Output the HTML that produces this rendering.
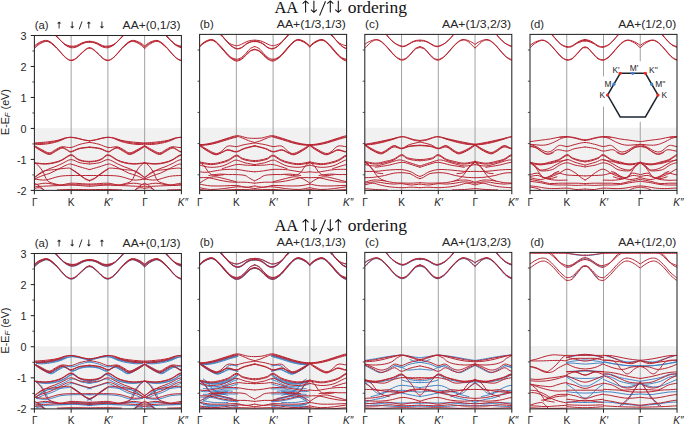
<!DOCTYPE html><html><head><meta charset="utf-8"><style>html,body{margin:0;padding:0;background:#fff;width:685px;height:425px;overflow:hidden}svg{display:block}text{font-family:"Liberation Sans",sans-serif;fill:#262626}.sr{font-family:"Liberation Serif",serif;fill:#111}</style></head><body>
<svg width="685" height="425" viewBox="0 0 685 425">
<rect width="685" height="425" fill="#fff"/>
<text class="sr" x="274.4" y="12.60" font-size="16.6" textLength="23.9" lengthAdjust="spacingAndGlyphs">AA</text>
<text class="sr" x="347.7" y="12.60" font-size="16.6" textLength="59.2" lengthAdjust="spacingAndGlyphs">ordering</text>
<path d="M305.60 12.60V1.10M302.60 3.70L305.60 0.90L308.60 3.70" stroke="#111" stroke-width="1.05" fill="none"/>
<path d="M313.90 0.70V12.20M310.90 9.60L313.90 12.40L316.90 9.60" stroke="#111" stroke-width="1.05" fill="none"/>
<path d="M330.30 12.60V1.10M327.30 3.70L330.30 0.90L333.30 3.70" stroke="#111" stroke-width="1.05" fill="none"/>
<path d="M338.30 0.70V12.20M335.30 9.60L338.30 12.40L341.30 9.60" stroke="#111" stroke-width="1.05" fill="none"/>
<line x1="319.6" y1="15.60" x2="325.5" y2="1.20" stroke="#111" stroke-width="1.05"/>
<rect x="34.40" y="128.14" width="147.00" height="62.26" fill="#f1f1f1"/>
<line x1="71.15" y1="35.50" x2="71.15" y2="190.40" stroke="#a2a2a2" stroke-width="1"/>
<line x1="107.90" y1="35.50" x2="107.90" y2="190.40" stroke="#a2a2a2" stroke-width="1"/>
<line x1="144.65" y1="35.50" x2="144.65" y2="190.40" stroke="#a2a2a2" stroke-width="1"/>
<clipPath id="c00"><rect x="34.40" y="35.50" width="147.00" height="154.90"/></clipPath>
<g clip-path="url(#c00)" fill="none" stroke-linejoin="round" stroke-linecap="round">
<path d="M34.5 45.9C35.3 45.3 37.4 43.4 39.2 42.5C41.1 41.6 43.8 40.5 45.6 40.4C47.4 40.3 48.4 40.8 50.1 41.8C51.8 42.8 53.6 44.4 55.5 46.4C57.5 48.4 60.1 51.7 61.9 53.6C63.7 55.6 64.9 57.0 66.4 58.1C67.9 59.2 69.4 60.1 70.9 60.2C72.4 60.2 73.8 59.7 75.4 58.6C77.1 57.5 79.1 55.3 80.9 53.6C82.7 52.0 84.9 49.8 86.3 48.8C87.7 47.8 88.9 47.9 89.5 47.7M144.5 45.9C143.7 45.3 141.6 43.4 139.8 42.5C138.0 41.6 135.3 40.5 133.5 40.4C131.7 40.3 130.6 40.8 128.9 41.8C127.3 42.8 125.5 44.4 123.5 46.4C121.6 48.4 119.0 51.7 117.2 53.6C115.4 55.6 114.2 57.0 112.7 58.1C111.1 59.2 109.6 60.1 108.1 60.2C106.6 60.2 105.3 59.7 103.6 58.6C101.9 57.5 100.0 55.3 98.2 53.6C96.4 52.0 94.2 49.8 92.7 48.8C91.3 47.8 90.1 47.9 89.6 47.7M144.8 45.9C145.6 45.3 147.7 43.4 149.5 42.5C151.3 41.6 154.0 40.5 155.8 40.4C157.6 40.3 158.7 40.8 160.4 41.8C162.0 42.8 163.8 44.4 165.8 46.4C167.7 48.4 170.3 51.7 172.1 53.6C173.9 55.6 175.1 57.0 176.6 58.1C178.2 59.2 179.7 60.1 181.2 60.2C182.7 60.2 184.0 59.7 185.7 58.6C187.4 57.5 190.2 54.5 191.1 53.6M34.5 47.0C35.3 46.4 37.4 44.4 39.2 43.4C41.1 42.4 43.8 41.1 45.6 41.0C47.4 40.8 48.4 41.3 50.1 42.3C51.8 43.3 53.6 44.9 55.5 46.8C57.5 48.8 60.1 52.1 61.9 54.0C63.7 55.9 64.9 57.3 66.4 58.4C67.9 59.5 69.4 60.5 70.9 60.6C72.4 60.7 73.8 60.2 75.4 59.1C77.1 58.0 79.1 55.6 80.9 54.0C82.7 52.4 84.9 50.3 86.3 49.3C87.7 48.3 88.9 48.4 89.5 48.2M144.5 47.0C143.7 46.4 141.6 44.4 139.8 43.4C138.0 42.4 135.3 41.1 133.5 41.0C131.7 40.8 130.6 41.3 128.9 42.3C127.3 43.3 125.5 44.9 123.5 46.8C121.6 48.8 119.0 52.1 117.2 54.0C115.4 55.9 114.2 57.3 112.7 58.4C111.1 59.5 109.6 60.5 108.1 60.6C106.6 60.7 105.3 60.2 103.6 59.1C101.9 58.0 100.0 55.6 98.2 54.0C96.4 52.4 94.2 50.3 92.7 49.3C91.3 48.3 90.1 48.4 89.6 48.2M144.8 47.0C145.6 46.4 147.7 44.4 149.5 43.4C151.3 42.4 154.0 41.1 155.8 41.0C157.6 40.8 158.7 41.3 160.4 42.3C162.0 43.3 163.8 44.9 165.8 46.8C167.7 48.8 170.3 52.1 172.1 54.0C173.9 55.9 175.1 57.3 176.6 58.4C178.2 59.5 179.7 60.5 181.2 60.6C182.7 60.7 184.0 60.2 185.7 59.1C187.4 58.0 190.2 54.8 191.1 54.0M34.5 48.4C35.3 47.7 37.4 45.5 39.2 44.3C41.1 43.2 43.8 41.7 45.6 41.4C47.4 41.1 48.4 41.6 50.1 42.6C51.8 43.5 54.6 46.4 55.5 47.1M144.5 48.4C143.7 47.7 141.6 45.5 139.8 44.3C138.0 43.2 135.3 41.7 133.5 41.4C131.7 41.1 130.6 41.6 128.9 42.6C127.3 43.5 124.4 46.4 123.5 47.1M144.8 48.4C145.6 47.7 147.7 45.5 149.5 44.3C151.3 43.2 154.0 41.7 155.8 41.4C157.6 41.1 158.7 41.6 160.4 42.6C162.0 43.5 164.9 46.4 165.8 47.1M54.6 34.8C55.4 35.5 57.5 37.6 59.2 39.2C60.8 40.7 62.6 42.9 64.6 44.0C66.5 45.2 69.0 45.9 70.9 46.1C72.9 46.4 74.5 46.2 76.4 45.7C78.2 45.1 80.1 43.6 81.8 43.0C83.4 42.3 85.0 41.9 86.3 41.6C87.6 41.3 88.9 41.4 89.5 41.3M124.4 34.8C123.7 35.5 121.6 37.6 119.9 39.2C118.2 40.7 116.4 42.9 114.5 44.0C112.5 45.2 110.1 45.9 108.1 46.1C106.2 46.4 104.5 46.2 102.7 45.7C100.9 45.1 98.9 43.6 97.3 43.0C95.6 42.3 94.0 41.9 92.7 41.6C91.5 41.3 90.1 41.4 89.6 41.3M164.9 34.8C165.6 35.5 167.7 37.6 169.4 39.2C171.1 40.7 172.9 42.9 174.8 44.0C176.8 45.2 179.2 45.9 181.2 46.1C183.1 46.4 184.8 46.2 186.6 45.7C188.4 45.1 191.1 43.4 192.0 43.0M55.1 34.8C55.8 35.6 57.9 37.9 59.6 39.5C61.3 41.1 63.2 43.4 65.0 44.6C66.9 45.8 69.0 46.5 70.9 46.8C72.8 47.1 74.5 46.9 76.4 46.4C78.2 45.9 80.1 44.3 81.8 43.6C83.4 42.9 85.0 42.3 86.3 42.1C87.6 41.8 88.9 41.9 89.5 41.9M124.0 34.8C123.2 35.6 121.1 37.9 119.4 39.5C117.8 41.1 115.9 43.4 114.0 44.6C112.1 45.8 110.0 46.5 108.1 46.8C106.2 47.1 104.5 46.9 102.7 46.4C100.9 45.9 98.9 44.3 97.3 43.6C95.6 42.9 94.0 42.3 92.7 42.1C91.5 41.8 90.1 41.9 89.6 41.9M165.3 34.8C166.1 35.6 168.2 37.9 169.9 39.5C171.5 41.1 173.4 43.4 175.3 44.6C177.2 45.8 179.3 46.5 181.2 46.8C183.1 47.1 184.8 46.9 186.6 46.4C188.4 45.9 191.1 44.1 192.0 43.6M55.5 34.8C56.3 35.7 58.4 38.2 60.1 39.9C61.7 41.6 63.7 43.8 65.5 45.1C67.3 46.4 69.1 47.3 70.9 47.7C72.7 48.0 74.5 47.6 76.4 47.0C78.2 46.4 80.1 44.8 81.8 44.0C83.4 43.3 85.0 42.7 86.3 42.4C87.6 42.1 88.9 42.3 89.5 42.3M123.5 34.8C122.8 35.7 120.7 38.2 119.0 39.9C117.3 41.6 115.4 43.8 113.6 45.1C111.8 46.4 109.9 47.3 108.1 47.7C106.3 48.0 104.5 47.6 102.7 47.0C100.9 46.4 98.9 44.8 97.3 44.0C95.6 43.3 94.0 42.7 92.7 42.4C91.5 42.1 90.1 42.3 89.6 42.3M165.8 34.8C166.5 35.7 168.6 38.2 170.3 39.9C172.0 41.6 173.9 43.8 175.7 45.1C177.5 46.4 179.4 47.3 181.2 47.7C183.0 48.0 184.8 47.6 186.6 47.0C188.4 46.4 191.1 44.5 192.0 44.0M34.5 142.9C35.6 142.9 38.5 142.7 41.1 142.5C43.6 142.3 47.2 142.0 50.1 141.6C53.0 141.2 55.8 140.8 58.2 140.2C60.7 139.6 62.5 138.6 64.6 138.1C66.7 137.6 68.8 137.2 70.9 137.2C73.0 137.2 75.1 137.7 77.3 138.1C79.4 138.6 81.6 139.3 83.6 139.8C85.6 140.2 88.5 140.5 89.5 140.7M144.5 142.9C143.4 142.9 140.6 142.7 138.0 142.5C135.4 142.3 131.8 142.0 128.9 141.6C126.1 141.2 123.2 140.8 120.8 140.2C118.4 139.6 116.6 138.6 114.5 138.1C112.4 137.6 110.2 137.2 108.1 137.2C106.0 137.2 103.9 137.7 101.8 138.1C99.7 138.6 97.5 139.3 95.5 139.8C93.4 140.2 90.6 140.5 89.6 140.7M144.8 142.9C145.9 142.9 148.7 142.7 151.3 142.5C153.9 142.3 157.5 142.0 160.4 141.6C163.2 141.2 166.1 140.8 168.5 140.2C170.9 139.6 172.7 138.6 174.8 138.1C176.9 137.6 179.1 137.2 181.2 137.2C183.3 137.2 186.4 138.0 187.5 138.1M34.5 143.6C35.6 143.6 38.5 143.7 41.1 143.6C43.6 143.4 47.2 143.0 50.1 142.5C53.0 142.0 55.8 141.4 58.2 140.7C60.7 140.0 62.5 139.0 64.6 138.4C66.7 137.9 68.8 137.4 70.9 137.4C73.0 137.4 75.1 138.0 77.3 138.4C79.4 138.8 81.6 139.5 83.6 139.9C85.6 140.4 88.5 140.7 89.5 140.9M144.5 143.6C143.4 143.6 140.6 143.7 138.0 143.6C135.4 143.4 131.8 143.0 128.9 142.5C126.1 142.0 123.2 141.4 120.8 140.7C118.4 140.0 116.6 139.0 114.5 138.4C112.4 137.9 110.2 137.4 108.1 137.4C106.0 137.4 103.9 138.0 101.8 138.4C99.7 138.8 97.5 139.5 95.5 139.9C93.4 140.4 90.6 140.7 89.6 140.9M144.8 143.6C145.9 143.6 148.7 143.7 151.3 143.6C153.9 143.4 157.5 143.0 160.4 142.5C163.2 142.0 166.1 141.4 168.5 140.7C170.9 140.0 172.7 139.0 174.8 138.4C176.9 137.9 179.1 137.4 181.2 137.4C183.3 137.4 186.4 138.2 187.5 138.4M34.5 144.1C35.6 144.2 38.5 144.6 41.1 144.5C43.6 144.4 47.2 143.9 50.1 143.4C53.0 142.9 55.8 142.2 58.2 141.4C60.7 140.6 63.5 139.1 64.6 138.7M144.5 144.1C143.4 144.2 140.6 144.6 138.0 144.5C135.4 144.4 131.8 143.9 128.9 143.4C126.1 142.9 123.2 142.2 120.8 141.4C118.4 140.6 115.5 139.1 114.5 138.7M144.8 144.1C145.9 144.2 148.7 144.6 151.3 144.5C153.9 144.4 157.5 143.9 160.4 143.4C163.2 142.9 166.1 142.2 168.5 141.4C170.9 140.6 173.8 139.1 174.8 138.7M34.5 145.6C35.6 146.3 38.6 148.1 41.1 149.3C43.5 150.5 46.8 152.8 49.2 152.9C51.6 153.0 53.4 150.7 55.5 149.7C57.6 148.7 59.3 147.2 61.9 146.8C64.4 146.4 67.9 147.9 70.9 147.5C73.9 147.0 76.9 145.2 80.0 144.3C83.1 143.4 87.9 142.6 89.5 142.3M144.5 145.6C143.4 146.3 140.4 148.1 138.0 149.3C135.6 150.5 132.3 152.8 129.9 152.9C127.4 153.0 125.6 150.7 123.5 149.7C121.4 148.7 119.7 147.2 117.2 146.8C114.6 146.4 111.1 147.9 108.1 147.5C105.1 147.0 102.2 145.2 99.1 144.3C96.0 143.4 91.2 142.6 89.6 142.3M144.8 145.6C145.9 146.3 148.9 148.1 151.3 149.3C153.7 150.5 157.0 152.8 159.4 152.9C161.9 153.0 163.7 150.7 165.8 149.7C167.9 148.7 169.6 147.2 172.1 146.8C174.7 146.4 178.2 147.9 181.2 147.5C184.2 147.0 188.7 144.8 190.2 144.3M34.5 146.1C35.6 146.8 38.6 148.9 41.1 150.2C43.5 151.5 46.8 153.7 49.2 153.8C51.6 153.9 53.4 151.7 55.5 150.6C57.6 149.6 60.1 147.7 61.9 147.5C63.7 147.2 64.9 148.6 66.4 149.3C67.9 149.9 68.8 151.7 70.9 151.5C73.0 151.4 76.0 149.1 79.1 148.4C82.2 147.6 87.7 147.2 89.5 147.0M144.5 146.1C143.4 146.8 140.4 148.9 138.0 150.2C135.6 151.5 132.3 153.7 129.9 153.8C127.4 153.9 125.6 151.7 123.5 150.6C121.4 149.6 119.0 147.7 117.2 147.5C115.4 147.2 114.2 148.6 112.7 149.3C111.1 149.9 110.2 151.7 108.1 151.5C106.0 151.4 103.1 149.1 100.0 148.4C96.9 147.6 91.3 147.2 89.6 147.0M144.8 146.1C145.9 146.8 148.9 148.9 151.3 150.2C153.7 151.5 157.0 153.7 159.4 153.8C161.9 153.9 163.7 151.7 165.8 150.6C167.9 149.6 170.3 147.7 172.1 147.5C173.9 147.2 175.1 148.6 176.6 149.3C178.2 149.9 179.1 151.7 181.2 151.5C183.3 151.4 188.0 148.9 189.3 148.4M34.5 146.6C35.6 147.3 38.6 149.5 41.1 150.8C43.5 152.1 46.8 154.4 49.2 154.5C51.6 154.6 53.4 152.4 55.5 151.4C57.6 150.3 60.1 148.4 61.9 148.1C63.7 147.8 64.9 149.1 66.4 149.7C67.9 150.4 68.8 152.1 70.9 152.0C73.0 151.8 76.0 149.6 79.1 148.8C82.2 148.0 87.7 147.6 89.5 147.4M144.5 146.6C143.4 147.3 140.4 149.5 138.0 150.8C135.6 152.1 132.3 154.4 129.9 154.5C127.4 154.6 125.6 152.4 123.5 151.4C121.4 150.3 119.0 148.4 117.2 148.1C115.4 147.8 114.2 149.1 112.7 149.7C111.1 150.4 110.2 152.1 108.1 152.0C106.0 151.8 103.1 149.6 100.0 148.8C96.9 148.0 91.3 147.6 89.6 147.4M144.8 146.6C145.9 147.3 148.9 149.5 151.3 150.8C153.7 152.1 157.0 154.4 159.4 154.5C161.9 154.6 163.7 152.4 165.8 151.4C167.9 150.3 170.3 148.4 172.1 148.1C173.9 147.8 175.1 149.1 176.6 149.7C178.2 150.4 179.1 152.1 181.2 152.0C183.3 151.8 188.0 149.3 189.3 148.8M34.5 162.8C36.4 162.9 42.2 163.8 45.6 163.7C48.9 163.6 51.9 163.0 54.6 162.3C57.3 161.7 59.2 161.1 61.9 159.8C64.6 158.5 68.4 154.9 70.9 154.7C73.5 154.6 75.3 157.7 77.3 158.7C79.2 159.7 80.6 160.3 82.7 160.7C84.7 161.2 88.3 161.3 89.5 161.4M144.5 162.8C142.7 162.9 136.8 163.8 133.5 163.7C130.1 163.6 127.1 163.0 124.4 162.3C121.7 161.7 119.9 161.1 117.2 159.8C114.5 158.5 110.7 154.9 108.1 154.7C105.6 154.6 103.8 157.7 101.8 158.7C99.8 159.7 98.4 160.3 96.4 160.7C94.3 161.2 90.7 161.3 89.6 161.4M144.8 162.8C146.6 162.9 152.5 163.8 155.8 163.7C159.2 163.6 162.2 163.0 164.9 162.3C167.6 161.7 169.4 161.1 172.1 159.8C174.8 158.5 178.6 154.9 181.2 154.7C183.7 154.6 186.4 158.1 187.5 158.7M34.5 163.2C36.4 163.4 42.2 164.2 45.6 164.1C48.9 164.1 51.9 163.5 54.6 162.9C57.3 162.2 59.2 161.6 61.9 160.3C64.6 159.1 68.4 155.5 70.9 155.3C73.5 155.1 75.3 158.3 77.3 159.3C79.2 160.3 80.6 160.8 82.7 161.2C84.7 161.7 88.3 161.9 89.5 162.0M144.5 163.2C142.7 163.4 136.8 164.2 133.5 164.1C130.1 164.1 127.1 163.5 124.4 162.9C121.7 162.2 119.9 161.6 117.2 160.3C114.5 159.1 110.7 155.5 108.1 155.3C105.6 155.1 103.8 158.3 101.8 159.3C99.8 160.3 98.4 160.8 96.4 161.2C94.3 161.7 90.7 161.9 89.6 162.0M144.8 163.2C146.6 163.4 152.5 164.2 155.8 164.1C159.2 164.1 162.2 163.5 164.9 162.9C167.6 162.2 169.4 161.6 172.1 160.3C174.8 159.1 178.6 155.5 181.2 155.3C183.7 155.1 186.4 158.6 187.5 159.3M34.5 162.8C34.8 162.9 35.3 162.9 36.2 163.6C37.0 164.3 38.5 165.7 39.4 166.8C40.4 167.8 41.1 169.1 41.8 170.0C42.4 171.0 42.9 171.3 43.4 172.4C43.9 173.4 44.5 175.2 45.0 176.4C45.6 177.6 45.9 178.7 46.6 179.6C47.2 180.6 47.8 181.3 49.0 182.0C50.2 182.6 52.2 183.1 53.8 183.6C55.4 184.1 57.1 184.5 58.6 184.8C60.1 185.1 60.9 185.2 63.0 185.2C65.0 185.2 68.1 184.9 70.9 184.8C73.8 184.7 76.9 184.8 80.0 184.8C83.1 184.8 87.9 184.9 89.5 185.0M144.5 162.8C144.2 162.9 143.7 162.9 142.9 163.6C142.1 164.3 140.6 165.7 139.6 166.8C138.7 167.8 137.9 169.1 137.3 170.0C136.6 171.0 136.2 171.3 135.6 172.4C135.1 173.4 134.5 175.2 134.0 176.4C133.5 177.6 133.1 178.7 132.5 179.6C131.8 180.6 131.2 181.3 130.0 182.0C128.8 182.6 126.8 183.1 125.2 183.6C123.6 184.1 122.0 184.5 120.4 184.8C118.9 185.1 118.1 185.2 116.1 185.2C114.0 185.2 111.0 184.9 108.1 184.8C105.3 184.7 102.2 184.8 99.1 184.8C96.0 184.8 91.2 184.9 89.6 185.0M144.8 162.8C145.1 162.9 145.6 162.9 146.4 163.6C147.2 164.3 148.7 165.7 149.7 166.8C150.6 167.8 151.4 169.1 152.0 170.0C152.7 171.0 153.1 171.3 153.7 172.4C154.2 173.4 154.8 175.2 155.3 176.4C155.8 177.6 156.2 178.7 156.8 179.6C157.5 180.6 158.1 181.3 159.3 182.0C160.5 182.6 162.5 183.1 164.1 183.6C165.7 184.1 167.3 184.5 168.9 184.8C170.4 185.1 171.2 185.2 173.2 185.2C175.3 185.2 178.3 184.9 181.2 184.8C184.0 184.7 188.7 184.8 190.2 184.8M34.5 177.3C35.6 176.6 38.9 174.5 41.1 173.2C43.2 171.9 45.1 170.6 47.4 169.6C49.6 168.5 52.2 167.8 54.6 166.9C57.0 165.9 59.2 164.9 61.9 163.7C64.6 162.5 67.9 159.8 70.9 159.6C73.9 159.5 76.9 162.1 80.0 162.8C83.1 163.5 87.9 163.8 89.5 164.0M144.5 177.3C143.4 176.6 140.1 174.5 138.0 173.2C135.9 171.9 133.9 170.6 131.7 169.6C129.4 168.5 126.8 167.8 124.4 166.9C122.0 165.9 119.9 164.9 117.2 163.7C114.5 162.5 111.1 159.8 108.1 159.6C105.1 159.5 102.2 162.1 99.1 162.8C96.0 163.5 91.2 163.8 89.6 164.0M144.8 177.3C145.9 176.6 149.2 174.5 151.3 173.2C153.4 171.9 155.4 170.6 157.6 169.6C159.9 168.5 162.5 167.8 164.9 166.9C167.3 165.9 169.4 164.9 172.1 163.7C174.8 162.5 178.2 159.8 181.2 159.6C184.2 159.5 188.7 162.3 190.2 162.8M34.5 179.1C35.9 178.5 40.3 176.4 42.9 175.5C45.5 174.5 47.4 174.3 50.1 173.2C52.8 172.1 56.4 170.0 59.2 168.7C61.9 167.3 64.4 165.8 66.4 165.1C68.4 164.3 68.7 163.8 70.9 164.1C73.2 164.4 76.9 166.0 80.0 166.9C83.1 167.8 87.9 169.1 89.5 169.6M144.5 179.1C143.1 178.5 138.8 176.4 136.2 175.5C133.6 174.5 131.7 174.3 128.9 173.2C126.2 172.1 122.6 170.0 119.9 168.7C117.2 167.3 114.6 165.8 112.7 165.1C110.7 164.3 110.4 163.8 108.1 164.1C105.9 164.4 102.2 166.0 99.1 166.9C96.0 167.8 91.2 169.1 89.6 169.6M144.8 179.1C146.2 178.5 150.5 176.4 153.1 175.5C155.7 174.5 157.6 174.3 160.4 173.2C163.1 172.1 166.7 170.0 169.4 168.7C172.1 167.3 174.7 165.8 176.6 165.1C178.6 164.3 178.9 163.8 181.2 164.1C183.4 164.4 188.7 166.4 190.2 166.9M34.5 177.7C35.9 176.7 39.5 172.7 42.9 171.4C46.2 170.0 50.7 170.1 54.6 169.6C58.5 169.0 63.7 168.4 66.4 168.2C69.1 168.1 68.8 167.7 70.9 168.7C73.0 169.7 76.8 172.5 79.1 174.1C81.3 175.7 82.8 177.1 84.5 178.2C86.2 179.2 88.6 180.1 89.5 180.4M144.5 177.7C143.1 176.7 139.5 172.7 136.2 171.4C132.8 170.0 128.3 170.1 124.4 169.6C120.5 169.0 115.4 168.4 112.7 168.2C109.9 168.1 110.2 167.7 108.1 168.7C106.0 169.7 102.2 172.5 100.0 174.1C97.7 175.7 96.3 177.1 94.6 178.2C92.8 179.2 90.4 180.1 89.6 180.4M144.8 177.7C146.2 176.7 149.8 172.7 153.1 171.4C156.5 170.0 161.0 170.1 164.9 169.6C168.8 169.0 173.9 168.4 176.6 168.2C179.4 168.1 179.1 167.7 181.2 168.7C183.3 169.7 188.0 173.2 189.3 174.1M70.9 169.1C72.3 170.0 76.8 173.0 79.1 174.6C81.3 176.1 82.8 177.6 84.5 178.6C86.2 179.7 88.6 180.5 89.5 180.9M108.1 169.1C106.8 170.0 102.2 173.0 100.0 174.6C97.7 176.1 96.3 177.6 94.6 178.6C92.8 179.7 90.4 180.5 89.6 180.9M181.2 169.1C182.5 170.0 188.0 173.6 189.3 174.6M34.5 179.1C36.4 179.2 41.5 180.4 45.6 180.0C49.7 179.5 54.9 177.1 59.2 176.4C63.4 175.6 67.5 175.6 70.9 175.5C74.4 175.3 76.9 175.5 80.0 175.5C83.1 175.5 87.9 175.5 89.5 175.5M144.5 179.1C142.7 179.2 137.6 180.4 133.5 180.0C129.4 179.5 124.1 177.1 119.9 176.4C115.7 175.6 111.6 175.6 108.1 175.5C104.7 175.3 102.2 175.5 99.1 175.5C96.0 175.5 91.2 175.5 89.6 175.5M144.8 179.1C146.6 179.2 151.7 180.4 155.8 180.0C159.9 179.5 165.2 177.1 169.4 176.4C173.6 175.6 177.7 175.6 181.2 175.5C184.6 175.3 188.7 175.5 190.2 175.5M34.5 185.0C36.4 184.7 41.5 183.2 45.6 183.2C49.7 183.2 54.9 185.0 59.2 185.0C63.4 185.0 67.5 183.4 70.9 183.2C74.4 182.9 76.9 183.5 80.0 183.6C83.1 183.8 87.9 184.0 89.5 184.1M144.5 185.0C142.7 184.7 137.6 183.2 133.5 183.2C129.4 183.2 124.1 185.0 119.9 185.0C115.7 185.0 111.6 183.4 108.1 183.2C104.7 182.9 102.2 183.5 99.1 183.6C96.0 183.8 91.2 184.0 89.6 184.1M144.8 185.0C146.6 184.7 151.7 183.2 155.8 183.2C159.9 183.2 165.2 185.0 169.4 185.0C173.6 185.0 177.7 183.4 181.2 183.2C184.6 182.9 188.7 183.5 190.2 183.6M34.5 186.8C37.1 186.6 45.2 186.1 50.1 185.9C55.0 185.6 60.2 185.6 63.7 185.4C67.1 185.3 66.6 184.8 70.9 185.0C75.2 185.1 86.4 186.1 89.5 186.3M144.5 186.8C141.9 186.6 133.8 186.1 128.9 185.9C124.1 185.6 118.8 185.6 115.4 185.4C111.9 185.3 112.4 184.8 108.1 185.0C103.8 185.1 92.7 186.1 89.6 186.3M144.8 186.8C147.4 186.6 155.5 186.1 160.4 185.9C165.2 185.6 170.5 185.6 173.9 185.4C177.4 185.3 180.0 185.0 181.2 185.0M34.5 183.2C35.3 183.6 37.7 184.7 39.2 185.9C40.8 187.0 43.0 189.3 43.8 189.9M144.5 183.2C143.7 183.6 141.3 184.7 139.8 185.9C138.3 187.0 136.0 189.3 135.3 189.9M144.8 183.2C145.6 183.6 148.0 184.7 149.5 185.9C151.0 187.0 153.3 189.3 154.0 189.9M57.3 189.9C59.6 189.9 65.6 189.5 70.9 189.5C76.3 189.4 86.4 189.6 89.5 189.7M121.7 189.9C119.4 189.9 113.5 189.5 108.1 189.5C102.8 189.4 92.7 189.6 89.6 189.7M167.6 189.9C169.9 189.9 178.9 189.6 181.2 189.5M34.5 188.6C35.3 188.4 37.7 187.5 39.2 187.7C40.8 187.9 43.0 189.3 43.8 189.7M144.5 188.6C143.7 188.4 141.3 187.5 139.8 187.7C138.3 187.9 136.0 189.3 135.3 189.7M144.8 188.6C145.6 188.4 148.0 187.5 149.5 187.7C151.0 187.9 153.3 189.3 154.0 189.7" stroke="#b82431" stroke-width="1.0"/>
</g>
<rect x="34.40" y="35.50" width="147.00" height="154.90" fill="none" stroke="#262626" stroke-width="1.05"/>
<line x1="32.30" x2="34.40" y1="50.99" y2="50.99" stroke="#262626" stroke-width="0.8"/>
<line x1="32.30" x2="34.40" y1="81.97" y2="81.97" stroke="#262626" stroke-width="0.8"/>
<line x1="32.30" x2="34.40" y1="112.95" y2="112.95" stroke="#262626" stroke-width="0.8"/>
<line x1="32.30" x2="34.40" y1="143.93" y2="143.93" stroke="#262626" stroke-width="0.8"/>
<line x1="32.30" x2="34.40" y1="174.91" y2="174.91" stroke="#262626" stroke-width="0.8"/>
<line x1="30.70" x2="34.40" y1="35.50" y2="35.50" stroke="#262626" stroke-width="1.05"/>
<text x="26.5" y="40.00" font-size="10.8" text-anchor="end">3</text>
<line x1="30.70" x2="34.40" y1="66.48" y2="66.48" stroke="#262626" stroke-width="1.05"/>
<text x="26.5" y="70.98" font-size="10.8" text-anchor="end">2</text>
<line x1="30.70" x2="34.40" y1="97.46" y2="97.46" stroke="#262626" stroke-width="1.05"/>
<text x="26.5" y="101.96" font-size="10.8" text-anchor="end">1</text>
<line x1="30.70" x2="34.40" y1="128.44" y2="128.44" stroke="#262626" stroke-width="1.05"/>
<text x="26.5" y="132.94" font-size="10.8" text-anchor="end">0</text>
<line x1="30.70" x2="34.40" y1="159.42" y2="159.42" stroke="#262626" stroke-width="1.05"/>
<text x="26.5" y="163.92" font-size="10.8" text-anchor="end">-1</text>
<line x1="30.70" x2="34.40" y1="190.40" y2="190.40" stroke="#262626" stroke-width="1.05"/>
<text x="26.5" y="194.90" font-size="10.8" text-anchor="end">-2</text>
<line x1="34.40" x2="34.40" y1="190.40" y2="194.30" stroke="#262626" stroke-width="1.05"/>
<line x1="71.15" x2="71.15" y1="190.40" y2="194.30" stroke="#262626" stroke-width="1.05"/>
<line x1="107.90" x2="107.90" y1="190.40" y2="194.30" stroke="#262626" stroke-width="1.05"/>
<line x1="144.65" x2="144.65" y1="190.40" y2="194.30" stroke="#262626" stroke-width="1.05"/>
<line x1="181.40" x2="181.40" y1="190.40" y2="194.30" stroke="#262626" stroke-width="1.05"/>
<text x="34.70" y="205.80" font-size="10.1" text-anchor="middle">Γ</text>
<text x="71.15" y="205.80" font-size="10.1" text-anchor="middle">K</text>
<text x="108.20" y="205.80" font-size="10.1" text-anchor="middle" font-style="italic">K′</text>
<text x="144.95" y="205.80" font-size="10.1" text-anchor="middle">Γ</text>
<text x="182.90" y="205.80" font-size="10.1" text-anchor="middle" font-style="italic">K″</text>
<text x="180.60" y="28.70" font-size="10.4" text-anchor="end" textLength="58" lengthAdjust="spacingAndGlyphs">AA+(0,1/3)</text>
<text x="34.65" y="28.70" font-size="10.4" textLength="13.8" lengthAdjust="spacingAndGlyphs">(a)</text>
<path d="M59.10 28.50V22.70" stroke="#333" stroke-width="1"/><path d="M57.00 23.40L59.10 21.50L61.20 23.40Z" fill="#222"/>
<path d="M72.20 21.50V27.30" stroke="#333" stroke-width="1"/><path d="M70.10 26.60L72.20 28.50L74.30 26.60Z" fill="#222"/>
<line x1="79.20" y1="29.40" x2="82.00" y2="21.40" stroke="#262626" stroke-width="0.95"/>
<path d="M88.80 28.50V22.70" stroke="#333" stroke-width="1"/><path d="M86.70 23.40L88.80 21.50L90.90 23.40Z" fill="#222"/>
<path d="M101.90 21.50V27.30" stroke="#333" stroke-width="1"/><path d="M99.80 26.60L101.90 28.50L104.00 26.60Z" fill="#222"/>
<rect x="199.60" y="127.70" width="147.00" height="62.70" fill="#f1f1f1"/>
<line x1="236.35" y1="34.40" x2="236.35" y2="190.40" stroke="#a2a2a2" stroke-width="1"/>
<line x1="273.10" y1="34.40" x2="273.10" y2="190.40" stroke="#a2a2a2" stroke-width="1"/>
<line x1="309.85" y1="34.40" x2="309.85" y2="190.40" stroke="#a2a2a2" stroke-width="1"/>
<clipPath id="c01"><rect x="199.60" y="34.40" width="147.00" height="156.00"/></clipPath>
<g clip-path="url(#c01)" fill="none" stroke-linejoin="round" stroke-linecap="round">
<path d="M199.6 46.1C200.4 45.4 202.4 43.2 204.2 42.1C206.1 40.9 208.8 39.7 210.6 39.5C212.4 39.3 213.4 39.9 215.1 41.0C216.8 42.1 218.6 44.1 220.5 46.1C222.5 48.2 225.1 51.5 226.9 53.4C228.7 55.3 229.8 56.5 231.4 57.4C233.0 58.4 234.7 59.2 236.4 59.2C238.0 59.3 239.8 58.6 241.4 57.6C242.9 56.6 244.4 54.9 245.9 53.4C247.4 51.8 248.9 49.5 250.4 48.4C251.9 47.3 253.9 46.9 254.7 46.6M309.8 46.1C309.1 45.4 307.0 43.2 305.2 42.1C303.4 40.9 300.7 39.7 298.9 39.5C297.1 39.3 296.0 39.9 294.3 41.0C292.7 42.1 290.9 44.1 288.9 46.1C287.0 48.2 284.4 51.5 282.6 53.4C280.8 55.3 279.6 56.5 278.1 57.4C276.5 58.4 274.7 59.2 273.1 59.2C271.4 59.3 269.7 58.6 268.1 57.6C266.5 56.6 265.1 54.9 263.6 53.4C262.1 51.8 260.5 49.5 259.0 48.4C257.6 47.3 255.5 46.9 254.8 46.6M309.9 46.1C310.6 45.4 312.7 43.2 314.5 42.1C316.3 40.9 319.0 39.7 320.8 39.5C322.6 39.3 323.7 39.9 325.4 41.0C327.0 42.1 328.8 44.1 330.8 46.1C332.7 48.2 335.3 51.5 337.1 53.4C338.9 55.3 340.1 56.5 341.6 57.4C343.2 58.4 345.0 59.2 346.6 59.2C348.3 59.3 350.0 58.6 351.6 57.6C353.2 56.6 355.4 54.1 356.1 53.4M199.6 46.6C200.4 45.9 202.4 43.7 204.2 42.6C206.1 41.5 208.8 40.2 210.6 40.0C212.4 39.8 213.4 40.3 215.1 41.4C216.8 42.5 218.6 44.7 220.5 46.8C222.5 48.9 225.1 52.1 226.9 54.0C228.7 55.9 229.8 57.1 231.4 58.2C233.0 59.2 234.7 60.0 236.4 60.2C238.0 60.3 239.8 59.7 241.4 58.8C242.9 57.9 244.4 56.1 245.9 54.7C247.4 53.4 248.9 51.6 250.4 50.6C251.9 49.7 253.9 49.5 254.7 49.3M309.8 46.6C309.1 45.9 307.0 43.7 305.2 42.6C303.4 41.5 300.7 40.2 298.9 40.0C297.1 39.8 296.0 40.3 294.3 41.4C292.7 42.5 290.9 44.7 288.9 46.8C287.0 48.9 284.4 52.1 282.6 54.0C280.8 55.9 279.6 57.1 278.1 58.2C276.5 59.2 274.7 60.0 273.1 60.2C271.4 60.3 269.7 59.7 268.1 58.8C266.5 57.9 265.1 56.1 263.6 54.7C262.1 53.4 260.5 51.6 259.0 50.6C257.6 49.7 255.5 49.5 254.8 49.3M309.9 46.6C310.6 45.9 312.7 43.7 314.5 42.6C316.3 41.5 319.0 40.2 320.8 40.0C322.6 39.8 323.7 40.3 325.4 41.4C327.0 42.5 328.8 44.7 330.8 46.8C332.7 48.9 335.3 52.1 337.1 54.0C338.9 55.9 340.1 57.1 341.6 58.2C343.2 59.2 345.0 60.0 346.6 60.2C348.3 60.3 350.0 59.7 351.6 58.8C353.2 57.9 355.4 55.4 356.1 54.7M199.6 47.0C200.4 46.4 202.4 44.1 204.2 43.0C206.1 41.8 208.8 40.5 210.6 40.2C212.4 40.0 213.4 40.5 215.1 41.7C216.8 42.8 218.6 45.0 220.5 47.1C222.5 49.2 225.1 52.5 226.9 54.5C228.7 56.4 229.8 57.5 231.4 58.6C233.0 59.7 234.7 60.9 236.4 61.1C238.0 61.2 239.8 60.4 241.4 59.4C242.9 58.5 244.4 56.8 245.9 55.4C247.4 54.1 248.9 52.1 250.4 51.1C251.9 50.2 253.9 50.0 254.7 49.7M309.8 47.0C309.1 46.4 307.0 44.1 305.2 43.0C303.4 41.8 300.7 40.5 298.9 40.2C297.1 40.0 296.0 40.5 294.3 41.7C292.7 42.8 290.9 45.0 288.9 47.1C287.0 49.2 284.4 52.5 282.6 54.5C280.8 56.4 279.6 57.5 278.1 58.6C276.5 59.7 274.7 60.9 273.1 61.1C271.4 61.2 269.7 60.4 268.1 59.4C266.5 58.5 265.1 56.8 263.6 55.4C262.1 54.1 260.5 52.1 259.0 51.1C257.6 50.2 255.5 50.0 254.8 49.7M309.9 47.0C310.6 46.4 312.7 44.1 314.5 43.0C316.3 41.8 319.0 40.5 320.8 40.2C322.6 40.0 323.7 40.5 325.4 41.7C327.0 42.8 328.8 45.0 330.8 47.1C332.7 49.2 335.3 52.5 337.1 54.5C338.9 56.4 340.1 57.5 341.6 58.6C343.2 59.7 345.0 60.9 346.6 61.1C348.3 61.2 350.0 60.4 351.6 59.4C353.2 58.5 355.4 56.1 356.1 55.4M220.1 34.4C220.8 35.0 222.6 36.9 224.2 38.4C225.7 39.9 227.5 42.2 229.6 43.4C231.6 44.6 234.4 45.5 236.4 45.7C238.3 45.8 239.6 45.0 241.4 44.3C243.1 43.6 245.1 42.2 246.8 41.6C248.4 40.9 250.0 40.6 251.3 40.4C252.6 40.2 254.1 40.3 254.7 40.2M289.4 34.4C288.7 35.0 286.9 36.9 285.3 38.4C283.7 39.9 281.9 42.2 279.9 43.4C277.8 44.6 275.0 45.5 273.1 45.7C271.1 45.8 269.8 45.0 268.1 44.3C266.4 43.6 264.3 42.2 262.7 41.6C261.0 40.9 259.5 40.6 258.1 40.4C256.8 40.2 255.4 40.3 254.8 40.2M330.3 34.4C331.0 35.0 332.8 36.9 334.4 38.4C336.0 39.9 337.8 42.2 339.8 43.4C341.9 44.6 344.7 45.5 346.6 45.7C348.6 45.8 349.9 45.0 351.6 44.3C353.3 43.6 356.1 42.1 357.0 41.6M220.7 34.4C221.4 35.2 223.4 37.5 225.1 39.3C226.7 41.1 228.6 43.7 230.5 45.2C232.4 46.7 234.6 48.0 236.4 48.4C238.2 48.8 239.6 48.3 241.4 47.5C243.1 46.7 245.1 44.4 246.8 43.4C248.4 42.4 250.0 42.0 251.3 41.6C252.6 41.2 254.1 41.2 254.7 41.1M288.7 34.4C288.0 35.2 286.0 37.5 284.4 39.3C282.8 41.1 280.8 43.7 279.0 45.2C277.1 46.7 274.9 48.0 273.1 48.4C271.3 48.8 269.8 48.3 268.1 47.5C266.4 46.7 264.3 44.4 262.7 43.4C261.0 42.4 259.5 42.0 258.1 41.6C256.8 41.2 255.4 41.2 254.8 41.1M331.0 34.4C331.7 35.2 333.7 37.5 335.3 39.3C336.9 41.1 338.9 43.7 340.7 45.2C342.6 46.7 344.8 48.0 346.6 48.4C348.4 48.8 349.9 48.3 351.6 47.5C353.3 46.7 356.1 44.1 357.0 43.4M221.3 34.4C222.0 35.3 223.9 37.9 225.5 39.8C227.1 41.7 229.1 44.2 230.9 45.7C232.8 47.2 234.6 48.5 236.4 48.8C238.1 49.2 239.6 48.8 241.4 47.9C243.1 47.1 245.1 44.9 246.8 43.9C248.4 42.9 250.0 42.2 251.3 41.9C252.6 41.5 254.1 41.6 254.7 41.6M288.2 34.4C287.5 35.3 285.6 37.9 283.9 39.8C282.3 41.7 280.3 44.2 278.5 45.7C276.7 47.2 274.8 48.5 273.1 48.8C271.3 49.2 269.8 48.8 268.1 47.9C266.4 47.1 264.3 44.9 262.7 43.9C261.0 42.9 259.5 42.2 258.1 41.9C256.8 41.5 255.4 41.6 254.8 41.6M331.5 34.4C332.2 35.3 334.1 37.9 335.8 39.8C337.4 41.7 339.4 44.2 341.2 45.7C343.0 47.2 344.9 48.5 346.6 48.8C348.4 49.2 349.9 48.8 351.6 47.9C353.3 47.1 356.1 44.5 357.0 43.9M199.6 144.7C201.0 144.6 205.0 144.4 207.9 143.8C210.7 143.3 213.7 142.5 216.9 141.6C220.1 140.7 223.6 139.4 226.9 138.4C230.1 137.4 233.8 136.0 236.4 135.7C238.9 135.4 240.4 136.2 242.3 136.6C244.1 137.0 245.6 137.7 247.7 138.0C249.8 138.3 253.5 138.3 254.7 138.4M309.8 144.7C308.5 144.6 304.5 144.4 301.6 143.8C298.7 143.3 295.7 142.5 292.5 141.6C289.4 140.7 285.8 139.4 282.6 138.4C279.3 137.4 275.6 136.0 273.1 135.7C270.5 135.4 269.1 136.2 267.2 136.6C265.3 137.0 263.8 137.7 261.8 138.0C259.7 138.3 256.0 138.3 254.8 138.4M309.9 144.7C311.2 144.6 315.2 144.4 318.1 143.8C321.0 143.3 324.0 142.5 327.2 141.6C330.3 140.7 333.9 139.4 337.1 138.4C340.4 137.4 344.1 136.0 346.6 135.7C349.2 135.4 351.5 136.4 352.5 136.6M199.6 145.0C201.0 144.9 205.0 144.8 207.9 144.3C210.7 143.8 213.7 143.1 216.9 142.2C220.1 141.3 223.6 140.0 226.9 139.0C230.1 138.1 233.8 136.8 236.4 136.6C238.9 136.4 240.2 137.3 242.3 138.0C244.3 138.6 246.5 139.9 248.6 140.7C250.7 141.4 253.6 142.2 254.7 142.5M309.8 145.0C308.5 144.9 304.5 144.8 301.6 144.3C298.7 143.8 295.7 143.1 292.5 142.2C289.4 141.3 285.8 140.0 282.6 139.0C279.3 138.1 275.6 136.8 273.1 136.6C270.5 136.4 269.2 137.3 267.2 138.0C265.2 138.6 262.9 139.9 260.9 140.7C258.8 141.4 255.8 142.2 254.8 142.5M309.9 145.0C311.2 144.9 315.2 144.8 318.1 144.3C321.0 143.8 324.0 143.1 327.2 142.2C330.3 141.3 333.9 140.0 337.1 139.0C340.4 138.1 344.1 136.8 346.6 136.6C349.2 136.4 351.5 137.7 352.5 138.0M199.6 145.4C201.0 145.3 205.0 145.2 207.9 144.8C210.7 144.4 213.7 143.8 216.9 142.9C220.1 142.1 223.6 140.7 226.9 139.8C230.1 138.8 234.8 137.5 236.4 137.1M309.8 145.4C308.5 145.3 304.5 145.2 301.6 144.8C298.7 144.4 295.7 143.8 292.5 142.9C289.4 142.1 285.8 140.7 282.6 139.8C279.3 138.8 274.7 137.5 273.1 137.1M309.9 145.4C311.2 145.3 315.2 145.2 318.1 144.8C321.0 144.4 324.0 143.8 327.2 142.9C330.3 142.1 333.9 140.7 337.1 139.8C340.4 138.8 345.0 137.5 346.6 137.1M199.6 144.7C200.7 145.4 203.5 147.4 206.1 148.8C208.6 150.3 212.7 152.8 215.1 153.3C217.5 153.9 218.4 153.2 220.5 152.0C222.6 150.8 225.1 147.0 227.8 146.1C230.4 145.2 233.7 146.8 236.4 146.6C239.1 146.3 241.0 145.3 244.1 144.7C247.1 144.1 252.9 143.2 254.7 142.9M309.8 144.7C308.8 145.4 306.0 147.4 303.4 148.8C300.8 150.3 296.8 152.8 294.3 153.3C291.9 153.9 291.0 153.2 288.9 152.0C286.8 150.8 284.3 147.0 281.7 146.1C279.0 145.2 275.8 146.8 273.1 146.6C270.4 146.3 268.4 145.3 265.4 144.7C262.3 144.1 256.6 143.2 254.8 142.9M309.9 144.7C310.9 145.4 313.7 147.4 316.3 148.8C318.9 150.3 322.9 152.8 325.4 153.3C327.8 153.9 328.7 153.2 330.8 152.0C332.9 150.8 335.4 147.0 338.0 146.1C340.7 145.2 343.9 146.8 346.6 146.6C349.3 146.3 353.0 145.0 354.3 144.7M199.6 145.2C200.7 146.0 203.5 148.2 206.1 149.7C208.6 151.2 212.5 153.8 215.1 154.2C217.7 154.7 219.3 153.2 221.4 152.4C223.5 151.7 225.3 149.9 227.8 149.7C230.3 149.6 233.7 151.8 236.4 151.5C239.1 151.3 241.0 149.3 244.1 148.4C247.1 147.4 252.9 146.1 254.7 145.6M309.8 145.2C308.8 146.0 306.0 148.2 303.4 149.7C300.8 151.2 296.9 153.8 294.3 154.2C291.8 154.7 290.1 153.2 288.0 152.4C285.9 151.7 284.2 149.9 281.7 149.7C279.2 149.6 275.8 151.8 273.1 151.5C270.4 151.3 268.4 149.3 265.4 148.4C262.3 147.4 256.6 146.1 254.8 145.6M309.9 145.2C310.9 146.0 313.7 148.2 316.3 149.7C318.9 151.2 322.8 153.8 325.4 154.2C327.9 154.7 329.6 153.2 331.7 152.4C333.8 151.7 335.5 149.9 338.0 149.7C340.5 149.6 343.9 151.8 346.6 151.5C349.3 151.3 353.0 148.9 354.3 148.4M199.6 145.6C200.7 146.3 203.5 148.7 206.1 150.2C208.6 151.7 212.5 154.2 215.1 154.7C217.7 155.2 219.3 153.6 221.4 152.9C223.5 152.1 225.3 150.3 227.8 150.2C230.3 150.0 233.7 152.2 236.4 152.0C239.1 151.8 241.0 149.8 244.1 148.8C247.1 147.8 252.9 146.6 254.7 146.1M309.8 145.6C308.8 146.3 306.0 148.7 303.4 150.2C300.8 151.7 296.9 154.2 294.3 154.7C291.8 155.2 290.1 153.6 288.0 152.9C285.9 152.1 284.2 150.3 281.7 150.2C279.2 150.0 275.8 152.2 273.1 152.0C270.4 151.8 268.4 149.8 265.4 148.8C262.3 147.8 256.6 146.6 254.8 146.1M309.9 145.6C310.9 146.3 313.7 148.7 316.3 150.2C318.9 151.7 322.8 154.2 325.4 154.7C327.9 155.2 329.6 153.6 331.7 152.9C333.8 152.1 335.5 150.3 338.0 150.2C340.5 150.0 343.9 152.2 346.6 152.0C349.3 151.8 353.0 149.3 354.3 148.8M199.6 161.9C201.5 162.2 207.1 163.6 210.6 163.7C214.1 163.8 217.5 163.0 220.5 162.3C223.5 161.7 226.0 160.8 228.7 159.6C231.3 158.4 234.1 155.3 236.4 155.1C238.6 154.9 240.1 157.4 242.3 158.3C244.4 159.1 247.4 159.7 249.5 160.1C251.6 160.5 253.8 160.5 254.7 160.5M309.8 161.9C308.0 162.2 302.4 163.6 298.9 163.7C295.4 163.8 291.9 163.0 288.9 162.3C285.9 161.7 283.4 160.8 280.8 159.6C278.1 158.4 275.3 155.3 273.1 155.1C270.8 154.9 269.4 157.4 267.2 158.3C265.0 159.1 262.0 159.7 260.0 160.1C257.9 160.5 255.7 160.5 254.8 160.5M309.9 161.9C311.7 162.2 317.3 163.6 320.8 163.7C324.3 163.8 327.8 163.0 330.8 162.3C333.8 161.7 336.3 160.8 338.9 159.6C341.6 158.4 344.4 155.3 346.6 155.1C348.9 154.9 351.5 157.7 352.5 158.3M199.6 162.8C201.5 163.1 207.1 164.5 210.6 164.6C214.1 164.7 217.5 163.9 220.5 163.2C223.5 162.6 226.0 161.7 228.7 160.5C231.3 159.3 234.1 156.2 236.4 156.0C238.6 155.8 240.1 158.3 242.3 159.2C244.4 160.0 247.4 160.6 249.5 161.0C251.6 161.4 253.8 161.5 254.7 161.6M309.8 162.8C308.0 163.1 302.4 164.5 298.9 164.6C295.4 164.7 291.9 163.9 288.9 163.2C285.9 162.6 283.4 161.7 280.8 160.5C278.1 159.3 275.3 156.2 273.1 156.0C270.8 155.8 269.4 158.3 267.2 159.2C265.0 160.0 262.0 160.6 260.0 161.0C257.9 161.4 255.7 161.5 254.8 161.6M309.9 162.8C311.7 163.1 317.3 164.5 320.8 164.6C324.3 164.7 327.8 163.9 330.8 163.2C333.8 162.6 336.3 161.7 338.9 160.5C341.6 159.3 344.4 156.2 346.6 156.0C348.9 155.8 351.5 158.6 352.5 159.2M199.6 162.3C200.4 162.9 202.9 164.4 204.2 166.0C205.6 167.5 206.7 170.0 207.9 171.4C209.1 172.8 210.0 173.9 211.5 174.6C213.0 175.2 214.8 175.5 216.9 175.5C219.0 175.5 222.9 174.7 224.2 174.6M309.8 162.3C309.1 162.9 306.6 164.4 305.2 166.0C303.8 167.5 302.8 170.0 301.6 171.4C300.4 172.8 299.5 173.9 298.0 174.6C296.5 175.2 294.6 175.5 292.5 175.5C290.4 175.5 286.5 174.7 285.3 174.6M309.9 162.3C310.6 162.9 313.1 164.4 314.5 166.0C315.9 167.5 316.9 170.0 318.1 171.4C319.3 172.8 320.2 173.9 321.7 174.6C323.2 175.2 325.1 175.5 327.2 175.5C329.3 175.5 333.2 174.7 334.4 174.6M199.6 165.1C201.5 165.4 206.8 167.2 210.6 167.3C214.4 167.5 218.9 166.9 222.3 166.0C225.8 165.1 229.1 162.9 231.4 161.9C233.7 160.9 234.1 159.9 236.4 160.1C238.6 160.2 241.9 162.0 245.0 162.8C248.0 163.5 253.0 164.3 254.7 164.6M309.8 165.1C308.0 165.4 302.7 167.2 298.9 167.3C295.1 167.5 290.6 166.9 287.1 166.0C283.6 165.1 280.4 162.9 278.1 161.9C275.7 160.9 275.3 159.9 273.1 160.1C270.8 160.2 267.5 162.0 264.5 162.8C261.4 163.5 256.4 164.3 254.8 164.6M309.9 165.1C311.7 165.4 317.0 167.2 320.8 167.3C324.6 167.5 329.1 166.9 332.6 166.0C336.1 165.1 339.3 162.9 341.6 161.9C344.0 160.9 344.4 159.9 346.6 160.1C348.9 160.2 353.8 162.3 355.2 162.8M222.3 168.7C224.7 168.0 232.6 165.2 236.4 164.6C240.1 164.0 241.9 164.9 245.0 165.1C248.0 165.2 253.0 165.4 254.7 165.5M287.1 168.7C284.8 168.0 276.8 165.2 273.1 164.6C269.3 164.0 267.5 164.9 264.5 165.1C261.4 165.2 256.4 165.4 254.8 165.5M332.6 168.7C334.9 168.0 342.9 165.2 346.6 164.6C350.4 164.0 353.8 165.0 355.2 165.1M199.6 171.8C200.7 171.9 203.5 172.4 206.1 172.3C208.6 172.1 212.1 171.4 215.1 170.9C218.1 170.5 220.6 169.8 224.2 169.6C227.7 169.3 232.8 169.2 236.4 169.4C240.0 169.6 242.8 170.5 245.9 170.9C248.9 171.3 253.2 171.7 254.7 171.8M309.8 171.8C308.8 171.9 306.0 172.4 303.4 172.3C300.8 172.1 297.4 171.4 294.3 170.9C291.3 170.5 288.8 169.8 285.3 169.6C281.8 169.3 276.7 169.2 273.1 169.4C269.5 169.6 266.6 170.5 263.6 170.9C260.5 171.3 256.3 171.7 254.8 171.8M309.9 171.8C310.9 171.9 313.7 172.4 316.3 172.3C318.9 172.1 322.3 171.4 325.4 170.9C328.4 170.5 330.9 169.8 334.4 169.6C337.9 169.3 343.0 169.2 346.6 169.4C350.2 169.6 354.5 170.7 356.1 170.9M208.8 175.5C210.6 175.2 216.3 174.3 219.6 174.1C222.9 174.0 225.9 174.5 228.7 174.6C231.5 174.6 233.7 174.4 236.4 174.6C239.1 174.7 242.8 174.9 245.0 175.5C247.2 176.1 247.9 177.3 249.5 178.2C251.1 179.1 253.8 180.4 254.7 180.9M300.7 175.5C298.9 175.2 293.1 174.3 289.8 174.1C286.5 174.0 283.6 174.5 280.8 174.6C278.0 174.6 275.8 174.4 273.1 174.6C270.4 174.7 266.7 174.9 264.5 175.5C262.3 176.1 261.6 177.3 260.0 178.2C258.3 179.1 255.7 180.4 254.8 180.9M319.0 175.5C320.8 175.2 326.6 174.3 329.9 174.1C333.2 174.0 336.1 174.5 338.9 174.6C341.7 174.6 343.9 174.4 346.6 174.6C349.3 174.7 353.8 175.3 355.2 175.5M199.6 177.7C201.1 177.7 205.6 177.3 208.8 177.7C211.9 178.1 215.4 179.3 218.7 180.0C222.0 180.7 225.7 181.4 228.7 181.8C231.6 182.2 233.7 182.2 236.4 182.2C239.1 182.3 241.9 182.1 245.0 182.2C248.0 182.4 253.0 183.0 254.7 183.2M309.8 177.7C308.3 177.7 303.9 177.3 300.7 177.7C297.5 178.1 294.0 179.3 290.7 180.0C287.4 180.7 283.7 181.4 280.8 181.8C277.8 182.2 275.8 182.2 273.1 182.2C270.4 182.3 267.5 182.1 264.5 182.2C261.4 182.4 256.4 183.0 254.8 183.2M309.9 177.7C311.4 177.7 315.8 177.3 319.0 177.7C322.2 178.1 325.7 179.3 329.0 180.0C332.3 180.7 336.0 181.4 338.9 181.8C341.9 182.2 343.9 182.2 346.6 182.2C349.3 182.3 353.8 182.2 355.2 182.2M199.6 183.2C201.0 182.3 205.3 179.2 207.9 178.2C210.4 177.1 212.4 176.7 215.1 176.8C217.8 176.9 220.6 177.8 224.2 178.6C227.7 179.5 234.3 181.3 236.4 181.8M309.8 183.2C308.5 182.3 304.2 179.2 301.6 178.2C299.0 177.1 297.1 176.7 294.3 176.8C291.6 176.9 288.8 177.8 285.3 178.6C281.8 179.5 275.1 181.3 273.1 181.8M309.9 183.2C311.2 182.3 315.5 179.2 318.1 178.2C320.7 177.1 322.6 176.7 325.4 176.8C328.1 176.9 330.9 177.8 334.4 178.6C337.9 179.5 344.6 181.3 346.6 181.8M199.6 184.1C201.5 184.4 206.5 185.6 210.6 185.9C214.7 186.2 219.9 185.9 224.2 185.9C228.5 185.8 232.8 185.2 236.4 185.4C240.0 185.6 242.8 187.2 245.9 187.2C248.9 187.3 253.2 186.1 254.7 185.9M309.8 184.1C308.0 184.4 303.0 185.6 298.9 185.9C294.8 186.2 289.6 185.9 285.3 185.9C281.0 185.8 276.7 185.2 273.1 185.4C269.5 185.6 266.6 187.2 263.6 187.2C260.5 187.3 256.3 186.1 254.8 185.9M309.9 184.1C311.7 184.4 316.7 185.6 320.8 185.9C324.9 186.2 330.1 185.9 334.4 185.9C338.7 185.8 343.0 185.2 346.6 185.4C350.2 185.6 354.5 186.9 356.1 187.2M199.6 187.7C201.5 188.0 206.5 189.3 210.6 189.5C214.7 189.6 219.9 189.0 224.2 188.6C228.5 188.1 232.8 187.0 236.4 186.8C240.0 186.5 242.8 186.9 245.9 187.2C248.9 187.5 253.2 188.4 254.7 188.6M309.8 187.7C308.0 188.0 303.0 189.3 298.9 189.5C294.8 189.6 289.6 189.0 285.3 188.6C281.0 188.1 276.7 187.0 273.1 186.8C269.5 186.5 266.6 186.9 263.6 187.2C260.5 187.5 256.3 188.4 254.8 188.6M309.9 187.7C311.7 188.0 316.7 189.3 320.8 189.5C324.9 189.6 330.1 189.0 334.4 188.6C338.7 188.1 343.0 187.0 346.6 186.8C350.2 186.5 354.5 187.2 356.1 187.2M199.6 189.5C202.2 189.7 209.0 190.8 215.1 190.8C221.2 190.8 229.8 189.6 236.4 189.5C243.0 189.3 251.6 189.9 254.7 189.9M309.8 189.5C307.2 189.7 300.5 190.8 294.3 190.8C288.2 190.8 279.7 189.6 273.1 189.5C266.5 189.3 257.8 189.9 254.8 189.9M309.9 189.5C312.5 189.7 319.2 190.8 325.4 190.8C331.5 190.8 343.1 189.7 346.6 189.5" stroke="#b82431" stroke-width="1.0"/>
</g>
<rect x="199.60" y="34.40" width="147.00" height="156.00" fill="none" stroke="#262626" stroke-width="1.05"/>
<line x1="197.50" x2="199.60" y1="50.00" y2="50.00" stroke="#262626" stroke-width="0.8"/>
<line x1="197.50" x2="199.60" y1="81.20" y2="81.20" stroke="#262626" stroke-width="0.8"/>
<line x1="197.50" x2="199.60" y1="112.40" y2="112.40" stroke="#262626" stroke-width="0.8"/>
<line x1="197.50" x2="199.60" y1="143.60" y2="143.60" stroke="#262626" stroke-width="0.8"/>
<line x1="197.50" x2="199.60" y1="174.80" y2="174.80" stroke="#262626" stroke-width="0.8"/>
<line x1="199.60" x2="199.60" y1="190.40" y2="194.30" stroke="#262626" stroke-width="1.05"/>
<line x1="236.35" x2="236.35" y1="190.40" y2="194.30" stroke="#262626" stroke-width="1.05"/>
<line x1="273.10" x2="273.10" y1="190.40" y2="194.30" stroke="#262626" stroke-width="1.05"/>
<line x1="309.85" x2="309.85" y1="190.40" y2="194.30" stroke="#262626" stroke-width="1.05"/>
<line x1="346.60" x2="346.60" y1="190.40" y2="194.30" stroke="#262626" stroke-width="1.05"/>
<text x="199.90" y="205.80" font-size="10.1" text-anchor="middle">Γ</text>
<text x="236.35" y="205.80" font-size="10.1" text-anchor="middle">K</text>
<text x="273.40" y="205.80" font-size="10.1" text-anchor="middle" font-style="italic">K′</text>
<text x="310.15" y="205.80" font-size="10.1" text-anchor="middle">Γ</text>
<text x="348.10" y="205.80" font-size="10.1" text-anchor="middle" font-style="italic">K″</text>
<text x="345.80" y="27.60" font-size="10.4" text-anchor="end" textLength="69" lengthAdjust="spacingAndGlyphs">AA+(1/3,1/3)</text>
<text x="199.85" y="27.60" font-size="10.4" textLength="13.8" lengthAdjust="spacingAndGlyphs">(b)</text>
<rect x="364.80" y="127.70" width="147.00" height="62.70" fill="#f1f1f1"/>
<line x1="401.55" y1="34.40" x2="401.55" y2="190.40" stroke="#a2a2a2" stroke-width="1"/>
<line x1="438.30" y1="34.40" x2="438.30" y2="190.40" stroke="#a2a2a2" stroke-width="1"/>
<line x1="475.05" y1="34.40" x2="475.05" y2="190.40" stroke="#a2a2a2" stroke-width="1"/>
<clipPath id="c02"><rect x="364.80" y="34.40" width="147.00" height="156.00"/></clipPath>
<g clip-path="url(#c02)" fill="none" stroke-linejoin="round" stroke-linecap="round">
<path d="M364.8 44.3C365.5 43.9 367.4 42.4 369.2 41.6C371.0 40.8 373.8 39.7 375.6 39.5C377.4 39.4 378.4 39.7 380.1 40.7C381.8 41.6 383.6 43.3 385.5 45.2C387.5 47.2 390.1 50.5 391.9 52.5C393.7 54.4 394.8 55.8 396.4 57.0C398.0 58.1 399.9 59.3 401.6 59.4C403.2 59.6 404.8 58.9 406.4 57.9C407.9 56.9 409.4 54.9 410.9 53.4C412.4 51.8 413.9 49.5 415.4 48.4C416.9 47.3 419.2 46.9 419.9 46.6M475.0 44.3C474.3 43.9 472.4 42.4 470.6 41.6C468.8 40.8 466.1 39.7 464.3 39.5C462.5 39.4 461.4 39.7 459.7 40.7C458.1 41.6 456.3 43.3 454.3 45.2C452.4 47.2 449.8 50.5 448.0 52.5C446.2 54.4 445.1 55.8 443.5 57.0C441.8 58.1 440.0 59.3 438.3 59.4C436.6 59.6 435.1 58.9 433.5 57.9C431.9 56.9 430.5 54.9 429.0 53.4C427.5 51.8 426.0 49.5 424.4 48.4C422.9 47.3 420.7 46.9 419.9 46.6M475.1 44.3C475.8 43.9 477.7 42.4 479.5 41.6C481.3 40.8 484.0 39.7 485.8 39.5C487.6 39.4 488.7 39.7 490.4 40.7C492.0 41.6 493.8 43.3 495.8 45.2C497.7 47.2 500.3 50.5 502.1 52.5C503.9 54.4 505.0 55.8 506.6 57.0C508.3 58.1 510.1 59.3 511.8 59.4C513.5 59.6 515.0 58.9 516.6 57.9C518.2 56.9 520.4 54.1 521.1 53.4M364.8 47.9C365.4 47.4 367.3 45.7 368.3 44.8C369.4 43.8 369.8 42.8 371.1 42.1C372.3 41.3 374.1 40.2 375.6 40.1C377.1 39.9 378.4 40.2 380.1 41.1C381.8 42.1 383.6 43.7 385.5 45.7C387.5 47.6 390.1 51.0 391.9 52.9C393.7 54.9 394.8 56.2 396.4 57.4C398.0 58.6 399.9 60.0 401.6 60.2C403.2 60.3 404.8 59.6 406.4 58.6C407.9 57.6 409.4 55.6 410.9 54.0C412.4 52.4 413.9 50.2 415.4 49.1C416.9 48.0 419.2 47.8 419.9 47.5M475.0 47.9C474.5 47.4 472.6 45.7 471.5 44.8C470.5 43.8 470.0 42.8 468.8 42.1C467.6 41.3 465.8 40.2 464.3 40.1C462.8 39.9 461.4 40.2 459.7 41.1C458.1 42.1 456.3 43.7 454.3 45.7C452.4 47.6 449.8 51.0 448.0 52.9C446.2 54.9 445.1 56.2 443.5 57.4C441.8 58.6 440.0 60.0 438.3 60.2C436.6 60.3 435.1 59.6 433.5 58.6C431.9 57.6 430.5 55.6 429.0 54.0C427.5 52.4 426.0 50.2 424.4 49.1C422.9 48.0 420.7 47.8 419.9 47.5M475.1 47.9C475.6 47.4 477.5 45.7 478.6 44.8C479.6 43.8 480.1 42.8 481.3 42.1C482.5 41.3 484.3 40.2 485.8 40.1C487.3 39.9 488.7 40.2 490.4 41.1C492.0 42.1 493.8 43.7 495.8 45.7C497.7 47.6 500.3 51.0 502.1 52.9C503.9 54.9 505.0 56.2 506.6 57.4C508.3 58.6 510.1 60.0 511.8 60.2C513.5 60.3 515.0 59.6 516.6 58.6C518.2 57.6 520.4 54.8 521.1 54.0M386.0 34.4C386.5 35.0 387.7 36.5 389.2 38.0C390.6 39.4 392.5 41.6 394.6 43.0C396.7 44.3 399.6 45.7 401.6 46.1C403.5 46.5 404.6 45.9 406.4 45.2C408.1 44.5 410.1 42.9 411.8 42.1C413.4 41.3 414.9 40.7 416.3 40.4C417.7 40.1 419.3 40.3 419.9 40.2M453.9 34.4C453.3 35.0 452.1 36.5 450.7 38.0C449.3 39.4 447.3 41.6 445.3 43.0C443.2 44.3 440.3 45.7 438.3 46.1C436.3 46.5 435.2 45.9 433.5 45.2C431.8 44.5 429.7 42.9 428.1 42.1C426.4 41.3 424.9 40.7 423.5 40.4C422.2 40.1 420.5 40.3 419.9 40.2M496.2 34.4C496.8 35.0 498.0 36.5 499.4 38.0C500.8 39.4 502.8 41.6 504.8 43.0C506.9 44.3 509.8 45.7 511.8 46.1C513.8 46.5 514.9 45.9 516.6 45.2C518.3 44.5 521.1 42.6 522.0 42.1M386.4 34.4C387.0 35.0 388.2 36.9 389.6 38.4C391.0 39.9 393.0 42.1 395.0 43.4C397.0 44.8 399.7 46.2 401.6 46.6C403.4 47.0 404.6 46.4 406.4 45.7C408.1 45.0 410.1 43.3 411.8 42.5C413.4 41.7 414.9 41.2 416.3 41.0C417.7 40.7 419.3 41.1 419.9 41.1M453.4 34.4C452.9 35.0 451.7 36.9 450.2 38.4C448.8 39.9 446.8 42.1 444.8 43.4C442.8 44.8 440.2 46.2 438.3 46.6C436.4 47.0 435.2 46.4 433.5 45.7C431.8 45.0 429.7 43.3 428.1 42.5C426.4 41.7 424.9 41.2 423.5 41.0C422.2 40.7 420.5 41.1 419.9 41.1M496.7 34.4C497.2 35.0 498.4 36.9 499.9 38.4C501.3 39.9 503.3 42.1 505.3 43.4C507.3 44.8 509.9 46.2 511.8 46.6C513.7 47.0 514.9 46.4 516.6 45.7C518.3 45.0 521.1 43.0 522.0 42.5M364.8 144.3C366.1 144.1 370.0 143.5 372.9 142.9C375.7 142.4 378.7 141.8 381.9 141.1C385.1 140.4 388.6 139.6 391.9 138.9C395.1 138.1 399.0 136.8 401.6 136.6C404.1 136.4 405.4 137.1 407.3 137.5C409.1 138.0 410.6 138.8 412.7 139.3C414.8 139.8 418.7 140.3 419.9 140.5M475.0 144.3C473.7 144.1 469.8 143.5 467.0 142.9C464.1 142.4 461.1 141.8 457.9 141.1C454.8 140.4 451.3 139.6 448.0 138.9C444.7 138.1 440.9 136.8 438.3 136.6C435.7 136.4 434.5 137.1 432.6 137.5C430.7 138.0 429.3 138.8 427.2 139.3C425.1 139.8 421.1 140.3 419.9 140.5M475.1 144.3C476.4 144.1 480.3 143.5 483.1 142.9C486.0 142.4 489.0 141.8 492.2 141.1C495.3 140.4 498.8 139.6 502.1 138.9C505.4 138.1 509.2 136.8 511.8 136.6C514.4 136.4 516.6 137.4 517.5 137.5M364.8 144.6C366.1 144.4 370.0 144.0 372.9 143.6C375.7 143.1 378.7 142.4 381.9 141.8C385.1 141.1 388.6 140.3 391.9 139.5C395.1 138.7 399.0 137.1 401.6 136.9C404.1 136.6 405.2 137.4 407.3 138.0C409.3 138.5 411.5 139.7 413.6 140.2C415.7 140.7 418.9 141.0 419.9 141.1M475.0 144.6C473.7 144.4 469.8 144.0 467.0 143.6C464.1 143.1 461.1 142.4 457.9 141.8C454.8 141.1 451.3 140.3 448.0 139.5C444.7 138.7 440.9 137.1 438.3 136.9C435.7 136.6 434.6 137.4 432.6 138.0C430.6 138.5 428.4 139.7 426.3 140.2C424.1 140.7 421.0 141.0 419.9 141.1M475.1 144.6C476.4 144.4 480.3 144.0 483.1 143.6C486.0 143.1 489.0 142.4 492.2 141.8C495.3 141.1 498.8 140.3 502.1 139.5C505.4 138.7 509.2 137.1 511.8 136.9C514.4 136.6 516.6 137.8 517.5 138.0M364.8 144.8C366.1 144.7 370.0 144.7 372.9 144.3C375.7 143.9 378.9 143.2 381.9 142.5C384.9 141.8 388.5 140.7 391.0 139.9C393.4 139.2 395.5 138.3 396.4 138.0M475.0 144.8C473.7 144.7 469.8 144.7 467.0 144.3C464.1 143.9 461.0 143.2 457.9 142.5C454.9 141.8 451.3 140.7 448.9 139.9C446.5 139.2 444.4 138.3 443.5 138.0M475.1 144.8C476.4 144.7 480.3 144.7 483.1 144.3C486.0 143.9 489.1 143.2 492.2 142.5C495.2 141.8 498.8 140.7 501.2 139.9C503.6 139.2 505.7 138.3 506.6 138.0M364.8 144.3C365.8 145.0 368.5 147.0 371.1 148.4C373.6 149.7 377.7 152.1 380.1 152.4C382.5 152.8 383.3 151.8 385.5 150.6C387.8 149.5 391.0 146.0 393.7 145.6C396.3 145.3 399.0 148.5 401.6 148.4C404.1 148.2 406.0 145.8 409.1 144.7C412.1 143.7 418.1 142.5 419.9 142.0M475.0 144.3C474.0 145.0 471.3 147.0 468.8 148.4C466.2 149.7 462.2 152.1 459.7 152.4C457.3 152.8 456.6 151.8 454.3 150.6C452.1 149.5 448.8 146.0 446.2 145.6C443.5 145.3 440.9 148.5 438.3 148.4C435.7 148.2 433.8 145.8 430.8 144.7C427.7 143.7 421.7 142.5 419.9 142.0M475.1 144.3C476.1 145.0 478.8 147.0 481.3 148.4C483.9 149.7 487.9 152.1 490.4 152.4C492.8 152.8 493.5 151.8 495.8 150.6C498.0 149.5 501.3 146.0 503.9 145.6C506.6 145.3 509.2 148.5 511.8 148.4C514.4 148.2 518.1 145.3 519.3 144.7M364.8 144.7C365.8 145.5 368.5 147.6 371.1 149.0C373.6 150.4 377.7 152.8 380.1 153.2C382.5 153.6 383.3 152.5 385.5 151.4C387.8 150.2 391.6 146.8 393.7 146.1C395.8 145.4 396.9 146.8 398.2 147.2C399.5 147.6 399.7 148.5 401.6 148.4C403.4 148.2 406.0 146.6 409.1 146.1C412.1 145.6 418.1 145.3 419.9 145.2M475.0 144.7C474.0 145.5 471.3 147.6 468.8 149.0C466.2 150.4 462.2 152.8 459.7 153.2C457.3 153.6 456.6 152.5 454.3 151.4C452.1 150.2 448.3 146.8 446.2 146.1C444.1 145.4 443.0 146.8 441.6 147.2C440.3 147.6 440.1 148.5 438.3 148.4C436.5 148.2 433.8 146.6 430.8 146.1C427.7 145.6 421.7 145.3 419.9 145.2M475.1 144.7C476.1 145.5 478.8 147.6 481.3 149.0C483.9 150.4 487.9 152.8 490.4 153.2C492.8 153.6 493.5 152.5 495.8 151.4C498.0 150.2 501.8 146.8 503.9 146.1C506.0 145.4 507.1 146.8 508.5 147.2C509.8 147.6 510.0 148.5 511.8 148.4C513.6 148.2 518.1 146.5 519.3 146.1M364.8 145.2C365.8 146.0 368.5 148.3 371.1 149.7C373.6 151.2 377.7 153.4 380.1 153.8C382.5 154.2 383.3 153.1 385.5 152.0C387.8 150.9 391.0 147.5 393.7 147.0C396.3 146.5 399.0 148.9 401.6 148.8C404.1 148.7 406.0 147.1 409.1 146.6C412.1 146.0 418.1 145.8 419.9 145.6M475.0 145.2C474.0 146.0 471.3 148.3 468.8 149.7C466.2 151.2 462.2 153.4 459.7 153.8C457.3 154.2 456.6 153.1 454.3 152.0C452.1 150.9 448.8 147.5 446.2 147.0C443.5 146.5 440.9 148.9 438.3 148.8C435.7 148.7 433.8 147.1 430.8 146.6C427.7 146.0 421.7 145.8 419.9 145.6M475.1 145.2C476.1 146.0 478.8 148.3 481.3 149.7C483.9 151.2 487.9 153.4 490.4 153.8C492.8 154.2 493.5 153.1 495.8 152.0C498.0 150.9 501.3 147.5 503.9 147.0C506.6 146.5 509.2 148.9 511.8 148.8C514.4 148.7 518.1 146.9 519.3 146.6M364.8 161.4C366.6 161.7 372.1 163.2 375.6 163.2C379.0 163.2 382.5 162.1 385.5 161.4C388.5 160.8 391.0 160.3 393.7 159.2C396.3 158.0 399.3 154.9 401.6 154.6C403.8 154.4 405.1 157.1 407.3 157.8C409.4 158.6 412.4 158.9 414.5 159.2C416.6 159.5 419.0 159.5 419.9 159.6M475.0 161.4C473.2 161.7 467.7 163.2 464.3 163.2C460.8 163.2 457.3 162.1 454.3 161.4C451.3 160.8 448.8 160.3 446.2 159.2C443.5 158.0 440.6 154.9 438.3 154.6C436.0 154.4 434.8 157.1 432.6 157.8C430.4 158.6 427.5 158.9 425.4 159.2C423.2 159.5 420.8 159.5 419.9 159.6M475.1 161.4C476.9 161.7 482.4 163.2 485.8 163.2C489.3 163.2 492.8 162.1 495.8 161.4C498.8 160.8 501.3 160.3 503.9 159.2C506.6 158.0 509.5 154.9 511.8 154.6C514.1 154.4 516.6 157.3 517.5 157.8M364.8 162.3C366.6 162.6 372.1 164.1 375.6 164.1C379.0 164.2 382.5 163.2 385.5 162.5C388.5 161.8 391.0 161.2 393.7 160.1C396.3 158.9 399.3 155.8 401.6 155.5C403.8 155.3 405.1 157.9 407.3 158.7C409.4 159.5 412.4 160.0 414.5 160.3C416.6 160.7 419.0 160.6 419.9 160.7M475.0 162.3C473.2 162.6 467.7 164.1 464.3 164.1C460.8 164.2 457.3 163.2 454.3 162.5C451.3 161.8 448.8 161.2 446.2 160.1C443.5 158.9 440.6 155.8 438.3 155.5C436.0 155.3 434.8 157.9 432.6 158.7C430.4 159.5 427.5 160.0 425.4 160.3C423.2 160.7 420.8 160.6 419.9 160.7M475.1 162.3C476.9 162.6 482.4 164.1 485.8 164.1C489.3 164.2 492.8 163.2 495.8 162.5C498.8 161.8 501.3 161.2 503.9 160.1C506.6 158.9 509.5 155.8 511.8 155.5C514.1 155.3 516.6 158.2 517.5 158.7M364.8 164.6C366.6 164.8 371.8 166.2 375.6 166.0C379.3 165.7 383.9 164.1 387.3 163.2C390.8 162.3 394.0 161.1 396.4 160.5C398.8 160.0 399.3 159.7 401.6 160.1C403.8 160.5 406.9 161.8 410.0 162.8C413.0 163.8 418.3 165.4 419.9 166.0M475.0 164.6C473.2 164.8 468.0 166.2 464.3 166.0C460.5 165.7 456.0 164.1 452.5 163.2C449.0 162.3 445.8 161.1 443.5 160.5C441.1 160.0 440.6 159.7 438.3 160.1C436.0 160.5 432.9 161.8 429.9 162.8C426.8 163.8 421.6 165.4 419.9 166.0M475.1 164.6C476.9 164.8 482.1 166.2 485.8 166.0C489.6 165.7 494.1 164.1 497.6 163.2C501.1 162.3 504.3 161.1 506.6 160.5C509.0 160.0 509.5 159.7 511.8 160.1C514.1 160.5 518.8 162.3 520.2 162.8M375.6 167.3C377.8 166.9 384.8 165.9 389.2 165.1C393.5 164.2 398.1 162.5 401.6 162.3C405.0 162.2 406.9 163.3 410.0 164.1C413.0 165.0 418.3 166.8 419.9 167.3M464.3 167.3C462.0 166.9 455.0 165.9 450.7 165.1C446.4 164.2 441.8 162.5 438.3 162.3C434.8 162.2 432.9 163.3 429.9 164.1C426.8 165.0 421.6 166.8 419.9 167.3M485.8 167.3C488.1 166.9 495.1 165.9 499.4 165.1C503.7 164.2 508.3 162.5 511.8 162.3C515.3 162.2 518.8 163.8 520.2 164.1M364.8 171.4C366.6 171.4 371.5 171.6 375.6 171.4C379.6 171.2 384.8 170.3 389.2 170.0C393.5 169.7 397.9 169.3 401.6 169.6C405.2 169.9 408.4 170.9 410.9 171.8C413.3 172.7 414.8 174.3 416.3 175.0C417.8 175.8 419.3 176.1 419.9 176.4M475.0 171.4C473.2 171.4 468.3 171.6 464.3 171.4C460.2 171.2 455.0 170.3 450.7 170.0C446.4 169.7 441.9 169.3 438.3 169.6C434.7 169.9 431.4 170.9 429.0 171.8C426.5 172.7 425.1 174.3 423.5 175.0C422.0 175.8 420.5 176.1 419.9 176.4M475.1 171.4C476.9 171.4 481.8 171.6 485.8 171.4C489.9 171.2 495.1 170.3 499.4 170.0C503.7 169.7 508.2 169.3 511.8 169.6C515.4 169.9 519.6 171.5 521.1 171.8M364.8 177.7C366.3 177.6 370.5 177.6 373.8 177.3C377.1 176.9 381.3 176.1 384.6 175.5C387.9 174.8 390.9 173.6 393.7 173.2C396.5 172.7 398.8 172.7 401.6 172.7C404.3 172.8 407.5 172.9 410.0 173.6C412.4 174.4 414.6 176.4 416.3 177.3C418.0 178.1 419.3 178.4 419.9 178.6M475.0 177.7C473.6 177.6 469.4 177.6 466.1 177.3C462.8 176.9 458.5 176.1 455.2 175.5C451.9 174.8 449.0 173.6 446.2 173.2C443.4 172.7 441.0 172.7 438.3 172.7C435.6 172.8 432.3 172.9 429.9 173.6C427.4 174.4 425.2 176.4 423.5 177.3C421.9 178.1 420.5 178.4 419.9 178.6M475.1 177.7C476.5 177.6 480.7 177.6 484.0 177.3C487.3 176.9 491.6 176.1 494.9 175.5C498.2 174.8 501.1 173.6 503.9 173.2C506.7 172.7 509.1 172.7 511.8 172.7C514.5 172.8 518.8 173.5 520.2 173.6M364.8 182.2C366.3 181.9 370.5 180.2 373.8 180.0C377.1 179.8 381.3 180.4 384.6 180.9C387.9 181.3 390.9 182.4 393.7 182.7C396.5 183.0 398.7 182.9 401.6 183.0C404.4 183.0 407.8 183.2 410.9 183.2C413.9 183.1 418.4 182.8 419.9 182.7M475.0 182.2C473.6 181.9 469.4 180.2 466.1 180.0C462.8 179.8 458.5 180.4 455.2 180.9C451.9 181.3 449.0 182.4 446.2 182.7C443.4 183.0 441.2 182.9 438.3 183.0C435.4 183.0 432.0 183.2 429.0 183.2C425.9 183.1 421.4 182.8 419.9 182.7M475.1 182.2C476.5 181.9 480.7 180.2 484.0 180.0C487.3 179.8 491.6 180.4 494.9 180.9C498.2 181.3 501.1 182.4 503.9 182.7C506.7 183.0 508.9 182.9 511.8 183.0C514.7 183.0 519.6 183.1 521.1 183.2M364.8 183.2C366.6 182.9 372.3 181.8 375.6 181.8C378.9 181.8 381.6 182.8 384.6 183.2C387.6 183.5 390.9 184.0 393.7 184.1C396.5 184.1 398.7 183.5 401.6 183.6C404.4 183.8 407.8 184.9 410.9 185.0C413.9 185.0 418.4 184.2 419.9 184.1M475.0 183.2C473.2 182.9 467.6 181.8 464.3 181.8C461.0 181.8 458.2 182.8 455.2 183.2C452.2 183.5 449.0 184.0 446.2 184.1C443.4 184.1 441.2 183.5 438.3 183.6C435.4 183.8 432.0 184.9 429.0 185.0C425.9 185.0 421.4 184.2 419.9 184.1M475.1 183.2C476.9 182.9 482.5 181.8 485.8 181.8C489.1 181.8 491.9 182.8 494.9 183.2C497.9 183.5 501.1 184.0 503.9 184.1C506.7 184.1 508.9 183.5 511.8 183.6C514.7 183.8 519.6 184.7 521.1 185.0M364.8 185.0C366.1 184.7 370.3 183.2 372.9 183.2C375.4 183.2 377.4 184.4 380.1 185.0C382.8 185.6 385.6 186.3 389.2 186.8C392.7 187.2 397.9 187.6 401.6 187.7C405.2 187.8 407.8 187.2 410.9 187.2C413.9 187.2 418.4 187.6 419.9 187.7M475.0 185.0C473.7 184.7 469.5 183.2 467.0 183.2C464.4 183.2 462.5 184.4 459.7 185.0C457.0 185.6 454.3 186.3 450.7 186.8C447.1 187.2 441.9 187.6 438.3 187.7C434.7 187.8 432.0 187.2 429.0 187.2C425.9 187.2 421.4 187.6 419.9 187.7M475.1 185.0C476.4 184.7 480.6 183.2 483.1 183.2C485.7 183.2 487.6 184.4 490.4 185.0C493.1 185.6 495.8 186.3 499.4 186.8C503.0 187.2 508.2 187.6 511.8 187.7C515.4 187.8 519.6 187.3 521.1 187.2M364.8 188.6C366.6 188.7 371.8 189.3 375.6 189.5C379.3 189.7 385.4 189.9 387.3 189.9M475.0 188.6C473.2 188.7 468.0 189.3 464.3 189.5C460.5 189.7 454.5 189.9 452.5 189.9M475.1 188.6C476.9 188.7 482.1 189.3 485.8 189.5C489.6 189.7 495.6 189.9 497.6 189.9M364.8 161.4C365.5 162.0 367.9 163.7 369.2 165.1C370.6 166.4 371.7 168.3 372.9 169.6C374.1 170.9 374.8 172.1 376.5 172.7C378.1 173.4 381.8 173.5 382.8 173.6M475.0 161.4C474.3 162.0 472.0 163.7 470.6 165.1C469.3 166.4 468.2 168.3 467.0 169.6C465.8 170.9 465.0 172.1 463.4 172.7C461.7 173.4 458.1 173.5 457.0 173.6M475.1 161.4C475.8 162.0 478.1 163.7 479.5 165.1C480.8 166.4 481.9 168.3 483.1 169.6C484.3 170.9 485.1 172.1 486.7 172.7C488.4 173.4 492.0 173.5 493.1 173.6M364.8 162.2C365.8 163.1 369.3 165.8 371.1 167.8C372.8 169.8 374.1 172.3 375.6 174.1C377.1 175.9 378.4 177.5 380.1 178.6C381.8 179.8 384.6 180.5 385.5 180.9M475.0 162.2C474.0 163.1 470.6 165.8 468.8 167.8C467.0 169.8 465.8 172.3 464.3 174.1C462.8 175.9 461.4 177.5 459.7 178.6C458.1 179.8 455.2 180.5 454.3 180.9M475.1 162.2C476.1 163.1 479.5 165.8 481.3 167.8C483.1 169.8 484.3 172.3 485.8 174.1C487.3 175.9 488.7 177.5 490.4 178.6C492.0 179.8 494.9 180.5 495.8 180.9" stroke="#b82431" stroke-width="1.0"/>
</g>
<rect x="364.80" y="34.40" width="147.00" height="156.00" fill="none" stroke="#262626" stroke-width="1.05"/>
<line x1="362.70" x2="364.80" y1="50.00" y2="50.00" stroke="#262626" stroke-width="0.8"/>
<line x1="362.70" x2="364.80" y1="81.20" y2="81.20" stroke="#262626" stroke-width="0.8"/>
<line x1="362.70" x2="364.80" y1="112.40" y2="112.40" stroke="#262626" stroke-width="0.8"/>
<line x1="362.70" x2="364.80" y1="143.60" y2="143.60" stroke="#262626" stroke-width="0.8"/>
<line x1="362.70" x2="364.80" y1="174.80" y2="174.80" stroke="#262626" stroke-width="0.8"/>
<line x1="364.80" x2="364.80" y1="190.40" y2="194.30" stroke="#262626" stroke-width="1.05"/>
<line x1="401.55" x2="401.55" y1="190.40" y2="194.30" stroke="#262626" stroke-width="1.05"/>
<line x1="438.30" x2="438.30" y1="190.40" y2="194.30" stroke="#262626" stroke-width="1.05"/>
<line x1="475.05" x2="475.05" y1="190.40" y2="194.30" stroke="#262626" stroke-width="1.05"/>
<line x1="511.80" x2="511.80" y1="190.40" y2="194.30" stroke="#262626" stroke-width="1.05"/>
<text x="365.10" y="205.80" font-size="10.1" text-anchor="middle">Γ</text>
<text x="401.55" y="205.80" font-size="10.1" text-anchor="middle">K</text>
<text x="438.60" y="205.80" font-size="10.1" text-anchor="middle" font-style="italic">K′</text>
<text x="475.35" y="205.80" font-size="10.1" text-anchor="middle">Γ</text>
<text x="513.30" y="205.80" font-size="10.1" text-anchor="middle" font-style="italic">K″</text>
<text x="511.00" y="27.60" font-size="10.4" text-anchor="end" textLength="69" lengthAdjust="spacingAndGlyphs">AA+(1/3,2/3)</text>
<text x="365.05" y="27.60" font-size="10.4" textLength="13.8" lengthAdjust="spacingAndGlyphs">(c)</text>
<rect x="530.00" y="127.70" width="147.00" height="62.70" fill="#f1f1f1"/>
<line x1="566.75" y1="34.40" x2="566.75" y2="190.40" stroke="#a2a2a2" stroke-width="1"/>
<line x1="603.50" y1="34.40" x2="603.50" y2="190.40" stroke="#a2a2a2" stroke-width="1"/>
<line x1="640.25" y1="34.40" x2="640.25" y2="190.40" stroke="#a2a2a2" stroke-width="1"/>
<clipPath id="c03"><rect x="530.00" y="34.40" width="147.00" height="156.00"/></clipPath>
<g clip-path="url(#c03)" fill="none" stroke-linejoin="round" stroke-linecap="round">
<path d="M530.4 45.2C531.1 44.8 532.4 43.4 534.2 42.5C536.1 41.6 539.4 40.2 541.5 40.1C543.6 39.9 545.1 40.5 546.9 41.6C548.7 42.7 550.5 44.7 552.3 46.6C554.2 48.5 556.1 51.1 557.8 52.9C559.4 54.7 560.8 56.3 562.3 57.4C563.8 58.6 565.3 59.5 567.0 59.7C568.7 59.9 570.5 59.5 572.3 58.3C574.0 57.2 576.0 54.6 577.7 52.9C579.3 51.2 581.0 48.9 582.2 47.9C583.4 47.0 584.6 47.2 585.1 47.0M639.8 45.2C639.2 44.8 637.8 43.4 636.0 42.5C634.2 41.6 630.9 40.2 628.8 40.1C626.7 39.9 625.1 40.5 623.3 41.6C621.5 42.7 619.7 44.7 617.9 46.6C616.1 48.5 614.1 51.1 612.5 52.9C610.8 54.7 609.5 56.3 608.0 57.4C606.4 58.6 604.9 59.5 603.2 59.7C601.6 59.9 599.8 59.5 598.0 58.3C596.2 57.2 594.2 54.6 592.6 52.9C590.9 51.2 589.3 48.9 588.0 47.9C586.8 47.0 585.6 47.2 585.1 47.0M640.7 45.2C641.3 44.8 642.7 43.4 644.5 42.5C646.3 41.6 649.6 40.2 651.7 40.1C653.8 39.9 655.4 40.5 657.2 41.6C659.0 42.7 660.8 44.7 662.6 46.6C664.4 48.5 666.4 51.1 668.0 52.9C669.7 54.7 671.0 56.3 672.5 57.4C674.1 58.6 675.6 59.5 677.3 59.7C678.9 59.9 680.7 59.5 682.5 58.3C684.3 57.2 687.0 53.8 687.9 52.9M530.4 47.5C531.1 46.9 532.4 45.0 534.2 43.9C536.1 42.7 539.4 40.7 541.5 40.4C543.6 40.1 545.1 40.9 546.9 42.1C548.7 43.2 550.5 45.1 552.3 47.0C554.2 48.9 556.1 51.6 557.8 53.4C559.4 55.2 560.8 56.8 562.3 57.9C563.8 59.0 565.3 60.0 567.0 60.2C568.7 60.3 570.5 59.9 572.3 58.8C574.0 57.7 576.0 55.1 577.7 53.4C579.3 51.6 581.0 49.3 582.2 48.4C583.4 47.4 584.6 47.8 585.1 47.7M639.8 47.5C639.2 46.9 637.8 45.0 636.0 43.9C634.2 42.7 630.9 40.7 628.8 40.4C626.7 40.1 625.1 40.9 623.3 42.1C621.5 43.2 619.7 45.1 617.9 47.0C616.1 48.9 614.1 51.6 612.5 53.4C610.8 55.2 609.5 56.8 608.0 57.9C606.4 59.0 604.9 60.0 603.2 60.2C601.6 60.3 599.8 59.9 598.0 58.8C596.2 57.7 594.2 55.1 592.6 53.4C590.9 51.6 589.3 49.3 588.0 48.4C586.8 47.4 585.6 47.8 585.1 47.7M640.7 47.5C641.3 46.9 642.7 45.0 644.5 43.9C646.3 42.7 649.6 40.7 651.7 40.4C653.8 40.1 655.4 40.9 657.2 42.1C659.0 43.2 660.8 45.1 662.6 47.0C664.4 48.9 666.4 51.6 668.0 53.4C669.7 55.2 671.0 56.8 672.5 57.9C674.1 59.0 675.6 60.0 677.3 60.2C678.9 60.3 680.7 59.9 682.5 58.8C684.3 57.7 687.0 54.3 687.9 53.4M551.4 34.4C552.0 35.0 553.5 36.8 555.1 38.4C556.6 40.0 558.5 42.5 560.5 43.9C562.5 45.2 565.0 46.3 567.0 46.6C569.0 46.9 570.5 46.4 572.3 45.7C574.0 44.9 576.0 43.0 577.7 42.1C579.3 41.1 581.0 40.5 582.2 40.1C583.4 39.6 584.6 39.6 585.1 39.5M618.8 34.4C618.2 35.0 616.7 36.8 615.2 38.4C613.7 40.0 611.8 42.5 609.8 43.9C607.8 45.2 605.2 46.3 603.2 46.6C601.3 46.9 599.8 46.4 598.0 45.7C596.2 44.9 594.2 43.0 592.6 42.1C590.9 41.1 589.3 40.5 588.0 40.1C586.8 39.6 585.6 39.6 585.1 39.5M661.7 34.4C662.3 35.0 663.8 36.8 665.3 38.4C666.8 40.0 668.7 42.5 670.7 43.9C672.7 45.2 675.3 46.3 677.3 46.6C679.2 46.9 680.7 46.4 682.5 45.7C684.3 44.9 687.0 42.7 687.9 42.1M552.2 34.4C552.8 35.1 554.3 37.3 555.8 39.0C557.3 40.7 559.3 43.2 561.2 44.6C563.1 46.0 565.2 47.0 567.0 47.3C568.8 47.6 570.5 47.1 572.3 46.4C574.0 45.6 576.0 43.7 577.7 42.8C579.3 41.8 581.0 41.1 582.2 40.7C583.4 40.3 584.6 40.5 585.1 40.4M618.1 34.4C617.5 35.1 616.0 37.3 614.5 39.0C613.0 40.7 610.9 43.2 609.0 44.6C607.2 46.0 605.1 47.0 603.2 47.3C601.4 47.6 599.8 47.1 598.0 46.4C596.2 45.6 594.2 43.7 592.6 42.8C590.9 41.8 589.3 41.1 588.0 40.7C586.8 40.3 585.6 40.5 585.1 40.4M662.4 34.4C663.0 35.1 664.5 37.3 666.0 39.0C667.5 40.7 669.6 43.2 671.5 44.6C673.3 46.0 675.4 47.0 677.3 47.3C679.1 47.6 680.7 47.1 682.5 46.4C684.3 45.6 687.0 43.4 687.9 42.8M577.7 43.1C578.4 42.8 581.0 41.7 582.2 41.3C583.4 41.0 584.6 41.2 585.1 41.1M592.6 43.1C591.8 42.8 589.3 41.7 588.0 41.3C586.8 41.0 585.6 41.2 585.1 41.1M530.4 141.6C532.1 141.4 537.2 140.7 540.6 140.2C543.9 139.8 547.4 139.4 550.5 138.9C553.7 138.3 556.8 137.4 559.6 137.1C562.3 136.7 564.6 136.5 567.0 136.6C569.4 136.7 571.7 137.1 574.1 137.5C576.4 138.0 579.5 138.9 581.3 139.3C583.1 139.7 584.5 139.7 585.1 139.8M639.8 141.6C638.1 141.4 633.0 140.7 629.7 140.2C626.3 139.8 622.9 139.4 619.7 138.9C616.5 138.3 613.4 137.4 610.7 137.1C607.9 136.7 605.7 136.5 603.2 136.6C600.8 136.7 598.6 137.1 596.2 137.5C593.8 138.0 590.8 138.9 588.9 139.3C587.1 139.7 585.8 139.7 585.1 139.8M640.7 141.6C642.4 141.4 647.5 140.7 650.8 140.2C654.2 139.8 657.6 139.4 660.8 138.9C664.0 138.3 667.1 137.4 669.8 137.1C672.6 136.7 674.8 136.5 677.3 136.6C679.7 136.7 683.1 137.4 684.3 137.5M559.6 137.3C560.8 137.2 564.6 136.8 567.0 136.9C569.4 137.0 571.7 137.4 574.1 138.0C576.4 138.5 579.5 139.5 581.3 139.9C583.1 140.4 584.5 140.4 585.1 140.5M610.7 137.3C609.4 137.2 605.7 136.8 603.2 136.9C600.8 137.0 598.6 137.4 596.2 138.0C593.8 138.5 590.8 139.5 588.9 139.9C587.1 140.4 585.8 140.4 585.1 140.5M669.8 137.3C671.1 137.2 674.8 136.8 677.3 136.9C679.7 137.0 683.1 137.8 684.3 138.0M530.4 144.3C532.6 144.4 539.6 145.4 543.3 145.2C546.9 145.0 549.3 144.1 552.3 142.9C555.4 141.8 559.0 139.4 561.4 138.4C563.8 137.4 566.1 137.3 567.0 137.1M639.8 144.3C637.7 144.4 630.6 145.4 627.0 145.2C623.3 145.0 620.9 144.1 617.9 142.9C614.9 141.8 611.3 139.4 608.9 138.4C606.4 137.4 604.2 137.3 603.2 137.1M640.7 144.3C642.8 144.4 649.9 145.4 653.5 145.2C657.2 145.0 659.6 144.1 662.6 142.9C665.6 141.8 669.2 139.4 671.6 138.4C674.1 137.4 676.3 137.3 677.3 137.1M530.4 144.7C531.4 145.0 533.8 145.5 536.1 146.6C538.3 147.6 541.8 150.3 544.2 151.1C546.6 151.9 548.3 152.4 550.5 151.5C552.8 150.7 556.0 147.1 557.8 146.1C559.6 145.1 559.9 145.3 561.4 145.4C562.9 145.5 564.9 146.7 567.0 146.6C569.1 146.4 571.7 145.3 574.1 144.7C576.4 144.1 579.5 143.3 581.3 142.9C583.1 142.6 584.5 142.6 585.1 142.5M639.8 144.7C638.9 145.0 636.5 145.5 634.2 146.6C631.9 147.6 628.5 150.3 626.1 151.1C623.6 151.9 622.0 152.4 619.7 151.5C617.5 150.7 614.3 147.1 612.5 146.1C610.7 145.1 610.4 145.3 608.9 145.4C607.3 145.5 605.4 146.7 603.2 146.6C601.1 146.4 598.6 145.3 596.2 144.7C593.8 144.1 590.8 143.3 588.9 142.9C587.1 142.6 585.8 142.6 585.1 142.5M640.7 144.7C641.6 145.0 644.0 145.5 646.3 146.6C648.6 147.6 652.0 150.3 654.4 151.1C656.9 151.9 658.5 152.4 660.8 151.5C663.0 150.7 666.2 147.1 668.0 146.1C669.8 145.1 670.1 145.3 671.6 145.4C673.2 145.5 675.1 146.7 677.3 146.6C679.4 146.4 683.1 145.0 684.3 144.7M530.4 146.1C531.4 146.3 534.2 146.6 536.1 147.5C537.9 148.4 539.7 150.4 541.5 151.5C543.3 152.7 545.1 154.1 546.9 154.2C548.7 154.4 550.5 153.2 552.3 152.4C554.2 151.7 555.3 149.9 557.8 149.7C560.2 149.5 564.3 151.2 567.0 151.1C569.7 150.9 571.7 149.4 574.1 148.8C576.4 148.2 579.5 147.8 581.3 147.5C583.1 147.2 584.5 147.1 585.1 147.0M639.8 146.1C638.9 146.3 636.0 146.6 634.2 147.5C632.4 148.4 630.6 150.4 628.8 151.5C627.0 152.7 625.1 154.1 623.3 154.2C621.5 154.4 619.7 153.2 617.9 152.4C616.1 151.7 614.9 149.9 612.5 149.7C610.0 149.5 606.0 151.2 603.2 151.1C600.5 150.9 598.6 149.4 596.2 148.8C593.8 148.2 590.8 147.8 588.9 147.5C587.1 147.2 585.8 147.1 585.1 147.0M640.7 146.1C641.6 146.3 644.5 146.6 646.3 147.5C648.1 148.4 649.9 150.4 651.7 151.5C653.5 152.7 655.4 154.1 657.2 154.2C659.0 154.4 660.8 153.2 662.6 152.4C664.4 151.7 665.6 149.9 668.0 149.7C670.5 149.5 674.5 151.2 677.3 151.1C680.0 150.9 683.1 149.2 684.3 148.8M530.4 146.6C531.4 146.8 533.9 146.9 536.1 147.9C538.2 148.9 541.2 151.4 543.3 152.4C545.4 153.5 547.1 154.2 548.7 154.2C550.4 154.3 552.5 152.9 553.2 152.6M639.8 146.6C638.9 146.8 636.3 146.9 634.2 147.9C632.1 148.9 629.1 151.4 627.0 152.4C624.8 153.5 623.2 154.2 621.5 154.2C619.9 154.3 617.8 152.9 617.0 152.6M640.7 146.6C641.6 146.8 644.2 146.9 646.3 147.9C648.4 148.9 651.4 151.4 653.5 152.4C655.7 153.5 657.3 154.2 659.0 154.2C660.6 154.3 662.7 152.9 663.5 152.6M530.4 162.3C532.1 162.6 537.2 164.2 540.6 164.1C543.9 164.1 547.5 162.6 550.5 161.9C553.5 161.1 555.9 160.8 558.7 159.6C561.4 158.4 564.7 154.9 567.0 154.6C569.3 154.3 570.2 156.9 572.3 157.8C574.3 158.7 577.4 159.5 579.5 160.1C581.6 160.6 584.2 160.8 585.1 161.0M639.8 162.3C638.1 162.6 633.0 164.2 629.7 164.1C626.3 164.1 622.7 162.6 619.7 161.9C616.7 161.1 614.3 160.8 611.6 159.6C608.8 158.4 605.5 154.9 603.2 154.6C601.0 154.3 600.1 156.9 598.0 157.8C595.9 158.7 592.9 159.5 590.8 160.1C588.6 160.6 586.1 160.8 585.1 161.0M640.7 162.3C642.4 162.6 647.5 164.2 650.8 164.1C654.2 164.1 657.8 162.6 660.8 161.9C663.8 161.1 666.2 160.8 668.9 159.6C671.7 158.4 675.0 154.9 677.3 154.6C679.5 154.3 681.6 157.3 682.5 157.8M530.4 163.1C532.1 163.4 537.2 164.9 540.6 164.9C543.9 164.8 547.5 163.5 550.5 162.8C553.5 162.0 555.9 161.6 558.7 160.3C561.4 159.1 564.7 155.8 567.0 155.5C569.3 155.2 570.2 157.6 572.3 158.5C574.3 159.4 577.4 160.4 579.5 161.0C581.6 161.5 584.2 161.7 585.1 161.9M639.8 163.1C638.1 163.4 633.0 164.9 629.7 164.9C626.3 164.8 622.7 163.5 619.7 162.8C616.7 162.0 614.3 161.6 611.6 160.3C608.8 159.1 605.5 155.8 603.2 155.5C601.0 155.2 600.1 157.6 598.0 158.5C595.9 159.4 592.9 160.4 590.8 161.0C588.6 161.5 586.1 161.7 585.1 161.9M640.7 163.1C642.4 163.4 647.5 164.9 650.8 164.9C654.2 164.8 657.8 163.5 660.8 162.8C663.8 162.0 666.2 161.6 668.9 160.3C671.7 159.1 675.0 155.8 677.3 155.5C679.5 155.2 681.6 158.0 682.5 158.5M530.4 162.3C531.4 163.0 534.4 165.1 536.1 166.4C537.7 167.7 538.3 169.7 540.6 170.0C542.8 170.3 546.8 169.3 549.6 168.2C552.5 167.2 554.9 165.1 557.8 163.7C560.7 162.3 564.1 159.8 567.0 159.6C569.9 159.4 572.0 161.4 575.0 162.3C578.0 163.2 583.4 164.6 585.1 165.1M639.8 162.3C638.9 163.0 635.9 165.1 634.2 166.4C632.5 167.7 631.9 169.7 629.7 170.0C627.4 170.3 623.5 169.3 620.6 168.2C617.8 167.2 615.4 165.1 612.5 163.7C609.6 162.3 606.1 159.8 603.2 159.6C600.4 159.4 598.3 161.4 595.3 162.3C592.3 163.2 586.8 164.6 585.1 165.1M640.7 162.3C641.6 163.0 644.6 165.1 646.3 166.4C648.0 167.7 648.6 169.7 650.8 170.0C653.1 170.3 657.0 169.3 659.9 168.2C662.7 167.2 665.1 165.1 668.0 163.7C670.9 162.3 674.4 159.8 677.3 159.6C680.1 159.4 683.9 161.9 685.2 162.3M530.4 162.5C530.8 162.7 531.6 162.9 532.4 163.7C533.3 164.5 534.6 166.0 535.6 167.3C536.6 168.6 537.5 170.2 538.3 171.4C539.1 172.6 539.8 173.6 540.6 174.6C541.3 175.5 541.9 176.3 542.8 177.0C543.7 177.7 544.6 178.2 546.0 178.6C547.4 179.1 549.3 179.4 551.4 179.7C553.5 180.0 556.1 180.2 558.7 180.3C561.3 180.3 565.6 180.1 567.0 180.1M639.8 162.5C639.5 162.7 638.7 162.9 637.8 163.7C637.0 164.5 635.6 166.0 634.7 167.3C633.7 168.6 632.8 170.2 631.9 171.4C631.1 172.6 630.4 173.6 629.7 174.6C628.9 175.5 628.3 176.3 627.4 177.0C626.5 177.7 625.7 178.2 624.2 178.6C622.8 179.1 620.9 179.4 618.8 179.7C616.7 180.0 614.2 180.2 611.6 180.3C609.0 180.3 604.6 180.1 603.2 180.1M640.7 162.5C641.0 162.7 641.8 162.9 642.7 163.7C643.5 164.5 644.9 166.0 645.8 167.3C646.8 168.6 647.7 170.2 648.6 171.4C649.4 172.6 650.1 173.6 650.8 174.6C651.6 175.5 652.2 176.3 653.1 177.0C654.0 177.7 654.8 178.2 656.3 178.6C657.7 179.1 659.6 179.4 661.7 179.7C663.8 180.0 666.3 180.2 668.9 180.3C671.5 180.3 675.9 180.1 677.3 180.1M530.4 163.1C531.5 163.9 535.1 166.9 537.0 168.2C538.8 169.5 538.9 170.7 541.5 170.9C544.0 171.2 549.3 170.6 552.3 169.6C555.4 168.6 557.1 166.2 559.6 165.1C562.0 163.9 564.4 162.8 567.0 162.8C569.6 162.8 572.0 164.4 575.0 165.1C578.0 165.7 583.4 166.6 585.1 166.9M639.8 163.1C638.7 163.9 635.1 166.9 633.3 168.2C631.5 169.5 631.3 170.7 628.8 170.9C626.2 171.2 620.9 170.6 617.9 169.6C614.9 168.6 613.1 166.2 610.7 165.1C608.2 163.9 605.8 162.8 603.2 162.8C600.7 162.8 598.3 164.4 595.3 165.1C592.3 165.7 586.8 166.6 585.1 166.9M640.7 163.1C641.8 163.9 645.4 166.9 647.2 168.2C649.0 169.5 649.2 170.7 651.7 170.9C654.3 171.2 659.6 170.6 662.6 169.6C665.6 168.6 667.4 166.2 669.8 165.1C672.3 163.9 674.7 162.8 677.3 162.8C679.8 162.8 683.9 164.7 685.2 165.1M536.1 164.1C538.3 164.1 545.9 164.1 549.6 163.7C553.4 163.2 555.8 162.0 558.7 161.4C561.6 160.8 565.6 160.3 567.0 160.1M634.2 164.1C631.9 164.1 624.4 164.1 620.6 163.7C616.9 163.2 614.5 162.0 611.6 161.4C608.7 160.8 604.6 160.3 603.2 160.1M646.3 164.1C648.6 164.1 656.1 164.1 659.9 163.7C663.6 163.2 666.0 162.0 668.9 161.4C671.8 160.8 675.9 160.3 677.3 160.1M549.6 177.3C551.1 176.7 555.8 175.0 558.7 173.6C561.6 172.3 564.3 169.3 567.0 169.1C569.7 169.0 572.6 171.3 575.0 172.7C577.4 174.2 579.6 176.5 581.3 177.7C583.0 178.9 584.5 179.6 585.1 180.0M620.6 177.3C619.1 176.7 614.5 175.0 611.6 173.6C608.7 172.3 606.0 169.3 603.2 169.1C600.5 169.0 597.7 171.3 595.3 172.7C592.9 174.2 590.6 176.5 588.9 177.7C587.3 178.9 585.8 179.6 585.1 180.0M659.9 177.3C661.4 176.7 666.0 175.0 668.9 173.6C671.8 172.3 674.5 169.3 677.3 169.1C680.0 169.0 683.9 172.1 685.2 172.7M530.4 174.6C531.7 174.3 535.9 172.8 537.9 173.2C539.9 173.6 540.4 175.9 542.4 176.8C544.3 177.7 547.2 178.6 549.6 178.6C552.0 178.6 555.7 177.1 556.9 176.8M639.8 174.6C638.6 174.3 634.4 172.8 632.4 173.2C630.4 173.6 629.8 175.9 627.9 176.8C625.9 177.7 623.0 178.6 620.6 178.6C618.2 178.6 614.6 177.1 613.4 176.8M640.7 174.6C641.9 174.3 646.1 172.8 648.1 173.2C650.1 173.6 650.7 175.9 652.6 176.8C654.6 177.7 657.5 178.6 659.9 178.6C662.3 178.6 665.9 177.1 667.1 176.8M530.4 176.4C531.7 176.2 535.4 175.2 537.9 175.5C540.3 175.7 542.4 177.9 545.1 177.7C547.8 177.5 551.9 174.9 554.2 174.1C556.4 173.3 556.5 173.0 558.7 173.2C560.8 173.3 564.1 174.6 567.0 175.0C569.9 175.4 572.9 175.3 575.9 175.5C578.9 175.6 583.6 175.8 585.1 175.9M639.8 176.4C638.6 176.2 634.8 175.2 632.4 175.5C629.9 175.7 627.9 177.9 625.1 177.7C622.4 177.5 618.4 174.9 616.1 174.1C613.8 173.3 613.7 173.0 611.6 173.2C609.4 173.3 606.1 174.6 603.2 175.0C600.4 175.4 597.4 175.3 594.4 175.5C591.4 175.6 586.7 175.8 585.1 175.9M640.7 176.4C641.9 176.2 645.7 175.2 648.1 175.5C650.6 175.7 652.6 177.9 655.4 177.7C658.1 177.5 662.1 174.9 664.4 174.1C666.7 173.3 666.8 173.0 668.9 173.2C671.1 173.3 674.4 174.6 677.3 175.0C680.1 175.4 684.6 175.4 686.1 175.5M530.4 177.7C532.1 178.0 537.4 179.7 540.6 179.5C543.8 179.4 547.4 177.9 549.6 176.8C551.9 175.8 552.6 174.1 554.2 173.2C555.7 172.3 557.9 171.7 558.7 171.4M639.8 177.7C638.1 178.0 632.9 179.7 629.7 179.5C626.5 179.4 622.9 177.9 620.6 176.8C618.4 175.8 617.6 174.1 616.1 173.2C614.6 172.3 612.3 171.7 611.6 171.4M640.7 177.7C642.4 178.0 647.6 179.7 650.8 179.5C654.0 179.4 657.6 177.9 659.9 176.8C662.1 175.8 662.9 174.1 664.4 173.2C665.9 172.3 668.2 171.7 668.9 171.4M530.4 179.5C532.1 179.8 537.4 180.7 540.6 181.3C543.8 182.0 546.6 183.3 549.6 183.6C552.6 183.9 555.8 183.2 558.7 183.2C561.6 183.1 564.1 183.2 567.0 183.2C569.9 183.2 572.9 183.1 575.9 183.2C578.9 183.2 583.6 183.5 585.1 183.6M639.8 179.5C638.1 179.8 632.9 180.7 629.7 181.3C626.5 182.0 623.6 183.3 620.6 183.6C617.6 183.9 614.5 183.2 611.6 183.2C608.7 183.1 606.1 183.2 603.2 183.2C600.4 183.2 597.4 183.1 594.4 183.2C591.4 183.2 586.7 183.5 585.1 183.6M640.7 179.5C642.4 179.8 647.6 180.7 650.8 181.3C654.0 182.0 656.9 183.3 659.9 183.6C662.9 183.9 666.0 183.2 668.9 183.2C671.8 183.1 674.4 183.2 677.3 183.2C680.1 183.2 684.6 183.2 686.1 183.2M530.4 181.3C532.1 181.6 537.4 182.2 540.6 182.7C543.8 183.2 546.6 184.1 549.6 184.5C552.6 184.9 555.8 184.9 558.7 185.0C561.6 185.0 564.1 184.9 567.0 185.0C569.9 185.0 572.9 185.4 575.9 185.4C578.9 185.4 583.6 185.0 585.1 185.0M639.8 181.3C638.1 181.6 632.9 182.2 629.7 182.7C626.5 183.2 623.6 184.1 620.6 184.5C617.6 184.9 614.5 184.9 611.6 185.0C608.7 185.0 606.1 184.9 603.2 185.0C600.4 185.0 597.4 185.4 594.4 185.4C591.4 185.4 586.7 185.0 585.1 185.0M640.7 181.3C642.4 181.6 647.6 182.2 650.8 182.7C654.0 183.2 656.9 184.1 659.9 184.5C662.9 184.9 666.0 184.9 668.9 185.0C671.8 185.0 674.4 184.9 677.3 185.0C680.1 185.0 684.6 185.3 686.1 185.4M530.4 185.9C531.7 186.0 535.4 186.4 537.9 186.8C540.3 187.2 542.4 187.8 545.1 188.1C547.8 188.4 550.5 188.6 554.2 188.6C557.8 188.6 563.4 188.0 567.0 188.1C570.6 188.3 572.9 189.3 575.9 189.5C578.9 189.6 583.6 189.1 585.1 189.0M639.8 185.9C638.6 186.0 634.8 186.4 632.4 186.8C629.9 187.2 627.9 187.8 625.1 188.1C622.4 188.4 619.7 188.6 616.1 188.6C612.4 188.6 606.9 188.0 603.2 188.1C599.6 188.3 597.4 189.3 594.4 189.5C591.4 189.6 586.7 189.1 585.1 189.0M640.7 185.9C641.9 186.0 645.7 186.4 648.1 186.8C650.6 187.2 652.6 187.8 655.4 188.1C658.1 188.4 660.8 188.6 664.4 188.6C668.1 188.6 673.6 188.0 677.3 188.1C680.9 188.3 684.6 189.3 686.1 189.5M530.4 187.2C531.4 187.4 534.4 187.7 536.1 188.1C537.7 188.6 539.8 189.6 540.6 189.9M639.8 187.2C638.9 187.4 635.9 187.7 634.2 188.1C632.5 188.6 630.4 189.6 629.7 189.9M640.7 187.2C641.6 187.4 644.6 187.7 646.3 188.1C648.0 188.6 650.1 189.6 650.8 189.9" stroke="#b82431" stroke-width="1.0"/>
</g>
<rect x="530.00" y="34.40" width="147.00" height="156.00" fill="none" stroke="#262626" stroke-width="1.05"/>
<line x1="527.90" x2="530.00" y1="50.00" y2="50.00" stroke="#262626" stroke-width="0.8"/>
<line x1="527.90" x2="530.00" y1="81.20" y2="81.20" stroke="#262626" stroke-width="0.8"/>
<line x1="527.90" x2="530.00" y1="112.40" y2="112.40" stroke="#262626" stroke-width="0.8"/>
<line x1="527.90" x2="530.00" y1="143.60" y2="143.60" stroke="#262626" stroke-width="0.8"/>
<line x1="527.90" x2="530.00" y1="174.80" y2="174.80" stroke="#262626" stroke-width="0.8"/>
<line x1="530.00" x2="530.00" y1="190.40" y2="194.30" stroke="#262626" stroke-width="1.05"/>
<line x1="566.75" x2="566.75" y1="190.40" y2="194.30" stroke="#262626" stroke-width="1.05"/>
<line x1="603.50" x2="603.50" y1="190.40" y2="194.30" stroke="#262626" stroke-width="1.05"/>
<line x1="640.25" x2="640.25" y1="190.40" y2="194.30" stroke="#262626" stroke-width="1.05"/>
<line x1="677.00" x2="677.00" y1="190.40" y2="194.30" stroke="#262626" stroke-width="1.05"/>
<text x="530.30" y="205.80" font-size="10.1" text-anchor="middle">Γ</text>
<text x="566.75" y="205.80" font-size="10.1" text-anchor="middle">K</text>
<text x="603.80" y="205.80" font-size="10.1" text-anchor="middle" font-style="italic">K′</text>
<text x="640.55" y="205.80" font-size="10.1" text-anchor="middle">Γ</text>
<text x="678.50" y="205.80" font-size="10.1" text-anchor="middle" font-style="italic">K″</text>
<text x="676.20" y="27.60" font-size="10.4" text-anchor="end" textLength="58" lengthAdjust="spacingAndGlyphs">AA+(1/2,0)</text>
<text x="530.25" y="27.60" font-size="10.4" textLength="13.8" lengthAdjust="spacingAndGlyphs">(d)</text>
<text transform="translate(8.8 112.10) rotate(-90)" font-size="10.2" text-anchor="middle" textLength="45.8" lengthAdjust="spacingAndGlyphs">E-E<tspan font-size="7.4" dy="1.3" font-style="italic">F</tspan><tspan dy="-1.3"> (eV)</tspan></text>
<text class="sr" x="274.4" y="231.20" font-size="16.6" textLength="23.9" lengthAdjust="spacingAndGlyphs">AA</text>
<text class="sr" x="347.7" y="231.20" font-size="16.6" textLength="59.2" lengthAdjust="spacingAndGlyphs">ordering</text>
<path d="M305.60 231.20V219.70M302.60 222.30L305.60 219.50L308.60 222.30" stroke="#111" stroke-width="1.05" fill="none"/>
<path d="M313.90 219.30V230.80M310.90 228.20L313.90 231.00L316.90 228.20" stroke="#111" stroke-width="1.05" fill="none"/>
<path d="M330.30 219.30V230.80M327.30 228.20L330.30 231.00L333.30 228.20" stroke="#111" stroke-width="1.05" fill="none"/>
<path d="M338.30 231.20V219.70M335.30 222.30L338.30 219.50L341.30 222.30" stroke="#111" stroke-width="1.05" fill="none"/>
<line x1="319.6" y1="234.20" x2="325.5" y2="219.80" stroke="#111" stroke-width="1.05"/>
<rect x="34.40" y="346.44" width="147.00" height="62.46" fill="#f1f1f1"/>
<line x1="71.15" y1="253.50" x2="71.15" y2="408.90" stroke="#a2a2a2" stroke-width="1"/>
<line x1="107.90" y1="253.50" x2="107.90" y2="408.90" stroke="#a2a2a2" stroke-width="1"/>
<line x1="144.65" y1="253.50" x2="144.65" y2="408.90" stroke="#a2a2a2" stroke-width="1"/>
<clipPath id="c10"><rect x="34.40" y="253.50" width="147.00" height="155.40"/></clipPath>
<g clip-path="url(#c10)" fill="none" stroke-linejoin="round" stroke-linecap="round">
<path d="M34.5 264.4C35.3 263.8 37.4 261.9 39.2 261.0C41.1 260.1 43.8 259.1 45.6 258.9C47.4 258.8 48.4 259.3 50.1 260.3C51.8 261.3 53.6 262.9 55.5 264.9C57.5 266.9 60.1 270.2 61.9 272.1C63.7 274.1 64.9 275.5 66.4 276.6C67.9 277.7 69.4 278.6 70.9 278.7C72.4 278.8 73.8 278.2 75.4 277.1C77.1 276.0 79.1 273.8 80.9 272.1C82.7 270.5 84.9 268.3 86.3 267.3C87.7 266.4 88.9 266.4 89.5 266.2M144.5 264.4C143.7 263.8 141.6 261.9 139.8 261.0C138.0 260.1 135.3 259.1 133.5 258.9C131.7 258.8 130.6 259.3 128.9 260.3C127.3 261.3 125.5 262.9 123.5 264.9C121.6 266.9 119.0 270.2 117.2 272.1C115.4 274.1 114.2 275.5 112.7 276.6C111.1 277.7 109.6 278.6 108.1 278.7C106.6 278.8 105.3 278.2 103.6 277.1C101.9 276.0 100.0 273.8 98.2 272.1C96.4 270.5 94.2 268.3 92.7 267.3C91.3 266.4 90.1 266.4 89.6 266.2M144.8 264.4C145.6 263.8 147.7 261.9 149.5 261.0C151.3 260.1 154.0 259.1 155.8 258.9C157.6 258.8 158.7 259.3 160.4 260.3C162.0 261.3 163.8 262.9 165.8 264.9C167.7 266.9 170.3 270.2 172.1 272.1C173.9 274.1 175.1 275.5 176.6 276.6C178.2 277.7 179.7 278.6 181.2 278.7C182.7 278.8 184.0 278.2 185.7 277.1C187.4 276.0 190.2 273.0 191.1 272.1M34.5 265.5C35.3 264.9 37.4 262.9 39.2 261.9C41.1 260.9 43.8 259.7 45.6 259.5C47.4 259.3 48.4 259.9 50.1 260.8C51.8 261.8 53.6 263.4 55.5 265.4C57.5 267.3 60.1 270.6 61.9 272.5C63.7 274.4 64.9 275.8 66.4 276.9C67.9 278.0 69.4 279.0 70.9 279.1C72.4 279.2 73.8 278.7 75.4 277.6C77.1 276.5 79.1 274.1 80.9 272.5C82.7 270.9 84.9 268.8 86.3 267.8C87.7 266.8 88.9 266.9 89.5 266.7M144.5 265.5C143.7 264.9 141.6 262.9 139.8 261.9C138.0 260.9 135.3 259.7 133.5 259.5C131.7 259.3 130.6 259.9 128.9 260.8C127.3 261.8 125.5 263.4 123.5 265.4C121.6 267.3 119.0 270.6 117.2 272.5C115.4 274.4 114.2 275.8 112.7 276.9C111.1 278.0 109.6 279.0 108.1 279.1C106.6 279.2 105.3 278.7 103.6 277.6C101.9 276.5 100.0 274.1 98.2 272.5C96.4 270.9 94.2 268.8 92.7 267.8C91.3 266.8 90.1 266.9 89.6 266.7M144.8 265.5C145.6 264.9 147.7 262.9 149.5 261.9C151.3 260.9 154.0 259.7 155.8 259.5C157.6 259.3 158.7 259.9 160.4 260.8C162.0 261.8 163.8 263.4 165.8 265.4C167.7 267.3 170.3 270.6 172.1 272.5C173.9 274.4 175.1 275.8 176.6 276.9C178.2 278.0 179.7 279.0 181.2 279.1C182.7 279.2 184.0 278.7 185.7 277.6C187.4 276.5 190.2 273.4 191.1 272.5M34.5 266.9C35.3 266.2 37.4 264.0 39.2 262.8C41.1 261.7 43.8 260.2 45.6 259.9C47.4 259.6 48.4 260.2 50.1 261.1C51.8 262.1 54.6 264.9 55.5 265.6M144.5 266.9C143.7 266.2 141.6 264.0 139.8 262.8C138.0 261.7 135.3 260.2 133.5 259.9C131.7 259.6 130.6 260.2 128.9 261.1C127.3 262.1 124.4 264.9 123.5 265.6M144.8 266.9C145.6 266.2 147.7 264.0 149.5 262.8C151.3 261.7 154.0 260.2 155.8 259.9C157.6 259.6 158.7 260.2 160.4 261.1C162.0 262.1 164.9 264.9 165.8 265.6M54.6 253.3C55.4 254.0 57.5 256.1 59.2 257.7C60.8 259.2 62.6 261.4 64.6 262.6C66.5 263.7 69.0 264.4 70.9 264.6C72.9 264.9 74.5 264.7 76.4 264.2C78.2 263.7 80.1 262.1 81.8 261.5C83.4 260.8 85.0 260.4 86.3 260.1C87.6 259.8 88.9 259.9 89.5 259.8M124.4 253.3C123.7 254.0 121.6 256.1 119.9 257.7C118.2 259.2 116.4 261.4 114.5 262.6C112.5 263.7 110.1 264.4 108.1 264.6C106.2 264.9 104.5 264.7 102.7 264.2C100.9 263.7 98.9 262.1 97.3 261.5C95.6 260.8 94.0 260.4 92.7 260.1C91.5 259.8 90.1 259.9 89.6 259.8M164.9 253.3C165.6 254.0 167.7 256.1 169.4 257.7C171.1 259.2 172.9 261.4 174.8 262.6C176.8 263.7 179.2 264.4 181.2 264.6C183.1 264.9 184.8 264.7 186.6 264.2C188.4 263.7 191.1 261.9 192.0 261.5M55.1 253.3C55.8 254.1 57.9 256.4 59.6 258.0C61.3 259.7 63.2 261.9 65.0 263.1C66.9 264.3 69.0 265.1 70.9 265.4C72.8 265.7 74.5 265.4 76.4 264.9C78.2 264.4 80.1 262.8 81.8 262.1C83.4 261.4 85.0 260.8 86.3 260.6C87.6 260.3 88.9 260.4 89.5 260.4M124.0 253.3C123.2 254.1 121.1 256.4 119.4 258.0C117.8 259.7 115.9 261.9 114.0 263.1C112.1 264.3 110.0 265.1 108.1 265.4C106.2 265.7 104.5 265.4 102.7 264.9C100.9 264.4 98.9 262.8 97.3 262.1C95.6 261.4 94.0 260.8 92.7 260.6C91.5 260.3 90.1 260.4 89.6 260.4M165.3 253.3C166.1 254.1 168.2 256.4 169.9 258.0C171.5 259.7 173.4 261.9 175.3 263.1C177.2 264.3 179.3 265.1 181.2 265.4C183.1 265.7 184.8 265.4 186.6 264.9C188.4 264.4 191.1 262.6 192.0 262.1M55.5 253.3C56.3 254.2 58.4 256.7 60.1 258.4C61.7 260.1 63.7 262.3 65.5 263.6C67.3 264.9 69.1 265.9 70.9 266.2C72.7 266.5 74.5 266.1 76.4 265.5C78.2 264.9 80.1 263.3 81.8 262.6C83.4 261.8 85.0 261.2 86.3 260.9C87.6 260.6 88.9 260.8 89.5 260.8M123.5 253.3C122.8 254.2 120.7 256.7 119.0 258.4C117.3 260.1 115.4 262.3 113.6 263.6C111.8 264.9 109.9 265.9 108.1 266.2C106.3 266.5 104.5 266.1 102.7 265.5C100.9 264.9 98.9 263.3 97.3 262.6C95.6 261.8 94.0 261.2 92.7 260.9C91.5 260.6 90.1 260.8 89.6 260.8M165.8 253.3C166.5 254.2 168.6 256.7 170.3 258.4C172.0 260.1 173.9 262.3 175.7 263.6C177.5 264.9 179.4 265.9 181.2 266.2C183.0 266.5 184.8 266.1 186.6 265.5C188.4 264.9 191.1 263.1 192.0 262.6M36.4 362.2C37.5 362.1 40.3 362.0 42.9 361.8C45.5 361.5 49.1 361.2 51.9 360.9C54.8 360.5 57.7 360.1 60.1 359.5C62.5 358.9 64.3 357.9 66.4 357.4C68.5 356.9 70.6 356.5 72.8 356.5C74.9 356.5 77.0 357.0 79.1 357.4C81.2 357.8 83.4 358.6 85.4 359.1C87.5 359.5 90.3 359.8 91.3 360.0M142.7 362.2C141.6 362.1 138.8 362.0 136.2 361.8C133.6 361.5 130.0 361.2 127.1 360.9C124.2 360.5 121.4 360.1 119.0 359.5C116.6 358.9 114.7 357.9 112.6 357.4C110.5 356.9 108.4 356.5 106.3 356.5C104.2 356.5 102.1 357.0 100.0 357.4C97.8 357.8 95.7 358.6 93.6 359.1C91.6 359.5 88.7 359.8 87.7 360.0M146.6 362.2C147.7 362.1 150.5 362.0 153.1 361.8C155.7 361.5 159.3 361.2 162.2 360.9C165.1 360.5 167.9 360.1 170.3 359.5C172.7 358.9 174.6 357.9 176.7 357.4C178.8 356.9 180.9 356.5 183.0 356.5C185.1 356.5 188.3 357.3 189.3 357.4M36.4 362.9C37.5 362.9 40.3 363.0 42.9 362.9C45.5 362.7 49.1 362.2 51.9 361.8C54.8 361.3 57.7 360.6 60.1 360.0C62.5 359.3 64.3 358.2 66.4 357.7C68.5 357.2 70.6 356.7 72.8 356.7C74.9 356.7 77.0 357.3 79.1 357.7C81.2 358.1 83.4 358.8 85.4 359.2C87.5 359.6 90.3 360.0 91.3 360.1M142.7 362.9C141.6 362.9 138.8 363.0 136.2 362.9C133.6 362.7 130.0 362.2 127.1 361.8C124.2 361.3 121.4 360.6 119.0 360.0C116.6 359.3 114.7 358.2 112.6 357.7C110.5 357.2 108.4 356.7 106.3 356.7C104.2 356.7 102.1 357.3 100.0 357.7C97.8 358.1 95.7 358.8 93.6 359.2C91.6 359.6 88.7 360.0 87.7 360.1M146.6 362.9C147.7 362.9 150.5 363.0 153.1 362.9C155.7 362.7 159.3 362.2 162.2 361.8C165.1 361.3 167.9 360.6 170.3 360.0C172.7 359.3 174.6 358.2 176.7 357.7C178.8 357.2 180.9 356.7 183.0 356.7C185.1 356.7 188.3 357.5 189.3 357.7M36.4 363.4C37.5 363.5 40.3 363.9 42.9 363.8C45.5 363.6 49.1 363.2 51.9 362.7C54.8 362.2 57.7 361.5 60.1 360.7C62.5 359.9 65.4 358.4 66.4 358.0M142.7 363.4C141.6 363.5 138.8 363.9 136.2 363.8C133.6 363.6 130.0 363.2 127.1 362.7C124.2 362.2 121.4 361.5 119.0 360.7C116.6 359.9 113.7 358.4 112.6 358.0M146.6 363.4C147.7 363.5 150.5 363.9 153.1 363.8C155.7 363.6 159.3 363.2 162.2 362.7C165.1 362.2 167.9 361.5 170.3 360.7C172.7 359.9 175.6 358.4 176.7 358.0M36.4 364.9C37.5 365.5 40.4 367.3 42.9 368.6C45.3 369.8 48.6 372.1 51.0 372.2C53.4 372.3 55.3 370.0 57.4 369.0C59.5 368.0 61.1 366.5 63.7 366.1C66.3 365.7 69.7 367.2 72.8 366.7C75.8 366.3 78.7 364.4 81.8 363.6C84.9 362.7 89.7 361.9 91.3 361.6M142.7 364.9C141.6 365.5 138.6 367.3 136.2 368.6C133.7 369.8 130.4 372.1 128.0 372.2C125.6 372.3 123.8 370.0 121.7 369.0C119.6 368.0 117.9 366.5 115.3 366.1C112.8 365.7 109.3 367.2 106.3 366.7C103.3 366.3 100.3 364.4 97.2 363.6C94.1 362.7 89.3 361.9 87.7 361.6M146.6 364.9C147.7 365.5 150.7 367.3 153.1 368.6C155.6 369.8 158.9 372.1 161.3 372.2C163.7 372.3 165.5 370.0 167.6 369.0C169.7 368.0 171.4 366.5 174.0 366.1C176.5 365.7 180.0 367.2 183.0 366.7C186.0 366.3 190.5 364.1 192.1 363.6M36.4 365.4C37.5 366.1 40.4 368.2 42.9 369.5C45.3 370.7 48.6 373.0 51.0 373.1C53.4 373.2 55.3 371.0 57.4 369.9C59.5 368.9 61.9 367.0 63.7 366.7C65.5 366.5 66.7 367.9 68.2 368.6C69.7 369.2 70.6 371.0 72.8 370.8C74.9 370.7 77.8 368.4 80.9 367.6C84.0 366.9 89.6 366.5 91.3 366.3M142.7 365.4C141.6 366.1 138.6 368.2 136.2 369.5C133.7 370.7 130.4 373.0 128.0 373.1C125.6 373.2 123.8 371.0 121.7 369.9C119.6 368.9 117.2 367.0 115.3 366.7C113.5 366.5 112.3 367.9 110.8 368.6C109.3 369.2 108.4 371.0 106.3 370.8C104.2 370.7 101.2 368.4 98.1 367.6C95.1 366.9 89.5 366.5 87.7 366.3M146.6 365.4C147.7 366.1 150.7 368.2 153.1 369.5C155.6 370.7 158.9 373.0 161.3 373.1C163.7 373.2 165.5 371.0 167.6 369.9C169.7 368.9 172.1 367.0 174.0 366.7C175.8 366.5 177.0 367.9 178.5 368.6C180.0 369.2 180.9 371.0 183.0 370.8C185.1 370.7 189.8 368.2 191.2 367.6M36.4 365.8C37.5 366.5 40.4 368.8 42.9 370.1C45.3 371.4 48.6 373.7 51.0 373.8C53.4 373.9 55.3 371.7 57.4 370.6C59.5 369.6 61.9 367.6 63.7 367.4C65.5 367.1 66.7 368.4 68.2 369.0C69.7 369.7 70.6 371.4 72.8 371.3C74.9 371.1 77.8 368.9 80.9 368.1C84.0 367.3 89.6 366.9 91.3 366.7M142.7 365.8C141.6 366.5 138.6 368.8 136.2 370.1C133.7 371.4 130.4 373.7 128.0 373.8C125.6 373.9 123.8 371.7 121.7 370.6C119.6 369.6 117.2 367.6 115.3 367.4C113.5 367.1 112.3 368.4 110.8 369.0C109.3 369.7 108.4 371.4 106.3 371.3C104.2 371.1 101.2 368.9 98.1 368.1C95.1 367.3 89.5 366.9 87.7 366.7M146.6 365.8C147.7 366.5 150.7 368.8 153.1 370.1C155.6 371.4 158.9 373.7 161.3 373.8C163.7 373.9 165.5 371.7 167.6 370.6C169.7 369.6 172.1 367.6 174.0 367.4C175.8 367.1 177.0 368.4 178.5 369.0C180.0 369.7 180.9 371.4 183.0 371.3C185.1 371.1 189.8 368.6 191.2 368.1M36.4 382.1C38.2 382.2 44.1 383.1 47.4 383.0C50.8 382.9 53.7 382.3 56.5 381.6C59.2 381.0 61.0 380.4 63.7 379.1C66.4 377.8 70.2 374.2 72.8 374.0C75.3 373.8 77.1 377.0 79.1 378.0C81.1 379.0 82.5 379.5 84.5 380.0C86.6 380.4 90.2 380.6 91.3 380.7M142.7 382.1C140.8 382.2 135.0 383.1 131.6 383.0C128.3 382.9 125.3 382.3 122.6 381.6C119.9 381.0 118.1 380.4 115.3 379.1C112.6 377.8 108.9 374.2 106.3 374.0C103.7 373.8 101.9 377.0 100.0 378.0C98.0 379.0 96.6 379.5 94.5 380.0C92.5 380.4 88.9 380.6 87.7 380.7M146.6 382.1C148.5 382.2 154.3 383.1 157.7 383.0C161.0 382.9 164.0 382.3 166.7 381.6C169.4 381.0 171.2 380.4 174.0 379.1C176.7 377.8 180.4 374.2 183.0 374.0C185.6 373.8 188.3 377.3 189.3 378.0M36.4 382.5C38.2 382.7 44.1 383.5 47.4 383.4C50.8 383.4 53.7 382.8 56.5 382.2C59.2 381.5 61.0 380.9 63.7 379.6C66.4 378.4 70.2 374.7 72.8 374.6C75.3 374.4 77.1 377.5 79.1 378.5C81.1 379.5 82.5 380.1 84.5 380.5C86.6 381.0 90.2 381.1 91.3 381.3M142.7 382.5C140.8 382.7 135.0 383.5 131.6 383.4C128.3 383.4 125.3 382.8 122.6 382.2C119.9 381.5 118.1 380.9 115.3 379.6C112.6 378.4 108.9 374.7 106.3 374.6C103.7 374.4 101.9 377.5 100.0 378.5C98.0 379.5 96.6 380.1 94.5 380.5C92.5 381.0 88.9 381.1 87.7 381.3M146.6 382.5C148.5 382.7 154.3 383.5 157.7 383.4C161.0 383.4 164.0 382.8 166.7 382.2C169.4 381.5 171.2 380.9 174.0 379.6C176.7 378.4 180.4 374.7 183.0 374.6C185.6 374.4 188.3 377.9 189.3 378.5M36.4 382.1C36.6 382.2 37.2 382.2 38.0 382.9C38.8 383.6 40.3 385.0 41.3 386.1C42.2 387.1 42.9 388.4 43.6 389.3C44.3 390.2 44.7 390.6 45.2 391.7C45.8 392.7 46.3 394.4 46.9 395.6C47.4 396.9 47.7 398.0 48.4 398.9C49.1 399.8 49.6 400.6 50.9 401.3C52.1 401.9 54.1 402.4 55.7 402.9C57.2 403.4 58.9 403.8 60.4 404.1C62.0 404.3 62.7 404.5 64.8 404.5C66.8 404.5 69.9 404.1 72.8 404.1C75.6 404.0 78.7 404.0 81.8 404.1C84.9 404.1 89.7 404.2 91.3 404.2M142.7 382.1C142.4 382.2 141.9 382.2 141.0 382.9C140.2 383.6 138.7 385.0 137.8 386.1C136.9 387.1 136.1 388.4 135.4 389.3C134.8 390.2 134.4 390.6 133.8 391.7C133.3 392.7 132.7 394.4 132.2 395.6C131.7 396.9 131.3 398.0 130.6 398.9C130.0 399.8 129.4 400.6 128.2 401.3C127.0 401.9 125.0 402.4 123.4 402.9C121.8 403.4 120.1 403.8 118.6 404.1C117.1 404.3 116.3 404.5 114.3 404.5C112.2 404.5 109.1 404.1 106.3 404.1C103.5 404.0 100.3 404.0 97.2 404.1C94.1 404.1 89.3 404.2 87.7 404.2M146.6 382.1C146.9 382.2 147.4 382.2 148.3 382.9C149.1 383.6 150.6 385.0 151.5 386.1C152.4 387.1 153.2 388.4 153.9 389.3C154.5 390.2 154.9 390.6 155.5 391.7C156.0 392.7 156.6 394.4 157.1 395.6C157.6 396.9 158.0 398.0 158.7 398.9C159.3 399.8 159.9 400.6 161.1 401.3C162.3 401.9 164.3 402.4 165.9 402.9C167.5 403.4 169.2 403.8 170.7 404.1C172.2 404.3 173.0 404.5 175.0 404.5C177.1 404.5 180.2 404.1 183.0 404.1C185.8 404.0 190.5 404.1 192.1 404.1M36.4 396.6C37.5 395.9 40.7 393.8 42.9 392.5C45.0 391.2 47.0 389.9 49.2 388.9C51.5 387.8 54.1 387.1 56.5 386.1C58.9 385.2 61.0 384.2 63.7 383.0C66.4 381.8 69.7 379.1 72.8 378.9C75.8 378.8 78.7 381.3 81.8 382.1C84.9 382.8 89.7 383.1 91.3 383.2M142.7 396.6C141.6 395.9 138.3 393.8 136.2 392.5C134.0 391.2 132.1 389.9 129.8 388.9C127.6 387.8 125.0 387.1 122.6 386.1C120.2 385.2 118.1 384.2 115.3 383.0C112.6 381.8 109.3 379.1 106.3 378.9C103.3 378.8 100.3 381.3 97.2 382.1C94.1 382.8 89.3 383.1 87.7 383.2M146.6 396.6C147.7 395.9 151.0 393.8 153.1 392.5C155.3 391.2 157.2 389.9 159.5 388.9C161.7 387.8 164.3 387.1 166.7 386.1C169.1 385.2 171.2 384.2 174.0 383.0C176.7 381.8 180.0 379.1 183.0 378.9C186.0 378.8 190.5 381.5 192.1 382.1M36.4 398.4C37.8 397.8 42.1 395.7 44.7 394.7C47.3 393.8 49.2 393.6 51.9 392.5C54.7 391.4 58.3 389.3 61.0 388.0C63.7 386.6 66.3 385.1 68.2 384.3C70.2 383.6 70.5 383.1 72.8 383.4C75.0 383.7 78.7 385.2 81.8 386.1C84.9 387.1 89.7 388.4 91.3 388.9M142.7 398.4C141.3 397.8 136.9 395.7 134.4 394.7C131.8 393.8 129.8 393.6 127.1 392.5C124.4 391.4 120.8 389.3 118.1 388.0C115.3 386.6 112.8 385.1 110.8 384.3C108.9 383.6 108.6 383.1 106.3 383.4C104.0 383.7 100.3 385.2 97.2 386.1C94.1 387.1 89.3 388.4 87.7 388.9M146.6 398.4C148.0 397.8 152.4 395.7 154.9 394.7C157.5 393.8 159.5 393.6 162.2 392.5C164.9 391.4 168.5 389.3 171.2 388.0C174.0 386.6 176.5 385.1 178.5 384.3C180.4 383.6 180.7 383.1 183.0 383.4C185.3 383.7 190.5 385.7 192.1 386.1M36.4 397.0C37.8 396.0 41.3 392.0 44.7 390.7C48.0 389.3 52.5 389.4 56.5 388.9C60.4 388.3 65.5 387.7 68.2 387.5C70.9 387.4 70.6 387.0 72.8 388.0C74.9 388.9 78.6 391.8 80.9 393.4C83.2 395.0 84.6 396.4 86.3 397.5C88.1 398.5 90.5 399.3 91.3 399.7M142.7 397.0C141.3 396.0 137.7 392.0 134.4 390.7C131.0 389.3 126.5 389.4 122.6 388.9C118.7 388.3 113.5 387.7 110.8 387.5C108.1 387.4 108.4 387.0 106.3 388.0C104.2 388.9 100.4 391.8 98.1 393.4C95.9 395.0 94.5 396.4 92.7 397.5C91.0 398.5 88.6 399.3 87.7 399.7M146.6 397.0C148.0 396.0 151.6 392.0 154.9 390.7C158.3 389.3 162.8 389.4 166.7 388.9C170.6 388.3 175.8 387.7 178.5 387.5C181.2 387.4 180.9 387.0 183.0 388.0C185.1 388.9 189.8 392.5 191.2 393.4M72.8 388.4C74.1 389.3 78.6 392.3 80.9 393.8C83.2 395.4 84.6 396.9 86.3 397.9C88.1 399.0 90.5 399.8 91.3 400.2M106.3 388.4C104.9 389.3 100.4 392.3 98.1 393.8C95.9 395.4 94.5 396.9 92.7 397.9C91.0 399.0 88.6 399.8 87.7 400.2M183.0 388.4C184.4 389.3 189.8 392.9 191.2 393.8M36.4 398.4C38.2 398.5 43.3 399.7 47.4 399.3C51.5 398.8 56.8 396.4 61.0 395.6C65.2 394.9 69.3 394.9 72.8 394.7C76.2 394.6 78.7 394.7 81.8 394.7C84.9 394.7 89.7 394.7 91.3 394.7M142.7 398.4C140.8 398.5 135.7 399.7 131.6 399.3C127.5 398.8 122.3 396.4 118.1 395.6C113.8 394.9 109.8 394.9 106.3 394.7C102.8 394.6 100.3 394.7 97.2 394.7C94.1 394.7 89.3 394.7 87.7 394.7M146.6 398.4C148.5 398.5 153.6 399.7 157.7 399.3C161.8 398.8 167.0 396.4 171.2 395.6C175.5 394.9 179.5 394.9 183.0 394.7C186.5 394.6 190.5 394.7 192.1 394.7M36.4 404.2C38.2 403.9 43.3 402.4 47.4 402.4C51.5 402.4 56.8 404.2 61.0 404.2C65.2 404.2 69.3 402.7 72.8 402.4C76.2 402.2 78.7 402.7 81.8 402.9C84.9 403.0 89.7 403.3 91.3 403.3M142.7 404.2C140.8 403.9 135.7 402.4 131.6 402.4C127.5 402.4 122.3 404.2 118.1 404.2C113.8 404.2 109.8 402.7 106.3 402.4C102.8 402.2 100.3 402.7 97.2 402.9C94.1 403.0 89.3 403.3 87.7 403.3M146.6 404.2C148.5 403.9 153.6 402.4 157.7 402.4C161.8 402.4 167.0 404.2 171.2 404.2C175.5 404.2 179.5 402.7 183.0 402.4C186.5 402.2 190.5 402.8 192.1 402.9M36.4 406.1C39.0 405.9 47.1 405.4 51.9 405.2C56.8 404.9 62.0 404.9 65.5 404.7C69.0 404.6 68.5 404.1 72.8 404.2C77.1 404.4 88.2 405.4 91.3 405.6M142.7 406.1C140.1 405.9 132.0 405.4 127.1 405.2C122.3 404.9 117.0 404.9 113.5 404.7C110.1 404.6 110.6 404.1 106.3 404.2C102.0 404.4 90.8 405.4 87.7 405.6M146.6 406.1C149.2 405.9 157.3 405.4 162.2 405.2C167.0 404.9 172.3 404.9 175.8 404.7C179.2 404.6 181.8 404.3 183.0 404.2M36.4 402.4C37.2 402.9 39.5 404.0 41.1 405.2C42.6 406.3 44.8 408.5 45.6 409.2M142.7 402.4C141.9 402.9 139.5 404.0 138.0 405.2C136.4 406.3 134.2 408.5 133.4 409.2M146.6 402.4C147.4 402.9 149.8 404.0 151.3 405.2C152.9 406.3 155.1 408.5 155.9 409.2M59.2 409.2C61.4 409.2 67.4 408.8 72.8 408.8C78.1 408.7 88.2 408.9 91.3 409.0M119.9 409.2C117.6 409.2 111.6 408.8 106.3 408.8C100.9 408.7 90.8 408.9 87.7 409.0M169.4 409.2C171.7 409.2 180.7 408.8 183.0 408.8M36.4 407.9C37.2 407.7 39.5 406.8 41.1 407.0C42.6 407.1 44.8 408.6 45.6 409.0M142.7 407.9C141.9 407.7 139.5 406.8 138.0 407.0C136.4 407.1 134.2 408.6 133.4 409.0M146.6 407.9C147.4 407.7 149.8 406.8 151.3 407.0C152.9 407.1 155.1 408.6 155.9 409.0" stroke="#3b7fc4" stroke-width="0.95"/>
<path d="M34.5 264.1C35.3 263.5 37.4 261.6 39.2 260.7C41.1 259.8 43.8 258.7 45.6 258.6C47.4 258.5 48.4 259.0 50.1 260.0C51.8 261.0 53.6 262.6 55.5 264.6C57.5 266.6 60.1 269.9 61.9 271.8C63.7 273.8 64.9 275.2 66.4 276.3C67.9 277.4 69.4 278.3 70.9 278.4C72.4 278.4 73.8 277.9 75.4 276.8C77.1 275.7 79.1 273.5 80.9 271.8C82.7 270.2 84.9 268.0 86.3 267.0C87.7 266.0 88.9 266.1 89.5 265.9M144.5 264.1C143.7 263.5 141.6 261.6 139.8 260.7C138.0 259.8 135.3 258.7 133.5 258.6C131.7 258.5 130.6 259.0 128.9 260.0C127.3 261.0 125.5 262.6 123.5 264.6C121.6 266.6 119.0 269.9 117.2 271.8C115.4 273.8 114.2 275.2 112.7 276.3C111.1 277.4 109.6 278.3 108.1 278.4C106.6 278.4 105.3 277.9 103.6 276.8C101.9 275.7 100.0 273.5 98.2 271.8C96.4 270.2 94.2 268.0 92.7 267.0C91.3 266.0 90.1 266.1 89.6 265.9M144.8 264.1C145.6 263.5 147.7 261.6 149.5 260.7C151.3 259.8 154.0 258.7 155.8 258.6C157.6 258.5 158.7 259.0 160.4 260.0C162.0 261.0 163.8 262.6 165.8 264.6C167.7 266.6 170.3 269.9 172.1 271.8C173.9 273.8 175.1 275.2 176.6 276.3C178.2 277.4 179.7 278.3 181.2 278.4C182.7 278.4 184.0 277.9 185.7 276.8C187.4 275.7 190.2 272.7 191.1 271.8M34.5 265.2C35.3 264.6 37.4 262.6 39.2 261.6C41.1 260.6 43.8 259.3 45.6 259.2C47.4 259.0 48.4 259.5 50.1 260.5C51.8 261.5 53.6 263.1 55.5 265.0C57.5 267.0 60.1 270.3 61.9 272.2C63.7 274.1 64.9 275.5 66.4 276.6C67.9 277.7 69.4 278.7 70.9 278.8C72.4 278.9 73.8 278.4 75.4 277.3C77.1 276.2 79.1 273.8 80.9 272.2C82.7 270.6 84.9 268.5 86.3 267.5C87.7 266.5 88.9 266.6 89.5 266.4M144.5 265.2C143.7 264.6 141.6 262.6 139.8 261.6C138.0 260.6 135.3 259.3 133.5 259.2C131.7 259.0 130.6 259.5 128.9 260.5C127.3 261.5 125.5 263.1 123.5 265.0C121.6 267.0 119.0 270.3 117.2 272.2C115.4 274.1 114.2 275.5 112.7 276.6C111.1 277.7 109.6 278.7 108.1 278.8C106.6 278.9 105.3 278.4 103.6 277.3C101.9 276.2 100.0 273.8 98.2 272.2C96.4 270.6 94.2 268.5 92.7 267.5C91.3 266.5 90.1 266.6 89.6 266.4M144.8 265.2C145.6 264.6 147.7 262.6 149.5 261.6C151.3 260.6 154.0 259.3 155.8 259.2C157.6 259.0 158.7 259.5 160.4 260.5C162.0 261.5 163.8 263.1 165.8 265.0C167.7 267.0 170.3 270.3 172.1 272.2C173.9 274.1 175.1 275.5 176.6 276.6C178.2 277.7 179.7 278.7 181.2 278.8C182.7 278.9 184.0 278.4 185.7 277.3C187.4 276.2 190.2 273.0 191.1 272.2M34.5 266.6C35.3 265.9 37.4 263.7 39.2 262.5C41.1 261.4 43.8 259.9 45.6 259.6C47.4 259.3 48.4 259.8 50.1 260.8C51.8 261.7 54.6 264.6 55.5 265.3M144.5 266.6C143.7 265.9 141.6 263.7 139.8 262.5C138.0 261.4 135.3 259.9 133.5 259.6C131.7 259.3 130.6 259.8 128.9 260.8C127.3 261.7 124.4 264.6 123.5 265.3M144.8 266.6C145.6 265.9 147.7 263.7 149.5 262.5C151.3 261.4 154.0 259.9 155.8 259.6C157.6 259.3 158.7 259.8 160.4 260.8C162.0 261.7 164.9 264.6 165.8 265.3M54.6 253.0C55.4 253.7 57.5 255.8 59.2 257.4C60.8 258.9 62.6 261.1 64.6 262.2C66.5 263.4 69.0 264.1 70.9 264.3C72.9 264.6 74.5 264.4 76.4 263.9C78.2 263.3 80.1 261.8 81.8 261.2C83.4 260.5 85.0 260.1 86.3 259.8C87.6 259.5 88.9 259.6 89.5 259.5M124.4 253.0C123.7 253.7 121.6 255.8 119.9 257.4C118.2 258.9 116.4 261.1 114.5 262.2C112.5 263.4 110.1 264.1 108.1 264.3C106.2 264.6 104.5 264.4 102.7 263.9C100.9 263.3 98.9 261.8 97.3 261.2C95.6 260.5 94.0 260.1 92.7 259.8C91.5 259.5 90.1 259.6 89.6 259.5M164.9 253.0C165.6 253.7 167.7 255.8 169.4 257.4C171.1 258.9 172.9 261.1 174.8 262.2C176.8 263.4 179.2 264.1 181.2 264.3C183.1 264.6 184.8 264.4 186.6 263.9C188.4 263.3 191.1 261.6 192.0 261.2M55.1 253.0C55.8 253.8 57.9 256.1 59.6 257.7C61.3 259.3 63.2 261.6 65.0 262.8C66.9 264.0 69.0 264.7 70.9 265.0C72.8 265.3 74.5 265.1 76.4 264.6C78.2 264.1 80.1 262.5 81.8 261.8C83.4 261.1 85.0 260.5 86.3 260.3C87.6 260.0 88.9 260.1 89.5 260.1M124.0 253.0C123.2 253.8 121.1 256.1 119.4 257.7C117.8 259.3 115.9 261.6 114.0 262.8C112.1 264.0 110.0 264.7 108.1 265.0C106.2 265.3 104.5 265.1 102.7 264.6C100.9 264.1 98.9 262.5 97.3 261.8C95.6 261.1 94.0 260.5 92.7 260.3C91.5 260.0 90.1 260.1 89.6 260.1M165.3 253.0C166.1 253.8 168.2 256.1 169.9 257.7C171.5 259.3 173.4 261.6 175.3 262.8C177.2 264.0 179.3 264.7 181.2 265.0C183.1 265.3 184.8 265.1 186.6 264.6C188.4 264.1 191.1 262.3 192.0 261.8M55.5 253.0C56.3 253.9 58.4 256.4 60.1 258.1C61.7 259.8 63.7 262.0 65.5 263.3C67.3 264.6 69.1 265.5 70.9 265.9C72.7 266.2 74.5 265.8 76.4 265.2C78.2 264.6 80.1 263.0 81.8 262.2C83.4 261.5 85.0 260.9 86.3 260.6C87.6 260.3 88.9 260.5 89.5 260.5M123.5 253.0C122.8 253.9 120.7 256.4 119.0 258.1C117.3 259.8 115.4 262.0 113.6 263.3C111.8 264.6 109.9 265.5 108.1 265.9C106.3 266.2 104.5 265.8 102.7 265.2C100.9 264.6 98.9 263.0 97.3 262.2C95.6 261.5 94.0 260.9 92.7 260.6C91.5 260.3 90.1 260.5 89.6 260.5M165.8 253.0C166.5 253.9 168.6 256.4 170.3 258.1C172.0 259.8 173.9 262.0 175.7 263.3C177.5 264.6 179.4 265.5 181.2 265.9C183.0 266.2 184.8 265.8 186.6 265.2C188.4 264.6 191.1 262.7 192.0 262.2M34.5 361.1C35.6 361.1 38.5 360.9 41.1 360.7C43.6 360.5 47.2 360.2 50.1 359.8C53.0 359.4 55.8 359.0 58.2 358.4C60.7 357.8 62.5 356.8 64.6 356.3C66.7 355.8 68.8 355.4 70.9 355.4C73.0 355.4 75.1 355.9 77.3 356.3C79.4 356.8 81.6 357.5 83.6 358.0C85.6 358.4 88.5 358.7 89.5 358.9M144.5 361.1C143.4 361.1 140.6 360.9 138.0 360.7C135.4 360.5 131.8 360.2 128.9 359.8C126.1 359.4 123.2 359.0 120.8 358.4C118.4 357.8 116.6 356.8 114.5 356.3C112.4 355.8 110.2 355.4 108.1 355.4C106.0 355.4 103.9 355.9 101.8 356.3C99.7 356.8 97.5 357.5 95.5 358.0C93.4 358.4 90.6 358.7 89.6 358.9M144.8 361.1C145.9 361.1 148.7 360.9 151.3 360.7C153.9 360.5 157.5 360.2 160.4 359.8C163.2 359.4 166.1 359.0 168.5 358.4C170.9 357.8 172.7 356.8 174.8 356.3C176.9 355.8 179.1 355.4 181.2 355.4C183.3 355.4 186.4 356.2 187.5 356.3M34.5 361.8C35.6 361.8 38.5 361.9 41.1 361.8C43.6 361.6 47.2 361.2 50.1 360.7C53.0 360.2 55.8 359.6 58.2 358.9C60.7 358.2 62.5 357.2 64.6 356.6C66.7 356.1 68.8 355.6 70.9 355.6C73.0 355.6 75.1 356.2 77.3 356.6C79.4 357.0 81.6 357.7 83.6 358.1C85.6 358.6 88.5 358.9 89.5 359.1M144.5 361.8C143.4 361.8 140.6 361.9 138.0 361.8C135.4 361.6 131.8 361.2 128.9 360.7C126.1 360.2 123.2 359.6 120.8 358.9C118.4 358.2 116.6 357.2 114.5 356.6C112.4 356.1 110.2 355.6 108.1 355.6C106.0 355.6 103.9 356.2 101.8 356.6C99.7 357.0 97.5 357.7 95.5 358.1C93.4 358.6 90.6 358.9 89.6 359.1M144.8 361.8C145.9 361.8 148.7 361.9 151.3 361.8C153.9 361.6 157.5 361.2 160.4 360.7C163.2 360.2 166.1 359.6 168.5 358.9C170.9 358.2 172.7 357.2 174.8 356.6C176.9 356.1 179.1 355.6 181.2 355.6C183.3 355.6 186.4 356.4 187.5 356.6M34.5 362.3C35.6 362.4 38.5 362.8 41.1 362.7C43.6 362.6 47.2 362.1 50.1 361.6C53.0 361.1 55.8 360.4 58.2 359.6C60.7 358.8 63.5 357.3 64.6 356.9M144.5 362.3C143.4 362.4 140.6 362.8 138.0 362.7C135.4 362.6 131.8 362.1 128.9 361.6C126.1 361.1 123.2 360.4 120.8 359.6C118.4 358.8 115.5 357.3 114.5 356.9M144.8 362.3C145.9 362.4 148.7 362.8 151.3 362.7C153.9 362.6 157.5 362.1 160.4 361.6C163.2 361.1 166.1 360.4 168.5 359.6C170.9 358.8 173.8 357.3 174.8 356.9M34.5 363.8C35.6 364.5 38.6 366.3 41.1 367.5C43.5 368.7 46.8 371.0 49.2 371.1C51.6 371.2 53.4 368.9 55.5 367.9C57.6 366.9 59.3 365.4 61.9 365.0C64.4 364.6 67.9 366.1 70.9 365.7C73.9 365.2 76.9 363.4 80.0 362.5C83.1 361.6 87.9 360.8 89.5 360.5M144.5 363.8C143.4 364.5 140.4 366.3 138.0 367.5C135.6 368.7 132.3 371.0 129.9 371.1C127.4 371.2 125.6 368.9 123.5 367.9C121.4 366.9 119.7 365.4 117.2 365.0C114.6 364.6 111.1 366.1 108.1 365.7C105.1 365.2 102.2 363.4 99.1 362.5C96.0 361.6 91.2 360.8 89.6 360.5M144.8 363.8C145.9 364.5 148.9 366.3 151.3 367.5C153.7 368.7 157.0 371.0 159.4 371.1C161.9 371.2 163.7 368.9 165.8 367.9C167.9 366.9 169.6 365.4 172.1 365.0C174.7 364.6 178.2 366.1 181.2 365.7C184.2 365.2 188.7 363.0 190.2 362.5M34.5 364.3C35.6 365.0 38.6 367.1 41.1 368.4C43.5 369.7 46.8 371.9 49.2 372.0C51.6 372.1 53.4 369.9 55.5 368.8C57.6 367.8 60.1 365.9 61.9 365.7C63.7 365.4 64.9 366.8 66.4 367.5C67.9 368.1 68.8 369.9 70.9 369.7C73.0 369.6 76.0 367.3 79.1 366.6C82.2 365.8 87.7 365.4 89.5 365.2M144.5 364.3C143.4 365.0 140.4 367.1 138.0 368.4C135.6 369.7 132.3 371.9 129.9 372.0C127.4 372.1 125.6 369.9 123.5 368.8C121.4 367.8 119.0 365.9 117.2 365.7C115.4 365.4 114.2 366.8 112.7 367.5C111.1 368.1 110.2 369.9 108.1 369.7C106.0 369.6 103.1 367.3 100.0 366.6C96.9 365.8 91.3 365.4 89.6 365.2M144.8 364.3C145.9 365.0 148.9 367.1 151.3 368.4C153.7 369.7 157.0 371.9 159.4 372.0C161.9 372.1 163.7 369.9 165.8 368.8C167.9 367.8 170.3 365.9 172.1 365.7C173.9 365.4 175.1 366.8 176.6 367.5C178.2 368.1 179.1 369.9 181.2 369.7C183.3 369.6 188.0 367.1 189.3 366.6M34.5 364.8C35.6 365.5 38.6 367.7 41.1 369.0C43.5 370.3 46.8 372.6 49.2 372.7C51.6 372.8 53.4 370.6 55.5 369.6C57.6 368.5 60.1 366.6 61.9 366.3C63.7 366.0 64.9 367.3 66.4 367.9C67.9 368.6 68.8 370.3 70.9 370.2C73.0 370.0 76.0 367.8 79.1 367.0C82.2 366.2 87.7 365.8 89.5 365.6M144.5 364.8C143.4 365.5 140.4 367.7 138.0 369.0C135.6 370.3 132.3 372.6 129.9 372.7C127.4 372.8 125.6 370.6 123.5 369.6C121.4 368.5 119.0 366.6 117.2 366.3C115.4 366.0 114.2 367.3 112.7 367.9C111.1 368.6 110.2 370.3 108.1 370.2C106.0 370.0 103.1 367.8 100.0 367.0C96.9 366.2 91.3 365.8 89.6 365.6M144.8 364.8C145.9 365.5 148.9 367.7 151.3 369.0C153.7 370.3 157.0 372.6 159.4 372.7C161.9 372.8 163.7 370.6 165.8 369.6C167.9 368.5 170.3 366.6 172.1 366.3C173.9 366.0 175.1 367.3 176.6 367.9C178.2 368.6 179.1 370.3 181.2 370.2C183.3 370.0 188.0 367.5 189.3 367.0M34.5 381.0C36.4 381.1 42.2 382.0 45.6 381.9C48.9 381.8 51.9 381.2 54.6 380.5C57.3 379.9 59.2 379.3 61.9 378.0C64.6 376.7 68.4 373.1 70.9 372.9C73.5 372.8 75.3 375.9 77.3 376.9C79.2 377.9 80.6 378.5 82.7 378.9C84.7 379.4 88.3 379.5 89.5 379.6M144.5 381.0C142.7 381.1 136.8 382.0 133.5 381.9C130.1 381.8 127.1 381.2 124.4 380.5C121.7 379.9 119.9 379.3 117.2 378.0C114.5 376.7 110.7 373.1 108.1 372.9C105.6 372.8 103.8 375.9 101.8 376.9C99.8 377.9 98.4 378.5 96.4 378.9C94.3 379.4 90.7 379.5 89.6 379.6M144.8 381.0C146.6 381.1 152.5 382.0 155.8 381.9C159.2 381.8 162.2 381.2 164.9 380.5C167.6 379.9 169.4 379.3 172.1 378.0C174.8 376.7 178.6 373.1 181.2 372.9C183.7 372.8 186.4 376.3 187.5 376.9M34.5 381.4C36.4 381.6 42.2 382.4 45.6 382.3C48.9 382.3 51.9 381.7 54.6 381.1C57.3 380.4 59.2 379.8 61.9 378.5C64.6 377.3 68.4 373.7 70.9 373.5C73.5 373.3 75.3 376.5 77.3 377.5C79.2 378.5 80.6 379.0 82.7 379.4C84.7 379.9 88.3 380.1 89.5 380.2M144.5 381.4C142.7 381.6 136.8 382.4 133.5 382.3C130.1 382.3 127.1 381.7 124.4 381.1C121.7 380.4 119.9 379.8 117.2 378.5C114.5 377.3 110.7 373.7 108.1 373.5C105.6 373.3 103.8 376.5 101.8 377.5C99.8 378.5 98.4 379.0 96.4 379.4C94.3 379.9 90.7 380.1 89.6 380.2M144.8 381.4C146.6 381.6 152.5 382.4 155.8 382.3C159.2 382.3 162.2 381.7 164.9 381.1C167.6 380.4 169.4 379.8 172.1 378.5C174.8 377.3 178.6 373.7 181.2 373.5C183.7 373.3 186.4 376.8 187.5 377.5M34.5 381.0C34.8 381.1 35.3 381.1 36.2 381.8C37.0 382.5 38.5 383.9 39.4 385.0C40.4 386.0 41.1 387.3 41.8 388.2C42.4 389.2 42.9 389.5 43.4 390.6C43.9 391.6 44.5 393.4 45.0 394.6C45.6 395.8 45.9 396.9 46.6 397.8C47.2 398.8 47.8 399.5 49.0 400.2C50.2 400.8 52.2 401.3 53.8 401.8C55.4 402.3 57.1 402.7 58.6 403.0C60.1 403.3 60.9 403.4 63.0 403.4C65.0 403.4 68.1 403.1 70.9 403.0C73.8 402.9 76.9 403.0 80.0 403.0C83.1 403.0 87.9 403.1 89.5 403.2M144.5 381.0C144.2 381.1 143.7 381.1 142.9 381.8C142.1 382.5 140.6 383.9 139.6 385.0C138.7 386.0 137.9 387.3 137.3 388.2C136.6 389.2 136.2 389.5 135.6 390.6C135.1 391.6 134.5 393.4 134.0 394.6C133.5 395.8 133.1 396.9 132.5 397.8C131.8 398.8 131.2 399.5 130.0 400.2C128.8 400.8 126.8 401.3 125.2 401.8C123.6 402.3 122.0 402.7 120.4 403.0C118.9 403.3 118.1 403.4 116.1 403.4C114.0 403.4 111.0 403.1 108.1 403.0C105.3 402.9 102.2 403.0 99.1 403.0C96.0 403.0 91.2 403.1 89.6 403.2M144.8 381.0C145.1 381.1 145.6 381.1 146.4 381.8C147.2 382.5 148.7 383.9 149.7 385.0C150.6 386.0 151.4 387.3 152.0 388.2C152.7 389.2 153.1 389.5 153.7 390.6C154.2 391.6 154.8 393.4 155.3 394.6C155.8 395.8 156.2 396.9 156.8 397.8C157.5 398.8 158.1 399.5 159.3 400.2C160.5 400.8 162.5 401.3 164.1 401.8C165.7 402.3 167.3 402.7 168.9 403.0C170.4 403.3 171.2 403.4 173.2 403.4C175.3 403.4 178.3 403.1 181.2 403.0C184.0 402.9 188.7 403.0 190.2 403.0M34.5 395.5C35.6 394.8 38.9 392.7 41.1 391.4C43.2 390.1 45.1 388.8 47.4 387.8C49.6 386.7 52.2 386.0 54.6 385.1C57.0 384.1 59.2 383.1 61.9 381.9C64.6 380.7 67.9 378.0 70.9 377.8C73.9 377.7 76.9 380.3 80.0 381.0C83.1 381.7 87.9 382.0 89.5 382.2M144.5 395.5C143.4 394.8 140.1 392.7 138.0 391.4C135.9 390.1 133.9 388.8 131.7 387.8C129.4 386.7 126.8 386.0 124.4 385.1C122.0 384.1 119.9 383.1 117.2 381.9C114.5 380.7 111.1 378.0 108.1 377.8C105.1 377.7 102.2 380.3 99.1 381.0C96.0 381.7 91.2 382.0 89.6 382.2M144.8 395.5C145.9 394.8 149.2 392.7 151.3 391.4C153.4 390.1 155.4 388.8 157.6 387.8C159.9 386.7 162.5 386.0 164.9 385.1C167.3 384.1 169.4 383.1 172.1 381.9C174.8 380.7 178.2 378.0 181.2 377.8C184.2 377.7 188.7 380.5 190.2 381.0M34.5 397.3C35.9 396.7 40.3 394.6 42.9 393.7C45.5 392.7 47.4 392.5 50.1 391.4C52.8 390.3 56.4 388.2 59.2 386.9C61.9 385.5 64.4 384.0 66.4 383.3C68.4 382.5 68.7 382.0 70.9 382.3C73.2 382.6 76.9 384.2 80.0 385.1C83.1 386.0 87.9 387.3 89.5 387.8M144.5 397.3C143.1 396.7 138.8 394.6 136.2 393.7C133.6 392.7 131.7 392.5 128.9 391.4C126.2 390.3 122.6 388.2 119.9 386.9C117.2 385.5 114.6 384.0 112.7 383.3C110.7 382.5 110.4 382.0 108.1 382.3C105.9 382.6 102.2 384.2 99.1 385.1C96.0 386.0 91.2 387.3 89.6 387.8M144.8 397.3C146.2 396.7 150.5 394.6 153.1 393.7C155.7 392.7 157.6 392.5 160.4 391.4C163.1 390.3 166.7 388.2 169.4 386.9C172.1 385.5 174.7 384.0 176.6 383.3C178.6 382.5 178.9 382.0 181.2 382.3C183.4 382.6 188.7 384.6 190.2 385.1M34.5 395.9C35.9 394.9 39.5 390.9 42.9 389.6C46.2 388.2 50.7 388.3 54.6 387.8C58.5 387.2 63.7 386.6 66.4 386.4C69.1 386.3 68.8 385.9 70.9 386.9C73.0 387.9 76.8 390.7 79.1 392.3C81.3 393.9 82.8 395.3 84.5 396.4C86.2 397.4 88.6 398.3 89.5 398.6M144.5 395.9C143.1 394.9 139.5 390.9 136.2 389.6C132.8 388.2 128.3 388.3 124.4 387.8C120.5 387.2 115.4 386.6 112.7 386.4C109.9 386.3 110.2 385.9 108.1 386.9C106.0 387.9 102.2 390.7 100.0 392.3C97.7 393.9 96.3 395.3 94.6 396.4C92.8 397.4 90.4 398.3 89.6 398.6M144.8 395.9C146.2 394.9 149.8 390.9 153.1 389.6C156.5 388.2 161.0 388.3 164.9 387.8C168.8 387.2 173.9 386.6 176.6 386.4C179.4 386.3 179.1 385.9 181.2 386.9C183.3 387.9 188.0 391.4 189.3 392.3M70.9 387.3C72.3 388.2 76.8 391.2 79.1 392.8C81.3 394.3 82.8 395.8 84.5 396.8C86.2 397.9 88.6 398.7 89.5 399.1M108.1 387.3C106.8 388.2 102.2 391.2 100.0 392.8C97.7 394.3 96.3 395.8 94.6 396.8C92.8 397.9 90.4 398.7 89.6 399.1M181.2 387.3C182.5 388.2 188.0 391.8 189.3 392.8M34.5 397.3C36.4 397.4 41.5 398.6 45.6 398.2C49.7 397.7 54.9 395.3 59.2 394.6C63.4 393.8 67.5 393.8 70.9 393.7C74.4 393.5 76.9 393.7 80.0 393.7C83.1 393.7 87.9 393.7 89.5 393.7M144.5 397.3C142.7 397.4 137.6 398.6 133.5 398.2C129.4 397.7 124.1 395.3 119.9 394.6C115.7 393.8 111.6 393.8 108.1 393.7C104.7 393.5 102.2 393.7 99.1 393.7C96.0 393.7 91.2 393.7 89.6 393.7M144.8 397.3C146.6 397.4 151.7 398.6 155.8 398.2C159.9 397.7 165.2 395.3 169.4 394.6C173.6 393.8 177.7 393.8 181.2 393.7C184.6 393.5 188.7 393.7 190.2 393.7M34.5 403.2C36.4 402.9 41.5 401.4 45.6 401.4C49.7 401.4 54.9 403.2 59.2 403.2C63.4 403.2 67.5 401.6 70.9 401.4C74.4 401.1 76.9 401.7 80.0 401.8C83.1 402.0 87.9 402.2 89.5 402.3M144.5 403.2C142.7 402.9 137.6 401.4 133.5 401.4C129.4 401.4 124.1 403.2 119.9 403.2C115.7 403.2 111.6 401.6 108.1 401.4C104.7 401.1 102.2 401.7 99.1 401.8C96.0 402.0 91.2 402.2 89.6 402.3M144.8 403.2C146.6 402.9 151.7 401.4 155.8 401.4C159.9 401.4 165.2 403.2 169.4 403.2C173.6 403.2 177.7 401.6 181.2 401.4C184.6 401.1 188.7 401.7 190.2 401.8M34.5 405.0C37.1 404.8 45.2 404.3 50.1 404.1C55.0 403.8 60.2 403.8 63.7 403.6C67.1 403.5 66.6 403.0 70.9 403.2C75.2 403.3 86.4 404.3 89.5 404.5M144.5 405.0C141.9 404.8 133.8 404.3 128.9 404.1C124.1 403.8 118.8 403.8 115.4 403.6C111.9 403.5 112.4 403.0 108.1 403.2C103.8 403.3 92.7 404.3 89.6 404.5M144.8 405.0C147.4 404.8 155.5 404.3 160.4 404.1C165.2 403.8 170.5 403.8 173.9 403.6C177.4 403.5 180.0 403.2 181.2 403.2M34.5 401.4C35.3 401.8 37.7 402.9 39.2 404.1C40.8 405.2 43.0 407.5 43.8 408.1M144.5 401.4C143.7 401.8 141.3 402.9 139.8 404.1C138.3 405.2 136.0 407.5 135.3 408.1M144.8 401.4C145.6 401.8 148.0 402.9 149.5 404.1C151.0 405.2 153.3 407.5 154.0 408.1M57.3 408.1C59.6 408.1 65.6 407.7 70.9 407.7C76.3 407.6 86.4 407.8 89.5 407.9M121.7 408.1C119.4 408.1 113.5 407.7 108.1 407.7C102.8 407.6 92.7 407.8 89.6 407.9M167.6 408.1C169.9 408.1 178.9 407.8 181.2 407.7M34.5 406.8C35.3 406.6 37.7 405.7 39.2 405.9C40.8 406.1 43.0 407.5 43.8 407.9M144.5 406.8C143.7 406.6 141.3 405.7 139.8 405.9C138.3 406.1 136.0 407.5 135.3 407.9M144.8 406.8C145.6 406.6 148.0 405.7 149.5 405.9C151.0 406.1 153.3 407.5 154.0 407.9" stroke="#b82431" stroke-width="1.0"/>
</g>
<rect x="34.40" y="253.50" width="147.00" height="155.40" fill="none" stroke="#262626" stroke-width="1.05"/>
<line x1="32.30" x2="34.40" y1="269.04" y2="269.04" stroke="#262626" stroke-width="0.8"/>
<line x1="32.30" x2="34.40" y1="300.12" y2="300.12" stroke="#262626" stroke-width="0.8"/>
<line x1="32.30" x2="34.40" y1="331.20" y2="331.20" stroke="#262626" stroke-width="0.8"/>
<line x1="32.30" x2="34.40" y1="362.28" y2="362.28" stroke="#262626" stroke-width="0.8"/>
<line x1="32.30" x2="34.40" y1="393.36" y2="393.36" stroke="#262626" stroke-width="0.8"/>
<line x1="30.70" x2="34.40" y1="253.50" y2="253.50" stroke="#262626" stroke-width="1.05"/>
<text x="26.5" y="258.00" font-size="10.8" text-anchor="end">3</text>
<line x1="30.70" x2="34.40" y1="284.58" y2="284.58" stroke="#262626" stroke-width="1.05"/>
<text x="26.5" y="289.08" font-size="10.8" text-anchor="end">2</text>
<line x1="30.70" x2="34.40" y1="315.66" y2="315.66" stroke="#262626" stroke-width="1.05"/>
<text x="26.5" y="320.16" font-size="10.8" text-anchor="end">1</text>
<line x1="30.70" x2="34.40" y1="346.74" y2="346.74" stroke="#262626" stroke-width="1.05"/>
<text x="26.5" y="351.24" font-size="10.8" text-anchor="end">0</text>
<line x1="30.70" x2="34.40" y1="377.82" y2="377.82" stroke="#262626" stroke-width="1.05"/>
<text x="26.5" y="382.32" font-size="10.8" text-anchor="end">-1</text>
<line x1="30.70" x2="34.40" y1="408.90" y2="408.90" stroke="#262626" stroke-width="1.05"/>
<text x="26.5" y="413.40" font-size="10.8" text-anchor="end">-2</text>
<line x1="34.40" x2="34.40" y1="408.90" y2="412.80" stroke="#262626" stroke-width="1.05"/>
<line x1="71.15" x2="71.15" y1="408.90" y2="412.80" stroke="#262626" stroke-width="1.05"/>
<line x1="107.90" x2="107.90" y1="408.90" y2="412.80" stroke="#262626" stroke-width="1.05"/>
<line x1="144.65" x2="144.65" y1="408.90" y2="412.80" stroke="#262626" stroke-width="1.05"/>
<line x1="181.40" x2="181.40" y1="408.90" y2="412.80" stroke="#262626" stroke-width="1.05"/>
<text x="34.70" y="424.30" font-size="10.1" text-anchor="middle">Γ</text>
<text x="71.15" y="424.30" font-size="10.1" text-anchor="middle">K</text>
<text x="108.20" y="424.30" font-size="10.1" text-anchor="middle" font-style="italic">K′</text>
<text x="144.95" y="424.30" font-size="10.1" text-anchor="middle">Γ</text>
<text x="182.90" y="424.30" font-size="10.1" text-anchor="middle" font-style="italic">K″</text>
<text x="180.60" y="246.70" font-size="10.4" text-anchor="end" textLength="58" lengthAdjust="spacingAndGlyphs">AA+(0,1/3)</text>
<text x="34.65" y="246.70" font-size="10.4" textLength="13.8" lengthAdjust="spacingAndGlyphs">(a)</text>
<path d="M59.10 246.50V240.70" stroke="#333" stroke-width="1"/><path d="M57.00 241.40L59.10 239.50L61.20 241.40Z" fill="#222"/>
<path d="M72.20 239.50V245.30" stroke="#333" stroke-width="1"/><path d="M70.10 244.60L72.20 246.50L74.30 244.60Z" fill="#222"/>
<line x1="79.20" y1="247.40" x2="82.00" y2="239.40" stroke="#262626" stroke-width="0.95"/>
<path d="M88.80 239.50V245.30" stroke="#333" stroke-width="1"/><path d="M86.70 244.60L88.80 246.50L90.90 244.60Z" fill="#222"/>
<path d="M101.90 246.50V240.70" stroke="#333" stroke-width="1"/><path d="M99.80 241.40L101.90 239.50L104.00 241.40Z" fill="#222"/>
<rect x="199.60" y="346.00" width="147.00" height="62.90" fill="#f1f1f1"/>
<line x1="236.35" y1="252.40" x2="236.35" y2="408.90" stroke="#a2a2a2" stroke-width="1"/>
<line x1="273.10" y1="252.40" x2="273.10" y2="408.90" stroke="#a2a2a2" stroke-width="1"/>
<line x1="309.85" y1="252.40" x2="309.85" y2="408.90" stroke="#a2a2a2" stroke-width="1"/>
<clipPath id="c11"><rect x="199.60" y="252.40" width="147.00" height="156.50"/></clipPath>
<g clip-path="url(#c11)" fill="none" stroke-linejoin="round" stroke-linecap="round">
<path d="M199.6 264.6C200.4 264.0 202.4 261.7 204.2 260.6C206.1 259.5 208.8 258.2 210.6 258.0C212.4 257.8 213.4 258.4 215.1 259.5C216.8 260.6 218.6 262.6 220.5 264.6C222.5 266.7 225.1 270.0 226.9 271.9C228.7 273.8 229.8 275.0 231.4 275.9C233.0 276.9 234.7 277.7 236.4 277.8C238.0 277.8 239.8 277.1 241.4 276.1C242.9 275.1 244.4 273.4 245.9 271.9C247.4 270.3 248.9 268.0 250.4 266.9C251.9 265.8 253.9 265.4 254.7 265.1M309.8 264.6C309.1 264.0 307.0 261.7 305.2 260.6C303.4 259.5 300.7 258.2 298.9 258.0C297.1 257.8 296.0 258.4 294.3 259.5C292.7 260.6 290.9 262.6 288.9 264.6C287.0 266.7 284.4 270.0 282.6 271.9C280.8 273.8 279.6 275.0 278.1 275.9C276.5 276.9 274.7 277.7 273.1 277.8C271.4 277.8 269.7 277.1 268.1 276.1C266.5 275.1 265.1 273.4 263.6 271.9C262.1 270.3 260.5 268.0 259.0 266.9C257.6 265.8 255.5 265.4 254.8 265.1M309.9 264.6C310.6 264.0 312.7 261.7 314.5 260.6C316.3 259.5 319.0 258.2 320.8 258.0C322.6 257.8 323.7 258.4 325.4 259.5C327.0 260.6 328.8 262.6 330.8 264.6C332.7 266.7 335.3 270.0 337.1 271.9C338.9 273.8 340.1 275.0 341.6 275.9C343.2 276.9 345.0 277.7 346.6 277.8C348.3 277.8 350.0 277.1 351.6 276.1C353.2 275.1 355.4 272.6 356.1 271.9M199.6 265.1C200.4 264.4 202.4 262.2 204.2 261.1C206.1 260.0 208.8 258.7 210.6 258.5C212.4 258.3 213.4 258.8 215.1 259.9C216.8 261.1 218.6 263.2 220.5 265.3C222.5 267.4 225.1 270.6 226.9 272.5C228.7 274.4 229.8 275.6 231.4 276.7C233.0 277.7 234.7 278.6 236.4 278.7C238.0 278.8 239.8 278.2 241.4 277.3C242.9 276.4 244.4 274.6 245.9 273.2C247.4 271.9 248.9 270.1 250.4 269.2C251.9 268.3 253.9 268.0 254.7 267.8M309.8 265.1C309.1 264.4 307.0 262.2 305.2 261.1C303.4 260.0 300.7 258.7 298.9 258.5C297.1 258.3 296.0 258.8 294.3 259.9C292.7 261.1 290.9 263.2 288.9 265.3C287.0 267.4 284.4 270.6 282.6 272.5C280.8 274.4 279.6 275.6 278.1 276.7C276.5 277.7 274.7 278.6 273.1 278.7C271.4 278.8 269.7 278.2 268.1 277.3C266.5 276.4 265.1 274.6 263.6 273.2C262.1 271.9 260.5 270.1 259.0 269.2C257.6 268.3 255.5 268.0 254.8 267.8M309.9 265.1C310.6 264.4 312.7 262.2 314.5 261.1C316.3 260.0 319.0 258.7 320.8 258.5C322.6 258.3 323.7 258.8 325.4 259.9C327.0 261.1 328.8 263.2 330.8 265.3C332.7 267.4 335.3 270.6 337.1 272.5C338.9 274.4 340.1 275.6 341.6 276.7C343.2 277.7 345.0 278.6 346.6 278.7C348.3 278.8 350.0 278.2 351.6 277.3C353.2 276.4 355.4 273.9 356.1 273.2M199.6 265.5C200.4 264.9 202.4 262.6 204.2 261.5C206.1 260.3 208.8 259.0 210.6 258.8C212.4 258.5 213.4 259.1 215.1 260.2C216.8 261.3 218.6 263.5 220.5 265.6C222.5 267.8 225.1 271.0 226.9 273.0C228.7 274.9 229.8 276.0 231.4 277.1C233.0 278.2 234.7 279.4 236.4 279.6C238.0 279.7 239.8 278.9 241.4 277.9C242.9 277.0 244.4 275.3 245.9 274.0C247.4 272.6 248.9 270.6 250.4 269.6C251.9 268.7 253.9 268.5 254.7 268.3M309.8 265.5C309.1 264.9 307.0 262.6 305.2 261.5C303.4 260.3 300.7 259.0 298.9 258.8C297.1 258.5 296.0 259.1 294.3 260.2C292.7 261.3 290.9 263.5 288.9 265.6C287.0 267.8 284.4 271.0 282.6 273.0C280.8 274.9 279.6 276.0 278.1 277.1C276.5 278.2 274.7 279.4 273.1 279.6C271.4 279.7 269.7 278.9 268.1 277.9C266.5 277.0 265.1 275.3 263.6 274.0C262.1 272.6 260.5 270.6 259.0 269.6C257.6 268.7 255.5 268.5 254.8 268.3M309.9 265.5C310.6 264.9 312.7 262.6 314.5 261.5C316.3 260.3 319.0 259.0 320.8 258.8C322.6 258.5 323.7 259.1 325.4 260.2C327.0 261.3 328.8 263.5 330.8 265.6C332.7 267.8 335.3 271.0 337.1 273.0C338.9 274.9 340.1 276.0 341.6 277.1C343.2 278.2 345.0 279.4 346.6 279.6C348.3 279.7 350.0 278.9 351.6 277.9C353.2 277.0 355.4 274.6 356.1 274.0M220.1 252.9C220.8 253.5 222.6 255.4 224.2 256.9C225.7 258.4 227.5 260.7 229.6 261.9C231.6 263.1 234.4 264.0 236.4 264.2C238.3 264.3 239.6 263.5 241.4 262.8C243.1 262.1 245.1 260.8 246.8 260.1C248.4 259.5 250.0 259.2 251.3 258.9C252.6 258.7 254.1 258.8 254.7 258.8M289.4 252.9C288.7 253.5 286.9 255.4 285.3 256.9C283.7 258.4 281.9 260.7 279.9 261.9C277.8 263.1 275.0 264.0 273.1 264.2C271.1 264.3 269.8 263.5 268.1 262.8C266.4 262.1 264.3 260.8 262.7 260.1C261.0 259.5 259.5 259.2 258.1 258.9C256.8 258.7 255.4 258.8 254.8 258.8M330.3 252.9C331.0 253.5 332.8 255.4 334.4 256.9C336.0 258.4 337.8 260.7 339.8 261.9C341.9 263.1 344.7 264.0 346.6 264.2C348.6 264.3 349.9 263.5 351.6 262.8C353.3 262.1 356.1 260.6 357.0 260.1M220.7 252.9C221.4 253.7 223.4 256.0 225.1 257.8C226.7 259.7 228.6 262.2 230.5 263.7C232.4 265.2 234.6 266.5 236.4 266.9C238.2 267.3 239.6 266.8 241.4 266.0C243.1 265.2 245.1 262.9 246.8 261.9C248.4 260.9 250.0 260.5 251.3 260.1C252.6 259.7 254.1 259.7 254.7 259.7M288.7 252.9C288.0 253.7 286.0 256.0 284.4 257.8C282.8 259.7 280.8 262.2 279.0 263.7C277.1 265.2 274.9 266.5 273.1 266.9C271.3 267.3 269.8 266.8 268.1 266.0C266.4 265.2 264.3 262.9 262.7 261.9C261.0 260.9 259.5 260.5 258.1 260.1C256.8 259.7 255.4 259.7 254.8 259.7M331.0 252.9C331.7 253.7 333.7 256.0 335.3 257.8C336.9 259.7 338.9 262.2 340.7 263.7C342.6 265.2 344.8 266.5 346.6 266.9C348.4 267.3 349.9 266.8 351.6 266.0C353.3 265.2 356.1 262.6 357.0 261.9M221.3 252.9C222.0 253.8 223.9 256.4 225.5 258.3C227.1 260.2 229.1 262.7 230.9 264.2C232.8 265.7 234.6 267.0 236.4 267.3C238.1 267.7 239.6 267.3 241.4 266.4C243.1 265.6 245.1 263.4 246.8 262.4C248.4 261.4 250.0 260.8 251.3 260.4C252.6 260.0 254.1 260.2 254.7 260.1M288.2 252.9C287.5 253.8 285.6 256.4 283.9 258.3C282.3 260.2 280.3 262.7 278.5 264.2C276.7 265.7 274.8 267.0 273.1 267.3C271.3 267.7 269.8 267.3 268.1 266.4C266.4 265.6 264.3 263.4 262.7 262.4C261.0 261.4 259.5 260.8 258.1 260.4C256.8 260.0 255.4 260.2 254.8 260.1M331.5 252.9C332.2 253.8 334.1 256.4 335.8 258.3C337.4 260.2 339.4 262.7 341.2 264.2C343.0 265.7 344.9 267.0 346.6 267.3C348.4 267.7 349.9 267.3 351.6 266.4C353.3 265.6 356.1 263.1 357.0 262.4M201.1 364.2C202.5 364.0 206.5 363.8 209.3 363.3C212.2 362.8 215.2 361.9 218.4 361.0C221.6 360.1 225.1 358.8 228.3 357.8C231.6 356.9 236.3 355.6 237.8 355.1M308.4 364.2C307.0 364.0 303.0 363.8 300.1 363.3C297.2 362.8 294.2 361.9 291.1 361.0C287.9 360.1 284.4 358.8 281.1 357.8C277.9 356.9 273.2 355.6 271.6 355.1M201.1 364.5C202.5 364.3 206.5 364.2 209.3 363.7C212.2 363.3 215.2 362.5 218.4 361.7C221.6 360.8 225.1 359.4 228.3 358.5C231.6 357.5 236.3 356.4 237.8 356.0M308.4 364.5C307.0 364.3 303.0 364.2 300.1 363.7C297.2 363.3 294.2 362.5 291.1 361.7C287.9 360.8 284.4 359.4 281.1 358.5C277.9 357.5 273.2 356.4 271.6 356.0M201.1 364.8C202.5 364.7 206.5 364.7 209.3 364.3C212.2 363.9 215.2 363.2 218.4 362.4C221.6 361.5 225.1 360.2 228.3 359.2C231.6 358.2 236.3 356.9 237.8 356.5M308.4 364.8C307.0 364.7 303.0 364.7 300.1 364.3C297.2 363.9 294.2 363.2 291.1 362.4C287.9 361.5 284.4 360.2 281.1 359.2C277.9 358.2 273.2 356.9 271.6 356.5M201.1 364.2C202.2 364.9 204.9 366.8 207.5 368.3C210.1 369.7 214.2 372.3 216.6 372.8C219.0 373.3 219.9 372.6 222.0 371.4C224.1 370.2 226.6 366.4 229.2 365.5C231.9 364.6 236.4 365.9 237.8 366.0M308.4 364.2C307.3 364.9 304.5 366.8 301.9 368.3C299.3 369.7 295.3 372.3 292.9 372.8C290.5 373.3 289.6 372.6 287.4 371.4C285.3 370.2 282.8 366.4 280.2 365.5C277.6 364.6 273.0 365.9 271.6 366.0M201.1 364.6C202.2 365.4 204.9 367.7 207.5 369.2C210.1 370.7 214.0 373.2 216.6 373.7C219.1 374.1 220.8 372.6 222.9 371.9C225.0 371.1 226.8 369.3 229.2 369.2C231.7 369.0 236.4 370.7 237.8 371.0M308.4 364.6C307.3 365.4 304.5 367.7 301.9 369.2C299.3 370.7 295.4 373.2 292.9 373.7C290.3 374.1 288.7 372.6 286.5 371.9C284.4 371.1 282.7 369.3 280.2 369.2C277.7 369.0 273.0 370.7 271.6 371.0M201.1 365.0C202.2 365.8 204.9 368.1 207.5 369.6C210.1 371.1 214.0 373.7 216.6 374.1C219.1 374.6 220.8 373.1 222.9 372.3C225.0 371.6 226.8 369.8 229.2 369.6C231.7 369.5 236.4 371.1 237.8 371.4M308.4 365.0C307.3 365.8 304.5 368.1 301.9 369.6C299.3 371.1 295.4 373.7 292.9 374.1C290.3 374.6 288.7 373.1 286.5 372.3C284.4 371.6 282.7 369.8 280.2 369.6C277.7 369.5 273.0 371.1 271.6 371.4M201.1 381.3C202.9 381.6 208.6 383.1 212.0 383.1C215.5 383.2 219.0 382.5 222.0 381.8C225.0 381.1 227.5 380.3 230.1 379.1C232.8 377.9 236.6 375.3 237.8 374.5M308.4 381.3C306.5 381.6 300.9 383.1 297.4 383.1C293.9 383.2 290.5 382.5 287.4 381.8C284.4 381.1 281.9 380.3 279.3 379.1C276.7 377.9 272.9 375.3 271.6 374.5M201.1 382.2C202.9 382.5 208.6 384.0 212.0 384.0C215.5 384.1 219.0 383.4 222.0 382.7C225.0 382.0 227.5 381.2 230.1 380.0C232.8 378.8 236.6 376.2 237.8 375.4M308.4 382.2C306.5 382.5 300.9 384.0 297.4 384.0C293.9 384.1 290.5 383.4 287.4 382.7C284.4 382.0 281.9 381.2 279.3 380.0C276.7 378.8 272.9 376.2 271.6 375.4M201.1 381.8C201.9 382.4 204.3 383.9 205.7 385.4C207.1 386.9 208.1 389.4 209.3 390.8C210.5 392.3 211.4 393.3 213.0 394.0C214.5 394.7 216.3 394.9 218.4 394.9C220.5 394.9 224.4 394.1 225.6 394.0M308.4 381.8C307.6 382.4 305.1 383.9 303.7 385.4C302.4 386.9 301.3 389.4 300.1 390.8C298.9 392.3 298.0 393.3 296.5 394.0C295.0 394.7 293.2 394.9 291.1 394.9C289.0 394.9 285.0 394.1 283.8 394.0M201.1 384.5C202.9 384.9 208.3 386.6 212.0 386.8C215.8 386.9 220.3 386.3 223.8 385.4C227.3 384.5 230.5 382.3 232.9 381.3C235.2 380.3 237.0 379.8 237.8 379.5M308.4 384.5C306.5 384.9 301.2 386.6 297.4 386.8C293.6 386.9 289.1 386.3 285.6 385.4C282.2 384.5 278.9 382.3 276.6 381.3C274.2 380.3 272.4 379.8 271.6 379.5M223.8 388.1C226.2 387.4 235.5 384.7 237.8 384.0M285.6 388.1C283.3 387.4 273.9 384.7 271.6 384.0M201.1 391.3C202.2 391.4 204.9 391.9 207.5 391.7C210.1 391.6 213.6 390.8 216.6 390.4C219.6 389.9 222.1 389.3 225.6 389.0C229.2 388.8 235.8 388.9 237.8 388.8M308.4 391.3C307.3 391.4 304.5 391.9 301.9 391.7C299.3 391.6 295.9 390.8 292.9 390.4C289.9 389.9 287.4 389.3 283.8 389.0C280.3 388.8 273.6 388.9 271.6 388.8M210.2 394.9C212.0 394.7 217.8 393.7 221.1 393.5C224.4 393.4 227.4 393.9 230.1 394.0C232.9 394.1 236.6 394.0 237.8 394.0M299.2 394.9C297.4 394.7 291.7 393.7 288.4 393.5C285.0 393.4 282.1 393.9 279.3 394.0C276.5 394.1 272.9 394.0 271.6 394.0M201.1 397.2C202.6 397.2 207.1 396.8 210.2 397.2C213.4 397.5 216.9 398.7 220.2 399.4C223.5 400.1 227.2 400.9 230.1 401.2C233.1 401.6 236.6 401.6 237.8 401.7M308.4 397.2C306.8 397.2 302.4 396.8 299.2 397.2C296.0 397.5 292.6 398.7 289.3 399.4C285.9 400.1 282.2 400.9 279.3 401.2C276.4 401.6 272.9 401.6 271.6 401.7M201.1 402.6C202.5 401.8 206.8 398.7 209.3 397.6C211.9 396.6 213.9 396.2 216.6 396.3C219.3 396.3 222.1 397.2 225.6 398.1C229.2 398.9 235.8 400.7 237.8 401.2M308.4 402.6C307.0 401.8 302.7 398.7 300.1 397.6C297.5 396.6 295.6 396.2 292.9 396.3C290.2 396.3 287.4 397.2 283.8 398.1C280.3 398.9 273.6 400.7 271.6 401.2M201.1 403.5C202.9 403.8 208.0 405.0 212.0 405.3C216.1 405.6 221.3 405.4 225.6 405.3C229.9 405.2 235.8 404.9 237.8 404.9M308.4 403.5C306.5 403.8 301.5 405.0 297.4 405.3C293.3 405.6 288.1 405.4 283.8 405.3C279.5 405.2 273.6 404.9 271.6 404.9M201.1 407.1C202.9 407.4 208.0 408.8 212.0 408.9C216.1 409.1 221.3 408.5 225.6 408.0C229.9 407.6 235.8 406.5 237.8 406.2M308.4 407.1C306.5 407.4 301.5 408.8 297.4 408.9C293.3 409.1 288.1 408.5 283.8 408.0C279.5 407.6 273.6 406.5 271.6 406.2M201.1 408.9C203.7 409.2 210.4 410.3 216.6 410.3C222.7 410.3 234.3 409.2 237.8 408.9M308.4 408.9C305.8 409.2 299.0 410.3 292.9 410.3C286.8 410.3 275.2 409.2 271.6 408.9M203.3 379.0C204.1 379.6 206.5 381.1 207.9 382.6C209.3 384.1 210.3 386.6 211.5 388.0C212.7 389.5 213.6 390.5 215.2 391.2C216.7 391.9 218.5 392.1 220.6 392.1C222.7 392.1 226.6 391.4 227.8 391.2M306.2 379.0C305.4 379.6 302.9 381.1 301.5 382.6C300.2 384.1 299.1 386.6 297.9 388.0C296.7 389.5 295.8 390.5 294.3 391.2C292.8 391.9 291.0 392.1 288.9 392.1C286.8 392.1 282.8 391.4 281.6 391.2M203.3 381.7C205.1 382.1 210.5 383.8 214.3 384.0C218.0 384.1 222.5 383.5 226.0 382.6C229.5 381.7 233.6 379.2 235.1 378.5M306.2 381.7C304.3 382.1 299.0 383.8 295.2 384.0C291.4 384.1 286.9 383.5 283.4 382.6C280.0 381.7 275.9 379.2 274.4 378.5M203.3 388.5C204.4 388.6 207.1 389.1 209.7 388.9C212.3 388.8 215.8 388.0 218.8 387.6C221.8 387.1 226.3 386.5 227.8 386.2M306.2 388.5C305.1 388.6 302.3 389.1 299.7 388.9C297.1 388.8 293.7 388.0 290.7 387.6C287.7 387.1 283.1 386.5 281.6 386.2M212.4 392.1C214.3 391.9 220.0 390.9 223.3 390.8C226.6 390.6 230.8 391.1 232.4 391.2M297.0 392.1C295.2 391.9 289.5 390.9 286.1 390.8C282.8 390.6 278.6 391.1 277.1 391.2M203.3 394.4C204.8 394.4 209.3 394.0 212.4 394.4C215.6 394.7 219.1 396.0 222.4 396.6C225.7 397.3 230.7 398.1 232.4 398.4M306.2 394.4C304.6 394.4 300.2 394.0 297.0 394.4C293.8 394.7 290.4 396.0 287.1 396.6C283.7 397.3 278.8 398.1 277.1 398.4M203.3 399.8C204.7 399.0 209.0 395.9 211.5 394.8C214.1 393.8 216.1 393.4 218.8 393.5C221.5 393.5 226.3 395.0 227.8 395.3M306.2 399.8C304.8 399.0 300.5 395.9 297.9 394.8C295.3 393.8 293.4 393.4 290.7 393.5C288.0 393.5 283.1 395.0 281.6 395.3M203.3 400.7C205.1 401.0 210.2 402.2 214.3 402.5C218.3 402.8 225.6 402.5 227.8 402.5M306.2 400.7C304.3 401.0 299.3 402.2 295.2 402.5C291.1 402.8 283.9 402.5 281.6 402.5M203.3 404.3C205.1 404.6 210.2 406.0 214.3 406.1C218.3 406.3 225.6 405.4 227.8 405.2M306.2 404.3C304.3 404.6 299.3 406.0 295.2 406.1C291.1 406.3 283.9 405.4 281.6 405.2M203.3 406.1C205.9 406.4 216.2 407.3 218.8 407.5M306.2 406.1C303.6 406.4 293.3 407.3 290.7 407.5" stroke="#3b7fc4" stroke-width="0.95"/>
<path d="M199.6 264.3C200.4 263.6 202.4 261.4 204.2 260.3C206.1 259.1 208.8 257.9 210.6 257.7C212.4 257.5 213.4 258.1 215.1 259.2C216.8 260.3 218.6 262.3 220.5 264.3C222.5 266.4 225.1 269.7 226.9 271.6C228.7 273.5 229.8 274.7 231.4 275.6C233.0 276.6 234.7 277.4 236.4 277.4C238.0 277.5 239.8 276.8 241.4 275.8C242.9 274.8 244.4 273.1 245.9 271.6C247.4 270.0 248.9 267.7 250.4 266.6C251.9 265.5 253.9 265.1 254.7 264.8M309.8 264.3C309.1 263.6 307.0 261.4 305.2 260.3C303.4 259.1 300.7 257.9 298.9 257.7C297.1 257.5 296.0 258.1 294.3 259.2C292.7 260.3 290.9 262.3 288.9 264.3C287.0 266.4 284.4 269.7 282.6 271.6C280.8 273.5 279.6 274.7 278.1 275.6C276.5 276.6 274.7 277.4 273.1 277.4C271.4 277.5 269.7 276.8 268.1 275.8C266.5 274.8 265.1 273.1 263.6 271.6C262.1 270.0 260.5 267.7 259.0 266.6C257.6 265.5 255.5 265.1 254.8 264.8M309.9 264.3C310.6 263.6 312.7 261.4 314.5 260.3C316.3 259.1 319.0 257.9 320.8 257.7C322.6 257.5 323.7 258.1 325.4 259.2C327.0 260.3 328.8 262.3 330.8 264.3C332.7 266.4 335.3 269.7 337.1 271.6C338.9 273.5 340.1 274.7 341.6 275.6C343.2 276.6 345.0 277.4 346.6 277.4C348.3 277.5 350.0 276.8 351.6 275.8C353.2 274.8 355.4 272.3 356.1 271.6M199.6 264.8C200.4 264.1 202.4 261.9 204.2 260.8C206.1 259.7 208.8 258.4 210.6 258.2C212.4 258.0 213.4 258.5 215.1 259.6C216.8 260.7 218.6 262.9 220.5 265.0C222.5 267.1 225.1 270.3 226.9 272.2C228.7 274.1 229.8 275.3 231.4 276.4C233.0 277.4 234.7 278.2 236.4 278.4C238.0 278.5 239.8 277.9 241.4 277.0C242.9 276.1 244.4 274.3 245.9 272.9C247.4 271.6 248.9 269.8 250.4 268.8C251.9 267.9 253.9 267.7 254.7 267.5M309.8 264.8C309.1 264.1 307.0 261.9 305.2 260.8C303.4 259.7 300.7 258.4 298.9 258.2C297.1 258.0 296.0 258.5 294.3 259.6C292.7 260.7 290.9 262.9 288.9 265.0C287.0 267.1 284.4 270.3 282.6 272.2C280.8 274.1 279.6 275.3 278.1 276.4C276.5 277.4 274.7 278.2 273.1 278.4C271.4 278.5 269.7 277.9 268.1 277.0C266.5 276.1 265.1 274.3 263.6 272.9C262.1 271.6 260.5 269.8 259.0 268.8C257.6 267.9 255.5 267.7 254.8 267.5M309.9 264.8C310.6 264.1 312.7 261.9 314.5 260.8C316.3 259.7 319.0 258.4 320.8 258.2C322.6 258.0 323.7 258.5 325.4 259.6C327.0 260.7 328.8 262.9 330.8 265.0C332.7 267.1 335.3 270.3 337.1 272.2C338.9 274.1 340.1 275.3 341.6 276.4C343.2 277.4 345.0 278.2 346.6 278.4C348.3 278.5 350.0 277.9 351.6 277.0C353.2 276.1 355.4 273.6 356.1 272.9M199.6 265.2C200.4 264.6 202.4 262.3 204.2 261.2C206.1 260.0 208.8 258.7 210.6 258.4C212.4 258.2 213.4 258.7 215.1 259.9C216.8 261.0 218.6 263.2 220.5 265.3C222.5 267.4 225.1 270.7 226.9 272.7C228.7 274.6 229.8 275.7 231.4 276.8C233.0 277.9 234.7 279.1 236.4 279.3C238.0 279.4 239.8 278.6 241.4 277.6C242.9 276.7 244.4 275.0 245.9 273.6C247.4 272.3 248.9 270.3 250.4 269.3C251.9 268.4 253.9 268.2 254.7 267.9M309.8 265.2C309.1 264.6 307.0 262.3 305.2 261.2C303.4 260.0 300.7 258.7 298.9 258.4C297.1 258.2 296.0 258.7 294.3 259.9C292.7 261.0 290.9 263.2 288.9 265.3C287.0 267.4 284.4 270.7 282.6 272.7C280.8 274.6 279.6 275.7 278.1 276.8C276.5 277.9 274.7 279.1 273.1 279.3C271.4 279.4 269.7 278.6 268.1 277.6C266.5 276.7 265.1 275.0 263.6 273.6C262.1 272.3 260.5 270.3 259.0 269.3C257.6 268.4 255.5 268.2 254.8 267.9M309.9 265.2C310.6 264.6 312.7 262.3 314.5 261.2C316.3 260.0 319.0 258.7 320.8 258.4C322.6 258.2 323.7 258.7 325.4 259.9C327.0 261.0 328.8 263.2 330.8 265.3C332.7 267.4 335.3 270.7 337.1 272.7C338.9 274.6 340.1 275.7 341.6 276.8C343.2 277.9 345.0 279.1 346.6 279.3C348.3 279.4 350.0 278.6 351.6 277.6C353.2 276.7 355.4 274.3 356.1 273.6M220.1 252.6C220.8 253.2 222.6 255.1 224.2 256.6C225.7 258.1 227.5 260.4 229.6 261.6C231.6 262.8 234.4 263.7 236.4 263.9C238.3 264.0 239.6 263.2 241.4 262.5C243.1 261.8 245.1 260.4 246.8 259.8C248.4 259.1 250.0 258.8 251.3 258.6C252.6 258.4 254.1 258.5 254.7 258.4M289.4 252.6C288.7 253.2 286.9 255.1 285.3 256.6C283.7 258.1 281.9 260.4 279.9 261.6C277.8 262.8 275.0 263.7 273.1 263.9C271.1 264.0 269.8 263.2 268.1 262.5C266.4 261.8 264.3 260.4 262.7 259.8C261.0 259.1 259.5 258.8 258.1 258.6C256.8 258.4 255.4 258.5 254.8 258.4M330.3 252.6C331.0 253.2 332.8 255.1 334.4 256.6C336.0 258.1 337.8 260.4 339.8 261.6C341.9 262.8 344.7 263.7 346.6 263.9C348.6 264.0 349.9 263.2 351.6 262.5C353.3 261.8 356.1 260.3 357.0 259.8M220.7 252.6C221.4 253.4 223.4 255.7 225.1 257.5C226.7 259.3 228.6 261.9 230.5 263.4C232.4 264.9 234.6 266.2 236.4 266.6C238.2 267.0 239.6 266.5 241.4 265.7C243.1 264.9 245.1 262.6 246.8 261.6C248.4 260.6 250.0 260.2 251.3 259.8C252.6 259.4 254.1 259.4 254.7 259.3M288.7 252.6C288.0 253.4 286.0 255.7 284.4 257.5C282.8 259.3 280.8 261.9 279.0 263.4C277.1 264.9 274.9 266.2 273.1 266.6C271.3 267.0 269.8 266.5 268.1 265.7C266.4 264.9 264.3 262.6 262.7 261.6C261.0 260.6 259.5 260.2 258.1 259.8C256.8 259.4 255.4 259.4 254.8 259.3M331.0 252.6C331.7 253.4 333.7 255.7 335.3 257.5C336.9 259.3 338.9 261.9 340.7 263.4C342.6 264.9 344.8 266.2 346.6 266.6C348.4 267.0 349.9 266.5 351.6 265.7C353.3 264.9 356.1 262.3 357.0 261.6M221.3 252.6C222.0 253.5 223.9 256.1 225.5 258.0C227.1 259.9 229.1 262.4 230.9 263.9C232.8 265.4 234.6 266.7 236.4 267.0C238.1 267.4 239.6 267.0 241.4 266.1C243.1 265.3 245.1 263.1 246.8 262.1C248.4 261.1 250.0 260.4 251.3 260.1C252.6 259.7 254.1 259.8 254.7 259.8M288.2 252.6C287.5 253.5 285.6 256.1 283.9 258.0C282.3 259.9 280.3 262.4 278.5 263.9C276.7 265.4 274.8 266.7 273.1 267.0C271.3 267.4 269.8 267.0 268.1 266.1C266.4 265.3 264.3 263.1 262.7 262.1C261.0 261.1 259.5 260.4 258.1 260.1C256.8 259.7 255.4 259.8 254.8 259.8M331.5 252.6C332.2 253.5 334.1 256.1 335.8 258.0C337.4 259.9 339.4 262.4 341.2 263.9C343.0 265.4 344.9 266.7 346.6 267.0C348.4 267.4 349.9 267.0 351.6 266.1C353.3 265.3 356.1 262.7 357.0 262.1M199.6 362.9C201.0 362.8 205.0 362.6 207.9 362.0C210.7 361.5 213.7 360.7 216.9 359.8C220.1 358.9 223.6 357.6 226.9 356.6C230.1 355.6 233.8 354.2 236.4 353.9C238.9 353.6 240.4 354.4 242.3 354.8C244.1 355.2 245.6 355.9 247.7 356.2C249.8 356.5 253.5 356.5 254.7 356.6M309.8 362.9C308.5 362.8 304.5 362.6 301.6 362.0C298.7 361.5 295.7 360.7 292.5 359.8C289.4 358.9 285.8 357.6 282.6 356.6C279.3 355.6 275.6 354.2 273.1 353.9C270.5 353.6 269.1 354.4 267.2 354.8C265.3 355.2 263.8 355.9 261.8 356.2C259.7 356.5 256.0 356.5 254.8 356.6M309.9 362.9C311.2 362.8 315.2 362.6 318.1 362.0C321.0 361.5 324.0 360.7 327.2 359.8C330.3 358.9 333.9 357.6 337.1 356.6C340.4 355.6 344.1 354.2 346.6 353.9C349.2 353.6 351.5 354.6 352.5 354.8M199.6 363.2C201.0 363.1 205.0 363.0 207.9 362.5C210.7 362.0 213.7 361.3 216.9 360.4C220.1 359.5 223.6 358.2 226.9 357.2C230.1 356.3 233.8 355.0 236.4 354.8C238.9 354.6 240.2 355.5 242.3 356.2C244.3 356.8 246.5 358.1 248.6 358.9C250.7 359.6 253.6 360.4 254.7 360.7M309.8 363.2C308.5 363.1 304.5 363.0 301.6 362.5C298.7 362.0 295.7 361.3 292.5 360.4C289.4 359.5 285.8 358.2 282.6 357.2C279.3 356.3 275.6 355.0 273.1 354.8C270.5 354.6 269.2 355.5 267.2 356.2C265.2 356.8 262.9 358.1 260.9 358.9C258.8 359.6 255.8 360.4 254.8 360.7M309.9 363.2C311.2 363.1 315.2 363.0 318.1 362.5C321.0 362.0 324.0 361.3 327.2 360.4C330.3 359.5 333.9 358.2 337.1 357.2C340.4 356.3 344.1 355.0 346.6 354.8C349.2 354.6 351.5 355.9 352.5 356.2M199.6 363.6C201.0 363.5 205.0 363.4 207.9 363.0C210.7 362.6 213.7 362.0 216.9 361.1C220.1 360.3 223.6 358.9 226.9 358.0C230.1 357.0 234.8 355.7 236.4 355.3M309.8 363.6C308.5 363.5 304.5 363.4 301.6 363.0C298.7 362.6 295.7 362.0 292.5 361.1C289.4 360.3 285.8 358.9 282.6 358.0C279.3 357.0 274.7 355.7 273.1 355.3M309.9 363.6C311.2 363.5 315.2 363.4 318.1 363.0C321.0 362.6 324.0 362.0 327.2 361.1C330.3 360.3 333.9 358.9 337.1 358.0C340.4 357.0 345.0 355.7 346.6 355.3M199.6 362.9C200.7 363.6 203.5 365.6 206.1 367.0C208.6 368.5 212.7 371.0 215.1 371.5C217.5 372.1 218.4 371.4 220.5 370.2C222.6 369.0 225.1 365.2 227.8 364.3C230.4 363.4 233.7 365.0 236.4 364.8C239.1 364.5 241.0 363.5 244.1 362.9C247.1 362.3 252.9 361.4 254.7 361.1M309.8 362.9C308.8 363.6 306.0 365.6 303.4 367.0C300.8 368.5 296.8 371.0 294.3 371.5C291.9 372.1 291.0 371.4 288.9 370.2C286.8 369.0 284.3 365.2 281.7 364.3C279.0 363.4 275.8 365.0 273.1 364.8C270.4 364.5 268.4 363.5 265.4 362.9C262.3 362.3 256.6 361.4 254.8 361.1M309.9 362.9C310.9 363.6 313.7 365.6 316.3 367.0C318.9 368.5 322.9 371.0 325.4 371.5C327.8 372.1 328.7 371.4 330.8 370.2C332.9 369.0 335.4 365.2 338.0 364.3C340.7 363.4 343.9 365.0 346.6 364.8C349.3 364.5 353.0 363.2 354.3 362.9M199.6 363.4C200.7 364.2 203.5 366.4 206.1 367.9C208.6 369.4 212.5 372.0 215.1 372.4C217.7 372.9 219.3 371.4 221.4 370.6C223.5 369.9 225.3 368.1 227.8 367.9C230.3 367.8 233.7 370.0 236.4 369.7C239.1 369.5 241.0 367.5 244.1 366.6C247.1 365.6 252.9 364.3 254.7 363.8M309.8 363.4C308.8 364.2 306.0 366.4 303.4 367.9C300.8 369.4 296.9 372.0 294.3 372.4C291.8 372.9 290.1 371.4 288.0 370.6C285.9 369.9 284.2 368.1 281.7 367.9C279.2 367.8 275.8 370.0 273.1 369.7C270.4 369.5 268.4 367.5 265.4 366.6C262.3 365.6 256.6 364.3 254.8 363.8M309.9 363.4C310.9 364.2 313.7 366.4 316.3 367.9C318.9 369.4 322.8 372.0 325.4 372.4C327.9 372.9 329.6 371.4 331.7 370.6C333.8 369.9 335.5 368.1 338.0 367.9C340.5 367.8 343.9 370.0 346.6 369.7C349.3 369.5 353.0 367.1 354.3 366.6M199.6 363.8C200.7 364.5 203.5 366.9 206.1 368.4C208.6 369.9 212.5 372.4 215.1 372.9C217.7 373.4 219.3 371.8 221.4 371.1C223.5 370.3 225.3 368.5 227.8 368.4C230.3 368.2 233.7 370.4 236.4 370.2C239.1 370.0 241.0 368.0 244.1 367.0C247.1 366.0 252.9 364.8 254.7 364.3M309.8 363.8C308.8 364.5 306.0 366.9 303.4 368.4C300.8 369.9 296.9 372.4 294.3 372.9C291.8 373.4 290.1 371.8 288.0 371.1C285.9 370.3 284.2 368.5 281.7 368.4C279.2 368.2 275.8 370.4 273.1 370.2C270.4 370.0 268.4 368.0 265.4 367.0C262.3 366.0 256.6 364.8 254.8 364.3M309.9 363.8C310.9 364.5 313.7 366.9 316.3 368.4C318.9 369.9 322.8 372.4 325.4 372.9C327.9 373.4 329.6 371.8 331.7 371.1C333.8 370.3 335.5 368.5 338.0 368.4C340.5 368.2 343.9 370.4 346.6 370.2C349.3 370.0 353.0 367.5 354.3 367.0M199.6 380.1C201.5 380.4 207.1 381.8 210.6 381.9C214.1 382.0 217.5 381.2 220.5 380.5C223.5 379.9 226.0 379.0 228.7 377.8C231.3 376.6 234.1 373.5 236.4 373.3C238.6 373.1 240.1 375.6 242.3 376.5C244.4 377.3 247.4 377.9 249.5 378.3C251.6 378.7 253.8 378.7 254.7 378.7M309.8 380.1C308.0 380.4 302.4 381.8 298.9 381.9C295.4 382.0 291.9 381.2 288.9 380.5C285.9 379.9 283.4 379.0 280.8 377.8C278.1 376.6 275.3 373.5 273.1 373.3C270.8 373.1 269.4 375.6 267.2 376.5C265.0 377.3 262.0 377.9 260.0 378.3C257.9 378.7 255.7 378.7 254.8 378.7M309.9 380.1C311.7 380.4 317.3 381.8 320.8 381.9C324.3 382.0 327.8 381.2 330.8 380.5C333.8 379.9 336.3 379.0 338.9 377.8C341.6 376.6 344.4 373.5 346.6 373.3C348.9 373.1 351.5 375.9 352.5 376.5M199.6 381.0C201.5 381.3 207.1 382.7 210.6 382.8C214.1 382.9 217.5 382.1 220.5 381.4C223.5 380.8 226.0 379.9 228.7 378.7C231.3 377.5 234.1 374.4 236.4 374.2C238.6 374.0 240.1 376.5 242.3 377.4C244.4 378.2 247.4 378.8 249.5 379.2C251.6 379.6 253.8 379.7 254.7 379.8M309.8 381.0C308.0 381.3 302.4 382.7 298.9 382.8C295.4 382.9 291.9 382.1 288.9 381.4C285.9 380.8 283.4 379.9 280.8 378.7C278.1 377.5 275.3 374.4 273.1 374.2C270.8 374.0 269.4 376.5 267.2 377.4C265.0 378.2 262.0 378.8 260.0 379.2C257.9 379.6 255.7 379.7 254.8 379.8M309.9 381.0C311.7 381.3 317.3 382.7 320.8 382.8C324.3 382.9 327.8 382.1 330.8 381.4C333.8 380.8 336.3 379.9 338.9 378.7C341.6 377.5 344.4 374.4 346.6 374.2C348.9 374.0 351.5 376.8 352.5 377.4M199.6 380.5C200.4 381.1 202.9 382.6 204.2 384.2C205.6 385.7 206.7 388.2 207.9 389.6C209.1 391.0 210.0 392.1 211.5 392.8C213.0 393.4 214.8 393.7 216.9 393.7C219.0 393.7 222.9 392.9 224.2 392.8M309.8 380.5C309.1 381.1 306.6 382.6 305.2 384.2C303.8 385.7 302.8 388.2 301.6 389.6C300.4 391.0 299.5 392.1 298.0 392.8C296.5 393.4 294.6 393.7 292.5 393.7C290.4 393.7 286.5 392.9 285.3 392.8M309.9 380.5C310.6 381.1 313.1 382.6 314.5 384.2C315.9 385.7 316.9 388.2 318.1 389.6C319.3 391.0 320.2 392.1 321.7 392.8C323.2 393.4 325.1 393.7 327.2 393.7C329.3 393.7 333.2 392.9 334.4 392.8M199.6 383.3C201.5 383.6 206.8 385.4 210.6 385.5C214.4 385.7 218.9 385.1 222.3 384.2C225.8 383.3 229.1 381.1 231.4 380.1C233.7 379.1 234.1 378.1 236.4 378.3C238.6 378.4 241.9 380.2 245.0 381.0C248.0 381.7 253.0 382.5 254.7 382.8M309.8 383.3C308.0 383.6 302.7 385.4 298.9 385.5C295.1 385.7 290.6 385.1 287.1 384.2C283.6 383.3 280.4 381.1 278.1 380.1C275.7 379.1 275.3 378.1 273.1 378.3C270.8 378.4 267.5 380.2 264.5 381.0C261.4 381.7 256.4 382.5 254.8 382.8M309.9 383.3C311.7 383.6 317.0 385.4 320.8 385.5C324.6 385.7 329.1 385.1 332.6 384.2C336.1 383.3 339.3 381.1 341.6 380.1C344.0 379.1 344.4 378.1 346.6 378.3C348.9 378.4 353.8 380.5 355.2 381.0M222.3 386.9C224.7 386.2 232.6 383.4 236.4 382.8C240.1 382.2 241.9 383.1 245.0 383.3C248.0 383.4 253.0 383.6 254.7 383.7M287.1 386.9C284.8 386.2 276.8 383.4 273.1 382.8C269.3 382.2 267.5 383.1 264.5 383.3C261.4 383.4 256.4 383.6 254.8 383.7M332.6 386.9C334.9 386.2 342.9 383.4 346.6 382.8C350.4 382.2 353.8 383.2 355.2 383.3M199.6 390.0C200.7 390.1 203.5 390.6 206.1 390.5C208.6 390.3 212.1 389.6 215.1 389.1C218.1 388.7 220.6 388.0 224.2 387.8C227.7 387.5 232.8 387.4 236.4 387.6C240.0 387.8 242.8 388.7 245.9 389.1C248.9 389.5 253.2 389.9 254.7 390.0M309.8 390.0C308.8 390.1 306.0 390.6 303.4 390.5C300.8 390.3 297.4 389.6 294.3 389.1C291.3 388.7 288.8 388.0 285.3 387.8C281.8 387.5 276.7 387.4 273.1 387.6C269.5 387.8 266.6 388.7 263.6 389.1C260.5 389.5 256.3 389.9 254.8 390.0M309.9 390.0C310.9 390.1 313.7 390.6 316.3 390.5C318.9 390.3 322.3 389.6 325.4 389.1C328.4 388.7 330.9 388.0 334.4 387.8C337.9 387.5 343.0 387.4 346.6 387.6C350.2 387.8 354.5 388.9 356.1 389.1M208.8 393.7C210.6 393.4 216.3 392.5 219.6 392.3C222.9 392.2 225.9 392.7 228.7 392.8C231.5 392.8 233.7 392.6 236.4 392.8C239.1 392.9 242.8 393.1 245.0 393.7C247.2 394.3 247.9 395.5 249.5 396.4C251.1 397.3 253.8 398.6 254.7 399.1M300.7 393.7C298.9 393.4 293.1 392.5 289.8 392.3C286.5 392.2 283.6 392.7 280.8 392.8C278.0 392.8 275.8 392.6 273.1 392.8C270.4 392.9 266.7 393.1 264.5 393.7C262.3 394.3 261.6 395.5 260.0 396.4C258.3 397.3 255.7 398.6 254.8 399.1M319.0 393.7C320.8 393.4 326.6 392.5 329.9 392.3C333.2 392.2 336.1 392.7 338.9 392.8C341.7 392.8 343.9 392.6 346.6 392.8C349.3 392.9 353.8 393.5 355.2 393.7M199.6 395.9C201.1 395.9 205.6 395.5 208.8 395.9C211.9 396.3 215.4 397.5 218.7 398.2C222.0 398.9 225.7 399.6 228.7 400.0C231.6 400.4 233.7 400.4 236.4 400.4C239.1 400.5 241.9 400.3 245.0 400.4C248.0 400.6 253.0 401.2 254.7 401.4M309.8 395.9C308.3 395.9 303.9 395.5 300.7 395.9C297.5 396.3 294.0 397.5 290.7 398.2C287.4 398.9 283.7 399.6 280.8 400.0C277.8 400.4 275.8 400.4 273.1 400.4C270.4 400.5 267.5 400.3 264.5 400.4C261.4 400.6 256.4 401.2 254.8 401.4M309.9 395.9C311.4 395.9 315.8 395.5 319.0 395.9C322.2 396.3 325.7 397.5 329.0 398.2C332.3 398.9 336.0 399.6 338.9 400.0C341.9 400.4 343.9 400.4 346.6 400.4C349.3 400.5 353.8 400.4 355.2 400.4M199.6 401.4C201.0 400.5 205.3 397.4 207.9 396.4C210.4 395.3 212.4 394.9 215.1 395.0C217.8 395.1 220.6 396.0 224.2 396.8C227.7 397.7 234.3 399.5 236.4 400.0M309.8 401.4C308.5 400.5 304.2 397.4 301.6 396.4C299.0 395.3 297.1 394.9 294.3 395.0C291.6 395.1 288.8 396.0 285.3 396.8C281.8 397.7 275.1 399.5 273.1 400.0M309.9 401.4C311.2 400.5 315.5 397.4 318.1 396.4C320.7 395.3 322.6 394.9 325.4 395.0C328.1 395.1 330.9 396.0 334.4 396.8C337.9 397.7 344.6 399.5 346.6 400.0M199.6 402.3C201.5 402.6 206.5 403.8 210.6 404.1C214.7 404.4 219.9 404.1 224.2 404.1C228.5 404.0 232.8 403.4 236.4 403.6C240.0 403.8 242.8 405.4 245.9 405.4C248.9 405.5 253.2 404.3 254.7 404.1M309.8 402.3C308.0 402.6 303.0 403.8 298.9 404.1C294.8 404.4 289.6 404.1 285.3 404.1C281.0 404.0 276.7 403.4 273.1 403.6C269.5 403.8 266.6 405.4 263.6 405.4C260.5 405.5 256.3 404.3 254.8 404.1M309.9 402.3C311.7 402.6 316.7 403.8 320.8 404.1C324.9 404.4 330.1 404.1 334.4 404.1C338.7 404.0 343.0 403.4 346.6 403.6C350.2 403.8 354.5 405.1 356.1 405.4M199.6 405.9C201.5 406.2 206.5 407.5 210.6 407.7C214.7 407.8 219.9 407.2 224.2 406.8C228.5 406.3 232.8 405.2 236.4 405.0C240.0 404.7 242.8 405.1 245.9 405.4C248.9 405.7 253.2 406.6 254.7 406.8M309.8 405.9C308.0 406.2 303.0 407.5 298.9 407.7C294.8 407.8 289.6 407.2 285.3 406.8C281.0 406.3 276.7 405.2 273.1 405.0C269.5 404.7 266.6 405.1 263.6 405.4C260.5 405.7 256.3 406.6 254.8 406.8M309.9 405.9C311.7 406.2 316.7 407.5 320.8 407.7C324.9 407.8 330.1 407.2 334.4 406.8C338.7 406.3 343.0 405.2 346.6 405.0C350.2 404.7 354.5 405.4 356.1 405.4M199.6 407.7C202.2 407.9 209.0 409.0 215.1 409.0C221.2 409.0 229.8 407.8 236.4 407.7C243.0 407.5 251.6 408.1 254.7 408.1M309.8 407.7C307.2 407.9 300.5 409.0 294.3 409.0C288.2 409.0 279.7 407.8 273.1 407.7C266.5 407.5 257.8 408.1 254.8 408.1M309.9 407.7C312.5 407.9 319.2 409.0 325.4 409.0C331.5 409.0 343.1 407.9 346.6 407.7" stroke="#b82431" stroke-width="1.0"/>
</g>
<rect x="199.60" y="252.40" width="147.00" height="156.50" fill="none" stroke="#262626" stroke-width="1.05"/>
<line x1="197.50" x2="199.60" y1="268.05" y2="268.05" stroke="#262626" stroke-width="0.8"/>
<line x1="197.50" x2="199.60" y1="299.35" y2="299.35" stroke="#262626" stroke-width="0.8"/>
<line x1="197.50" x2="199.60" y1="330.65" y2="330.65" stroke="#262626" stroke-width="0.8"/>
<line x1="197.50" x2="199.60" y1="361.95" y2="361.95" stroke="#262626" stroke-width="0.8"/>
<line x1="197.50" x2="199.60" y1="393.25" y2="393.25" stroke="#262626" stroke-width="0.8"/>
<line x1="199.60" x2="199.60" y1="408.90" y2="412.80" stroke="#262626" stroke-width="1.05"/>
<line x1="236.35" x2="236.35" y1="408.90" y2="412.80" stroke="#262626" stroke-width="1.05"/>
<line x1="273.10" x2="273.10" y1="408.90" y2="412.80" stroke="#262626" stroke-width="1.05"/>
<line x1="309.85" x2="309.85" y1="408.90" y2="412.80" stroke="#262626" stroke-width="1.05"/>
<line x1="346.60" x2="346.60" y1="408.90" y2="412.80" stroke="#262626" stroke-width="1.05"/>
<text x="199.90" y="424.30" font-size="10.1" text-anchor="middle">Γ</text>
<text x="236.35" y="424.30" font-size="10.1" text-anchor="middle">K</text>
<text x="273.40" y="424.30" font-size="10.1" text-anchor="middle" font-style="italic">K′</text>
<text x="310.15" y="424.30" font-size="10.1" text-anchor="middle">Γ</text>
<text x="348.10" y="424.30" font-size="10.1" text-anchor="middle" font-style="italic">K″</text>
<text x="345.80" y="245.60" font-size="10.4" text-anchor="end" textLength="69" lengthAdjust="spacingAndGlyphs">AA+(1/3,1/3)</text>
<text x="199.85" y="245.60" font-size="10.4" textLength="13.8" lengthAdjust="spacingAndGlyphs">(b)</text>
<rect x="364.80" y="346.00" width="147.00" height="62.90" fill="#f1f1f1"/>
<line x1="401.55" y1="252.40" x2="401.55" y2="408.90" stroke="#a2a2a2" stroke-width="1"/>
<line x1="438.30" y1="252.40" x2="438.30" y2="408.90" stroke="#a2a2a2" stroke-width="1"/>
<line x1="475.05" y1="252.40" x2="475.05" y2="408.90" stroke="#a2a2a2" stroke-width="1"/>
<clipPath id="c12"><rect x="364.80" y="252.40" width="147.00" height="156.50"/></clipPath>
<g clip-path="url(#c12)" fill="none" stroke-linejoin="round" stroke-linecap="round">
<path d="M364.8 262.9C365.5 262.4 367.4 261.0 369.2 260.2C371.0 259.4 373.8 258.2 375.6 258.1C377.4 257.9 378.4 258.3 380.1 259.3C381.8 260.2 383.6 261.8 385.5 263.8C387.5 265.8 390.1 269.1 391.9 271.0C393.7 273.0 394.8 274.4 396.4 275.6C398.0 276.7 399.9 277.9 401.6 278.0C403.2 278.2 404.8 277.5 406.4 276.5C407.9 275.5 409.4 273.5 410.9 271.9C412.4 270.4 413.9 268.1 415.4 267.0C416.9 265.8 419.2 265.5 419.9 265.1M475.0 262.9C474.3 262.4 472.4 261.0 470.6 260.2C468.8 259.4 466.1 258.2 464.3 258.1C462.5 257.9 461.4 258.3 459.7 259.3C458.1 260.2 456.3 261.8 454.3 263.8C452.4 265.8 449.8 269.1 448.0 271.0C446.2 273.0 445.1 274.4 443.5 275.6C441.8 276.7 440.0 277.9 438.3 278.0C436.6 278.2 435.1 277.5 433.5 276.5C431.9 275.5 430.5 273.5 429.0 271.9C427.5 270.4 426.0 268.1 424.4 267.0C422.9 265.8 420.7 265.5 419.9 265.1M475.1 262.9C475.8 262.4 477.7 261.0 479.5 260.2C481.3 259.4 484.0 258.2 485.8 258.1C487.6 257.9 488.7 258.3 490.4 259.3C492.0 260.2 493.8 261.8 495.8 263.8C497.7 265.8 500.3 269.1 502.1 271.0C503.9 273.0 505.0 274.4 506.6 275.6C508.3 276.7 510.1 277.9 511.8 278.0C513.5 278.2 515.0 277.5 516.6 276.5C518.2 275.5 520.4 272.7 521.1 271.9M364.8 266.5C365.4 266.0 367.3 264.3 368.3 263.3C369.4 262.4 369.8 261.4 371.1 260.6C372.3 259.8 374.1 258.8 375.6 258.6C377.1 258.5 378.4 258.8 380.1 259.7C381.8 260.7 383.6 262.3 385.5 264.2C387.5 266.2 390.1 269.5 391.9 271.5C393.7 273.4 394.8 274.8 396.4 276.0C398.0 277.2 399.9 278.5 401.6 278.7C403.2 278.9 404.8 278.2 406.4 277.2C407.9 276.2 409.4 274.2 410.9 272.6C412.4 271.0 413.9 268.8 415.4 267.7C416.9 266.6 419.2 266.3 419.9 266.1M475.0 266.5C474.5 266.0 472.6 264.3 471.5 263.3C470.5 262.4 470.0 261.4 468.8 260.6C467.6 259.8 465.8 258.8 464.3 258.6C462.8 258.5 461.4 258.8 459.7 259.7C458.1 260.7 456.3 262.3 454.3 264.2C452.4 266.2 449.8 269.5 448.0 271.5C446.2 273.4 445.1 274.8 443.5 276.0C441.8 277.2 440.0 278.5 438.3 278.7C436.6 278.9 435.1 278.2 433.5 277.2C431.9 276.2 430.5 274.2 429.0 272.6C427.5 271.0 426.0 268.8 424.4 267.7C422.9 266.6 420.7 266.3 419.9 266.1M475.1 266.5C475.6 266.0 477.5 264.3 478.6 263.3C479.6 262.4 480.1 261.4 481.3 260.6C482.5 259.8 484.3 258.8 485.8 258.6C487.3 258.5 488.7 258.8 490.4 259.7C492.0 260.7 493.8 262.3 495.8 264.2C497.7 266.2 500.3 269.5 502.1 271.5C503.9 273.4 505.0 274.8 506.6 276.0C508.3 277.2 510.1 278.5 511.8 278.7C513.5 278.9 515.0 278.2 516.6 277.2C518.2 276.2 520.4 273.3 521.1 272.6M386.0 252.9C386.5 253.5 387.7 255.1 389.2 256.6C390.6 258.0 392.5 260.2 394.6 261.5C396.7 262.9 399.6 264.3 401.6 264.7C403.5 265.1 404.6 264.5 406.4 263.8C408.1 263.1 410.1 261.4 411.8 260.6C413.4 259.8 414.9 259.3 416.3 259.0C417.7 258.7 419.3 258.8 419.9 258.8M453.9 252.9C453.3 253.5 452.1 255.1 450.7 256.6C449.3 258.0 447.3 260.2 445.3 261.5C443.2 262.9 440.3 264.3 438.3 264.7C436.3 265.1 435.2 264.5 433.5 263.8C431.8 263.1 429.7 261.4 428.1 260.6C426.4 259.8 424.9 259.3 423.5 259.0C422.2 258.7 420.5 258.8 419.9 258.8M496.2 252.9C496.8 253.5 498.0 255.1 499.4 256.6C500.8 258.0 502.8 260.2 504.8 261.5C506.9 262.9 509.8 264.3 511.8 264.7C513.8 265.1 514.9 264.5 516.6 263.8C518.3 263.1 521.1 261.2 522.0 260.6M386.4 252.9C387.0 253.6 388.2 255.5 389.6 257.0C391.0 258.5 393.0 260.6 395.0 262.0C397.0 263.3 399.7 264.8 401.6 265.1C403.4 265.5 404.6 264.9 406.4 264.2C408.1 263.6 410.1 261.9 411.8 261.1C413.4 260.3 414.9 259.8 416.3 259.5C417.7 259.3 419.3 259.7 419.9 259.7M453.4 252.9C452.9 253.6 451.7 255.5 450.2 257.0C448.8 258.5 446.8 260.6 444.8 262.0C442.8 263.3 440.2 264.8 438.3 265.1C436.4 265.5 435.2 264.9 433.5 264.2C431.8 263.6 429.7 261.9 428.1 261.1C426.4 260.3 424.9 259.8 423.5 259.5C422.2 259.3 420.5 259.7 419.9 259.7M496.7 252.9C497.2 253.6 498.4 255.5 499.9 257.0C501.3 258.5 503.3 260.6 505.3 262.0C507.3 263.3 509.9 264.8 511.8 265.1C513.7 265.5 514.9 264.9 516.6 264.2C518.3 263.6 521.1 261.6 522.0 261.1M364.8 360.5C366.6 360.2 371.5 359.4 375.6 358.7C379.6 358.0 384.8 357.0 389.2 356.4C393.5 355.8 398.1 355.1 401.6 355.1C405.0 355.1 406.9 356.0 410.0 356.4C413.0 356.9 418.3 357.5 419.9 357.8M475.0 360.5C473.2 360.2 468.3 359.4 464.3 358.7C460.2 358.0 455.0 357.0 450.7 356.4C446.4 355.8 441.8 355.1 438.3 355.1C434.8 355.1 432.9 356.0 429.9 356.4C426.8 356.9 421.6 357.5 419.9 357.8M475.1 360.5C476.9 360.2 481.8 359.4 485.8 358.7C489.9 358.0 495.1 357.0 499.4 356.4C503.7 355.8 508.3 355.1 511.8 355.1C515.3 355.1 518.8 356.2 520.2 356.4M364.8 365.5C365.8 366.0 368.5 367.4 371.1 368.6C373.6 369.8 377.4 372.5 380.1 372.7C382.8 372.9 384.9 371.1 387.3 370.0C389.8 368.9 392.2 366.4 394.6 365.9C397.0 365.5 399.0 367.6 401.6 367.3C404.1 367.0 406.9 364.9 410.0 364.1C413.0 363.3 418.3 362.6 419.9 362.3M475.0 365.5C474.0 366.0 471.3 367.4 468.8 368.6C466.2 369.8 462.5 372.5 459.7 372.7C457.0 372.9 454.9 371.1 452.5 370.0C450.1 368.9 447.6 366.4 445.3 365.9C442.9 365.5 440.9 367.6 438.3 367.3C435.7 367.0 432.9 364.9 429.9 364.1C426.8 363.3 421.6 362.6 419.9 362.3M475.1 365.5C476.1 366.0 478.8 367.4 481.3 368.6C483.9 369.8 487.6 372.5 490.4 372.7C493.1 372.9 495.2 371.1 497.6 370.0C500.0 368.9 502.5 366.4 504.8 365.9C507.2 365.5 509.2 367.6 511.8 367.3C514.4 367.0 518.8 364.6 520.2 364.1M394.6 365.5C395.7 365.8 399.4 366.5 401.6 367.3C403.7 368.0 405.4 369.6 407.3 370.0C409.1 370.4 410.6 369.9 412.7 369.7C414.8 369.6 418.7 369.2 419.9 369.1M445.3 365.5C444.1 365.8 440.4 366.5 438.3 367.3C436.2 368.0 434.5 369.6 432.6 370.0C430.7 370.4 429.3 369.9 427.2 369.7C425.1 369.6 421.1 369.2 419.9 369.1M504.8 365.5C506.0 365.8 509.7 366.5 511.8 367.3C513.9 368.0 516.6 369.5 517.5 370.0M410.0 359.6C411.0 360.0 414.6 361.4 416.3 361.8C418.0 362.3 419.3 362.4 419.9 362.5M429.9 359.6C428.8 360.0 425.2 361.4 423.5 361.8C421.9 362.3 420.5 362.4 419.9 362.5M364.8 381.7C366.6 381.8 372.1 382.7 375.6 382.6C379.0 382.4 382.5 381.4 385.5 380.8C388.5 380.2 391.0 380.0 393.7 379.0C396.3 378.0 399.3 375.0 401.6 374.9C403.8 374.8 405.2 377.6 407.3 378.5C409.3 379.4 411.5 380.0 413.6 380.3C415.7 380.7 418.9 380.7 419.9 380.8M475.0 381.7C473.2 381.8 467.7 382.7 464.3 382.6C460.8 382.4 457.3 381.4 454.3 380.8C451.3 380.2 448.8 380.0 446.2 379.0C443.5 378.0 440.6 375.0 438.3 374.9C436.0 374.8 434.6 377.6 432.6 378.5C430.6 379.4 428.4 380.0 426.3 380.3C424.1 380.7 421.0 380.7 419.9 380.8M475.1 381.7C476.9 381.8 482.4 382.7 485.8 382.6C489.3 382.4 492.8 381.4 495.8 380.8C498.8 380.2 501.3 380.0 503.9 379.0C506.6 378.0 509.5 375.0 511.8 374.9C514.1 374.8 516.6 377.9 517.5 378.5M364.8 382.1C365.7 382.9 368.4 385.0 370.1 386.7C371.9 388.3 373.9 391.0 375.6 392.1C377.2 393.2 377.8 393.8 380.1 393.5C382.4 393.1 386.6 391.0 389.2 389.8C391.7 388.7 393.4 387.4 395.5 386.7C397.6 385.9 399.1 385.4 401.6 385.3C404.0 385.2 406.9 385.8 410.0 386.2C413.0 386.6 418.3 387.4 419.9 387.6M475.0 382.1C474.2 382.9 471.5 385.0 469.7 386.7C467.9 388.3 465.9 391.0 464.3 392.1C462.6 393.2 462.0 393.8 459.7 393.5C457.5 393.1 453.3 391.0 450.7 389.8C448.1 388.7 446.4 387.4 444.4 386.7C442.3 385.9 440.7 385.4 438.3 385.3C435.9 385.2 432.9 385.8 429.9 386.2C426.8 386.6 421.6 387.4 419.9 387.6M475.1 382.1C475.9 382.9 478.6 385.0 480.4 386.7C482.2 388.3 484.2 391.0 485.8 392.1C487.5 393.2 488.1 393.8 490.4 393.5C492.6 393.1 496.8 391.0 499.4 389.8C502.0 388.7 503.7 387.4 505.7 386.7C507.8 385.9 509.4 385.4 511.8 385.3C514.2 385.2 518.8 386.1 520.2 386.2M364.8 402.1C366.6 401.6 372.3 400.1 375.6 399.3C378.9 398.6 381.6 398.5 384.6 397.5C387.6 396.6 390.9 394.2 393.7 393.5C396.5 392.7 398.8 392.8 401.6 393.0C404.3 393.2 406.9 394.2 410.0 394.8C413.0 395.4 418.3 396.3 419.9 396.6M475.0 402.1C473.2 401.6 467.6 400.1 464.3 399.3C461.0 398.6 458.2 398.5 455.2 397.5C452.2 396.6 449.0 394.2 446.2 393.5C443.4 392.7 441.0 392.8 438.3 393.0C435.6 393.2 432.9 394.2 429.9 394.8C426.8 395.4 421.6 396.3 419.9 396.6M475.1 402.1C476.9 401.6 482.5 400.1 485.8 399.3C489.1 398.6 491.9 398.5 494.9 397.5C497.9 396.6 501.1 394.2 503.9 393.5C506.7 392.7 509.1 392.8 511.8 393.0C514.5 393.2 518.8 394.5 520.2 394.8M364.8 403.0C366.6 403.1 371.5 403.9 375.6 403.9C379.6 403.9 384.8 403.1 389.2 403.0C393.5 402.8 398.1 403.0 401.6 403.0C405.0 403.0 406.9 402.9 410.0 403.0C413.0 403.0 418.3 403.3 419.9 403.4M475.0 403.0C473.2 403.1 468.3 403.9 464.3 403.9C460.2 403.9 455.0 403.1 450.7 403.0C446.4 402.8 441.8 403.0 438.3 403.0C434.8 403.0 432.9 402.9 429.9 403.0C426.8 403.0 421.6 403.3 419.9 403.4M475.1 403.0C476.9 403.1 481.8 403.9 485.8 403.9C489.9 403.9 495.1 403.1 499.4 403.0C503.7 402.8 508.3 403.0 511.8 403.0C515.3 403.0 518.8 403.0 520.2 403.0M371.1 396.6C372.6 396.3 377.1 395.2 380.1 394.4C383.1 393.5 385.6 392.3 389.2 391.6C392.7 391.0 398.1 390.4 401.6 390.3C405.0 390.2 406.9 390.9 410.0 391.2C413.0 391.5 418.3 392.0 419.9 392.1M468.8 396.6C467.3 396.3 462.8 395.2 459.7 394.4C456.7 393.5 454.3 392.3 450.7 391.6C447.1 391.0 441.8 390.4 438.3 390.3C434.8 390.2 432.9 390.9 429.9 391.2C426.8 391.5 421.6 392.0 419.9 392.1M481.3 396.6C482.8 396.3 487.3 395.2 490.4 394.4C493.4 393.5 495.8 392.3 499.4 391.6C503.0 391.0 508.3 390.4 511.8 390.3C515.3 390.2 518.8 391.0 520.2 391.2M401.6 379.9C403.0 380.3 406.9 381.7 410.0 382.1C413.0 382.6 418.3 382.5 419.9 382.6M438.3 379.9C436.9 380.3 432.9 381.7 429.9 382.1C426.8 382.6 421.6 382.5 419.9 382.6M511.8 379.9C513.2 380.3 518.8 381.8 520.2 382.1M364.8 406.1C366.6 406.0 371.5 405.2 375.6 405.2C379.6 405.2 384.8 405.9 389.2 406.1C393.5 406.4 396.4 406.6 401.6 406.6C406.7 406.6 416.9 406.2 419.9 406.1M475.0 406.1C473.2 406.0 468.3 405.2 464.3 405.2C460.2 405.2 455.0 405.9 450.7 406.1C446.4 406.4 443.4 406.6 438.3 406.6C433.2 406.6 423.0 406.2 419.9 406.1M475.1 406.1C476.9 406.0 481.8 405.2 485.8 405.2C489.9 405.2 495.1 405.9 499.4 406.1C503.7 406.4 509.7 406.5 511.8 406.6" stroke="#3b7fc4" stroke-width="0.95"/>
<path d="M364.8 262.5C365.5 262.1 367.4 260.6 369.2 259.8C371.0 259.0 373.8 257.9 375.6 257.7C377.4 257.6 378.4 257.9 380.1 258.9C381.8 259.8 383.6 261.5 385.5 263.4C387.5 265.4 390.1 268.7 391.9 270.7C393.7 272.6 394.8 274.0 396.4 275.2C398.0 276.3 399.9 277.5 401.6 277.6C403.2 277.8 404.8 277.1 406.4 276.1C407.9 275.1 409.4 273.1 410.9 271.6C412.4 270.0 413.9 267.7 415.4 266.6C416.9 265.5 419.2 265.1 419.9 264.8M475.0 262.5C474.3 262.1 472.4 260.6 470.6 259.8C468.8 259.0 466.1 257.9 464.3 257.7C462.5 257.6 461.4 257.9 459.7 258.9C458.1 259.8 456.3 261.5 454.3 263.4C452.4 265.4 449.8 268.7 448.0 270.7C446.2 272.6 445.1 274.0 443.5 275.2C441.8 276.3 440.0 277.5 438.3 277.6C436.6 277.8 435.1 277.1 433.5 276.1C431.9 275.1 430.5 273.1 429.0 271.6C427.5 270.0 426.0 267.7 424.4 266.6C422.9 265.5 420.7 265.1 419.9 264.8M475.1 262.5C475.8 262.1 477.7 260.6 479.5 259.8C481.3 259.0 484.0 257.9 485.8 257.7C487.6 257.6 488.7 257.9 490.4 258.9C492.0 259.8 493.8 261.5 495.8 263.4C497.7 265.4 500.3 268.7 502.1 270.7C503.9 272.6 505.0 274.0 506.6 275.2C508.3 276.3 510.1 277.5 511.8 277.6C513.5 277.8 515.0 277.1 516.6 276.1C518.2 275.1 520.4 272.3 521.1 271.6M364.8 266.1C365.4 265.6 367.3 263.9 368.3 263.0C369.4 262.0 369.8 261.0 371.1 260.3C372.3 259.5 374.1 258.4 375.6 258.3C377.1 258.1 378.4 258.4 380.1 259.3C381.8 260.3 383.6 261.9 385.5 263.9C387.5 265.8 390.1 269.2 391.9 271.1C393.7 273.1 394.8 274.4 396.4 275.6C398.0 276.8 399.9 278.2 401.6 278.4C403.2 278.5 404.8 277.8 406.4 276.8C407.9 275.8 409.4 273.8 410.9 272.2C412.4 270.6 413.9 268.4 415.4 267.3C416.9 266.2 419.2 266.0 419.9 265.7M475.0 266.1C474.5 265.6 472.6 263.9 471.5 263.0C470.5 262.0 470.0 261.0 468.8 260.3C467.6 259.5 465.8 258.4 464.3 258.3C462.8 258.1 461.4 258.4 459.7 259.3C458.1 260.3 456.3 261.9 454.3 263.9C452.4 265.8 449.8 269.2 448.0 271.1C446.2 273.1 445.1 274.4 443.5 275.6C441.8 276.8 440.0 278.2 438.3 278.4C436.6 278.5 435.1 277.8 433.5 276.8C431.9 275.8 430.5 273.8 429.0 272.2C427.5 270.6 426.0 268.4 424.4 267.3C422.9 266.2 420.7 266.0 419.9 265.7M475.1 266.1C475.6 265.6 477.5 263.9 478.6 263.0C479.6 262.0 480.1 261.0 481.3 260.3C482.5 259.5 484.3 258.4 485.8 258.3C487.3 258.1 488.7 258.4 490.4 259.3C492.0 260.3 493.8 261.9 495.8 263.9C497.7 265.8 500.3 269.2 502.1 271.1C503.9 273.1 505.0 274.4 506.6 275.6C508.3 276.8 510.1 278.2 511.8 278.4C513.5 278.5 515.0 277.8 516.6 276.8C518.2 275.8 520.4 273.0 521.1 272.2M386.0 252.6C386.5 253.2 387.7 254.7 389.2 256.2C390.6 257.6 392.5 259.8 394.6 261.2C396.7 262.5 399.6 263.9 401.6 264.3C403.5 264.7 404.6 264.1 406.4 263.4C408.1 262.7 410.1 261.1 411.8 260.3C413.4 259.5 414.9 258.9 416.3 258.6C417.7 258.3 419.3 258.5 419.9 258.4M453.9 252.6C453.3 253.2 452.1 254.7 450.7 256.2C449.3 257.6 447.3 259.8 445.3 261.2C443.2 262.5 440.3 263.9 438.3 264.3C436.3 264.7 435.2 264.1 433.5 263.4C431.8 262.7 429.7 261.1 428.1 260.3C426.4 259.5 424.9 258.9 423.5 258.6C422.2 258.3 420.5 258.5 419.9 258.4M496.2 252.6C496.8 253.2 498.0 254.7 499.4 256.2C500.8 257.6 502.8 259.8 504.8 261.2C506.9 262.5 509.8 263.9 511.8 264.3C513.8 264.7 514.9 264.1 516.6 263.4C518.3 262.7 521.1 260.8 522.0 260.3M386.4 252.6C387.0 253.2 388.2 255.1 389.6 256.6C391.0 258.1 393.0 260.3 395.0 261.6C397.0 263.0 399.7 264.4 401.6 264.8C403.4 265.2 404.6 264.6 406.4 263.9C408.1 263.2 410.1 261.5 411.8 260.7C413.4 259.9 414.9 259.4 416.3 259.2C417.7 258.9 419.3 259.3 419.9 259.3M453.4 252.6C452.9 253.2 451.7 255.1 450.2 256.6C448.8 258.1 446.8 260.3 444.8 261.6C442.8 263.0 440.2 264.4 438.3 264.8C436.4 265.2 435.2 264.6 433.5 263.9C431.8 263.2 429.7 261.5 428.1 260.7C426.4 259.9 424.9 259.4 423.5 259.2C422.2 258.9 420.5 259.3 419.9 259.3M496.7 252.6C497.2 253.2 498.4 255.1 499.9 256.6C501.3 258.1 503.3 260.3 505.3 261.6C507.3 263.0 509.9 264.4 511.8 264.8C513.7 265.2 514.9 264.6 516.6 263.9C518.3 263.2 521.1 261.2 522.0 260.7M364.8 360.9C366.6 360.7 371.5 360.3 375.6 359.6C379.6 358.9 384.8 357.6 389.2 356.9C393.5 356.1 398.1 355.1 401.6 355.1C405.0 355.0 407.5 355.8 410.0 356.4C412.4 357.0 414.6 358.1 416.3 358.7C418.0 359.2 419.3 359.4 419.9 359.6M475.0 360.9C473.2 360.7 468.3 360.3 464.3 359.6C460.2 358.9 455.0 357.6 450.7 356.9C446.4 356.1 441.8 355.1 438.3 355.1C434.8 355.0 432.3 355.8 429.9 356.4C427.4 357.0 425.2 358.1 423.5 358.7C421.9 359.2 420.5 359.4 419.9 359.6M475.1 360.9C476.9 360.7 481.8 360.3 485.8 359.6C489.9 358.9 495.1 357.6 499.4 356.9C503.7 356.1 508.3 355.1 511.8 355.1C515.3 355.0 518.8 356.2 520.2 356.4M364.8 361.8C366.6 361.7 372.3 361.4 375.6 360.9C378.9 360.5 381.6 359.8 384.6 359.1C387.6 358.4 390.9 357.3 393.7 356.7C396.5 356.0 398.8 355.1 401.6 355.2C404.3 355.3 407.5 356.6 410.0 357.3C412.4 358.0 414.6 358.9 416.3 359.4C418.0 359.8 419.3 359.9 419.9 360.0M475.0 361.8C473.2 361.7 467.6 361.4 464.3 360.9C461.0 360.5 458.2 359.8 455.2 359.1C452.2 358.4 449.0 357.3 446.2 356.7C443.4 356.0 441.0 355.1 438.3 355.2C435.6 355.3 432.3 356.6 429.9 357.3C427.4 358.0 425.2 358.9 423.5 359.4C421.9 359.8 420.5 359.9 419.9 360.0M475.1 361.8C476.9 361.7 482.5 361.4 485.8 360.9C489.1 360.5 491.9 359.8 494.9 359.1C497.9 358.4 501.1 357.3 503.9 356.7C506.7 356.0 509.1 355.1 511.8 355.2C514.5 355.3 518.8 357.0 520.2 357.3M364.8 364.6C366.6 364.6 372.3 365.1 375.6 365.0C378.9 364.9 381.9 364.6 384.6 364.1C387.3 363.6 389.9 362.8 391.9 361.8C393.8 360.9 394.8 359.3 396.4 358.2C398.0 357.2 400.7 356.0 401.6 355.5M475.0 364.6C473.2 364.6 467.6 365.1 464.3 365.0C461.0 364.9 457.9 364.6 455.2 364.1C452.5 363.6 449.9 362.8 448.0 361.8C446.0 360.9 445.1 359.3 443.5 358.2C441.8 357.2 439.2 356.0 438.3 355.5M475.1 364.6C476.9 364.6 482.5 365.1 485.8 365.0C489.1 364.9 492.2 364.6 494.9 364.1C497.6 363.6 500.2 362.8 502.1 361.8C504.1 360.9 505.0 359.3 506.6 358.2C508.3 357.2 510.9 356.0 511.8 355.5M364.8 363.6C365.8 364.1 368.5 365.3 371.1 366.4C373.6 367.4 377.4 369.6 380.1 370.0C382.8 370.4 384.9 369.6 387.3 368.6C389.8 367.6 392.2 364.6 394.6 364.1C397.0 363.6 399.0 365.8 401.6 365.5C404.1 365.2 406.9 363.2 410.0 362.3C413.0 361.4 418.3 360.4 419.9 360.0M475.0 363.6C474.0 364.1 471.3 365.3 468.8 366.4C466.2 367.4 462.5 369.6 459.7 370.0C457.0 370.4 454.9 369.6 452.5 368.6C450.1 367.6 447.6 364.6 445.3 364.1C442.9 363.6 440.9 365.8 438.3 365.5C435.7 365.2 432.9 363.2 429.9 362.3C426.8 361.4 421.6 360.4 419.9 360.0M475.1 363.6C476.1 364.1 478.8 365.3 481.3 366.4C483.9 367.4 487.6 369.6 490.4 370.0C493.1 370.4 495.2 369.6 497.6 368.6C500.0 367.6 502.5 364.6 504.8 364.1C507.2 363.6 509.2 365.8 511.8 365.5C514.4 365.2 518.8 362.8 520.2 362.3M364.8 365.0C365.8 365.5 368.5 366.5 371.1 367.7C373.6 368.9 377.4 371.7 380.1 372.2C382.8 372.8 384.9 371.6 387.3 370.9C389.8 370.1 392.2 367.6 394.6 367.7C397.0 367.8 399.0 371.3 401.6 371.3C404.1 371.4 406.9 369.1 410.0 368.2C413.0 367.3 418.3 366.3 419.9 365.9M475.0 365.0C474.0 365.5 471.3 366.5 468.8 367.7C466.2 368.9 462.5 371.7 459.7 372.2C457.0 372.8 454.9 371.6 452.5 370.9C450.1 370.1 447.6 367.6 445.3 367.7C442.9 367.8 440.9 371.3 438.3 371.3C435.7 371.4 432.9 369.1 429.9 368.2C426.8 367.3 421.6 366.3 419.9 365.9M475.1 365.0C476.1 365.5 478.8 366.5 481.3 367.7C483.9 368.9 487.6 371.7 490.4 372.2C493.1 372.8 495.2 371.6 497.6 370.9C500.0 370.1 502.5 367.6 504.8 367.7C507.2 367.8 509.2 371.3 511.8 371.3C514.4 371.4 518.8 368.7 520.2 368.2M364.8 379.9C366.6 380.1 372.1 381.3 375.6 381.2C379.0 381.2 382.5 380.1 385.5 379.4C388.5 378.8 391.0 378.1 393.7 377.2C396.3 376.3 399.3 373.6 401.6 374.0C403.8 374.4 405.4 377.5 407.3 379.4C409.1 381.4 411.2 383.6 412.7 385.8C414.2 388.0 415.1 391.0 416.3 392.6C417.5 394.1 419.3 394.8 419.9 395.3M475.0 379.9C473.2 380.1 467.7 381.3 464.3 381.2C460.8 381.2 457.3 380.1 454.3 379.4C451.3 378.8 448.8 378.1 446.2 377.2C443.5 376.3 440.6 373.6 438.3 374.0C436.0 374.4 434.5 377.5 432.6 379.4C430.7 381.4 428.7 383.6 427.2 385.8C425.7 388.0 424.8 391.0 423.5 392.6C422.3 394.1 420.5 394.8 419.9 395.3M475.1 379.9C476.9 380.1 482.4 381.3 485.8 381.2C489.3 381.2 492.8 380.1 495.8 379.4C498.8 378.8 501.3 378.1 503.9 377.2C506.6 376.3 509.5 373.6 511.8 374.0C514.1 374.4 516.6 378.5 517.5 379.4M364.8 380.3C366.6 380.6 372.1 381.8 375.6 381.7C379.0 381.6 382.5 380.7 385.5 380.0C388.5 379.3 391.0 378.5 393.7 377.6C396.3 376.7 399.3 374.7 401.6 374.7C403.8 374.7 405.2 377.0 407.3 377.6C409.3 378.3 411.5 378.4 413.6 378.7C415.7 379.0 418.9 379.2 419.9 379.2M475.0 380.3C473.2 380.6 467.7 381.8 464.3 381.7C460.8 381.6 457.3 380.7 454.3 380.0C451.3 379.3 448.8 378.5 446.2 377.6C443.5 376.7 440.6 374.7 438.3 374.7C436.0 374.7 434.6 377.0 432.6 377.6C430.6 378.3 428.4 378.4 426.3 378.7C424.1 379.0 421.0 379.2 419.9 379.2M475.1 380.3C476.9 380.6 482.4 381.8 485.8 381.7C489.3 381.6 492.8 380.7 495.8 380.0C498.8 379.3 501.3 378.5 503.9 377.6C506.6 376.7 509.5 374.7 511.8 374.7C514.1 374.7 516.6 377.1 517.5 377.6M401.6 377.6C403.0 377.7 406.9 377.8 410.0 377.8C413.0 377.8 418.3 377.7 419.9 377.6M438.3 377.6C436.9 377.7 432.9 377.8 429.9 377.8C426.8 377.8 421.6 377.7 419.9 377.6M511.8 377.6C513.2 377.7 518.8 377.8 520.2 377.8M364.8 380.8C366.1 381.0 369.6 381.8 372.9 382.1C376.2 382.5 381.2 383.5 384.6 383.1C388.1 382.6 390.9 380.3 393.7 379.4C396.5 378.5 400.2 377.9 401.6 377.6M475.0 380.8C473.7 381.0 470.3 381.8 467.0 382.1C463.7 382.5 458.7 383.5 455.2 383.1C451.8 382.6 449.0 380.3 446.2 379.4C443.4 378.5 439.6 377.9 438.3 377.6M475.1 380.8C476.4 381.0 479.8 381.8 483.1 382.1C486.4 382.5 491.4 383.5 494.9 383.1C498.3 382.6 501.1 380.3 503.9 379.4C506.7 378.5 510.5 377.9 511.8 377.6M364.8 383.1C365.7 383.7 368.7 385.6 370.1 386.7C371.6 387.7 372.1 388.8 373.8 389.4C375.4 390.0 377.5 390.2 380.1 390.3C382.7 390.4 385.6 389.5 389.2 389.8C392.7 390.1 398.1 392.1 401.6 392.1C405.0 392.1 406.9 390.4 410.0 389.8C413.0 389.3 418.3 389.1 419.9 388.9M475.0 383.1C474.2 383.7 471.2 385.6 469.7 386.7C468.2 387.7 467.7 388.8 466.1 389.4C464.4 390.0 462.3 390.2 459.7 390.3C457.2 390.4 454.3 389.5 450.7 389.8C447.1 390.1 441.8 392.1 438.3 392.1C434.8 392.1 432.9 390.4 429.9 389.8C426.8 389.3 421.6 389.1 419.9 388.9M475.1 383.1C475.9 383.7 478.9 385.6 480.4 386.7C481.9 387.7 482.4 388.8 484.0 389.4C485.7 390.0 487.8 390.2 490.4 390.3C492.9 390.4 495.8 389.5 499.4 389.8C503.0 390.1 508.3 392.1 511.8 392.1C515.3 392.1 518.8 390.2 520.2 389.8M364.8 389.4C366.6 389.5 372.3 389.5 375.6 389.8C378.9 390.1 381.6 390.8 384.6 391.2C387.6 391.6 390.9 391.9 393.7 392.1C396.5 392.3 398.8 392.8 401.6 392.6C404.3 392.3 406.9 391.3 410.0 390.7C413.0 390.2 418.3 389.6 419.9 389.4M475.0 389.4C473.2 389.5 467.6 389.5 464.3 389.8C461.0 390.1 458.2 390.8 455.2 391.2C452.2 391.6 449.0 391.9 446.2 392.1C443.4 392.3 441.0 392.8 438.3 392.6C435.6 392.3 432.9 391.3 429.9 390.7C426.8 390.2 421.6 389.6 419.9 389.4M475.1 389.4C476.9 389.5 482.5 389.5 485.8 389.8C489.1 390.1 491.9 390.8 494.9 391.2C497.9 391.6 501.1 391.9 503.9 392.1C506.7 392.3 509.1 392.8 511.8 392.6C514.5 392.3 518.8 391.0 520.2 390.7M364.8 398.4C366.6 398.3 372.3 398.0 375.6 397.5C378.9 397.1 381.6 396.3 384.6 395.7C387.6 395.2 390.9 395.0 393.7 394.4C396.5 393.8 400.2 392.5 401.6 392.1M475.0 398.4C473.2 398.3 467.6 398.0 464.3 397.5C461.0 397.1 458.2 396.3 455.2 395.7C452.2 395.2 449.0 395.0 446.2 394.4C443.4 393.8 439.6 392.5 438.3 392.1M475.1 398.4C476.9 398.3 482.5 398.0 485.8 397.5C489.1 397.1 491.9 396.3 494.9 395.7C497.9 395.2 501.1 395.0 503.9 394.4C506.7 393.8 510.5 392.5 511.8 392.1M364.8 400.2C366.6 400.4 371.5 401.2 375.6 401.2C379.6 401.2 384.8 400.9 389.2 400.2C393.5 399.6 398.1 397.8 401.6 397.5C405.0 397.2 406.9 397.8 410.0 398.4C413.0 399.0 418.3 400.7 419.9 401.2M475.0 400.2C473.2 400.4 468.3 401.2 464.3 401.2C460.2 401.2 455.0 400.9 450.7 400.2C446.4 399.6 441.8 397.8 438.3 397.5C434.8 397.2 432.9 397.8 429.9 398.4C426.8 399.0 421.6 400.7 419.9 401.2M475.1 400.2C476.9 400.4 481.8 401.2 485.8 401.2C489.9 401.2 495.1 400.9 499.4 400.2C503.7 399.6 508.3 397.8 511.8 397.5C515.3 397.2 518.8 398.3 520.2 398.4M364.8 403.9C366.6 403.7 372.3 403.3 375.6 403.0C378.9 402.7 381.6 402.1 384.6 402.1C387.6 402.1 390.9 402.6 393.7 403.0C396.5 403.3 398.8 404.3 401.6 404.3C404.3 404.3 406.9 403.3 410.0 403.0C413.0 402.6 418.3 402.2 419.9 402.1M475.0 403.9C473.2 403.7 467.6 403.3 464.3 403.0C461.0 402.7 458.2 402.1 455.2 402.1C452.2 402.1 449.0 402.6 446.2 403.0C443.4 403.3 441.0 404.3 438.3 404.3C435.6 404.3 432.9 403.3 429.9 403.0C426.8 402.6 421.6 402.2 419.9 402.1M475.1 403.9C476.9 403.7 482.5 403.3 485.8 403.0C489.1 402.7 491.9 402.1 494.9 402.1C497.9 402.1 501.1 402.6 503.9 403.0C506.7 403.3 509.1 404.3 511.8 404.3C514.5 404.3 518.8 403.2 520.2 403.0M364.8 405.7C366.6 405.8 371.5 406.3 375.6 406.1C379.6 406.0 384.8 404.8 389.2 404.8C393.5 404.7 396.4 405.6 401.6 405.7C406.7 405.8 416.9 405.3 419.9 405.2M475.0 405.7C473.2 405.8 468.3 406.3 464.3 406.1C460.2 406.0 455.0 404.8 450.7 404.8C446.4 404.7 443.4 405.6 438.3 405.7C433.2 405.8 423.0 405.3 419.9 405.2M475.1 405.7C476.9 405.8 481.8 406.3 485.8 406.1C489.9 406.0 495.1 404.8 499.4 404.8C503.7 404.7 509.7 405.5 511.8 405.7M364.8 379.4C365.8 380.0 369.4 381.7 371.1 383.1C372.7 384.4 373.5 386.1 374.7 387.6C375.9 389.1 376.9 390.9 378.3 392.1C379.6 393.3 381.0 394.1 382.8 394.8C384.6 395.6 388.1 396.3 389.2 396.6M475.0 379.4C474.0 380.0 470.4 381.7 468.8 383.1C467.2 384.4 466.4 386.1 465.2 387.6C464.0 389.1 462.9 390.9 461.6 392.1C460.2 393.3 458.8 394.1 457.0 394.8C455.2 395.6 451.8 396.3 450.7 396.6M475.1 379.4C476.1 380.0 479.7 381.7 481.3 383.1C482.9 384.4 483.7 386.1 484.9 387.6C486.1 389.1 487.2 390.9 488.5 392.1C489.9 393.3 491.3 394.1 493.1 394.8C494.9 395.6 498.3 396.3 499.4 396.6M364.8 407.9C367.4 408.0 374.0 408.4 380.1 408.4C386.2 408.3 394.9 407.7 401.6 407.7C408.2 407.6 416.9 408.1 419.9 408.2M475.0 407.9C472.5 408.0 465.9 408.4 459.7 408.4C453.6 408.3 444.9 407.7 438.3 407.7C431.7 407.6 423.0 408.1 419.9 408.2M475.1 407.9C477.6 408.0 484.2 408.4 490.4 408.4C496.5 408.3 508.2 407.8 511.8 407.7" stroke="#b82431" stroke-width="1.0"/>
</g>
<rect x="364.80" y="252.40" width="147.00" height="156.50" fill="none" stroke="#262626" stroke-width="1.05"/>
<line x1="362.70" x2="364.80" y1="268.05" y2="268.05" stroke="#262626" stroke-width="0.8"/>
<line x1="362.70" x2="364.80" y1="299.35" y2="299.35" stroke="#262626" stroke-width="0.8"/>
<line x1="362.70" x2="364.80" y1="330.65" y2="330.65" stroke="#262626" stroke-width="0.8"/>
<line x1="362.70" x2="364.80" y1="361.95" y2="361.95" stroke="#262626" stroke-width="0.8"/>
<line x1="362.70" x2="364.80" y1="393.25" y2="393.25" stroke="#262626" stroke-width="0.8"/>
<line x1="364.80" x2="364.80" y1="408.90" y2="412.80" stroke="#262626" stroke-width="1.05"/>
<line x1="401.55" x2="401.55" y1="408.90" y2="412.80" stroke="#262626" stroke-width="1.05"/>
<line x1="438.30" x2="438.30" y1="408.90" y2="412.80" stroke="#262626" stroke-width="1.05"/>
<line x1="475.05" x2="475.05" y1="408.90" y2="412.80" stroke="#262626" stroke-width="1.05"/>
<line x1="511.80" x2="511.80" y1="408.90" y2="412.80" stroke="#262626" stroke-width="1.05"/>
<text x="365.10" y="424.30" font-size="10.1" text-anchor="middle">Γ</text>
<text x="401.55" y="424.30" font-size="10.1" text-anchor="middle">K</text>
<text x="438.60" y="424.30" font-size="10.1" text-anchor="middle" font-style="italic">K′</text>
<text x="475.35" y="424.30" font-size="10.1" text-anchor="middle">Γ</text>
<text x="513.30" y="424.30" font-size="10.1" text-anchor="middle" font-style="italic">K″</text>
<text x="511.00" y="245.60" font-size="10.4" text-anchor="end" textLength="69" lengthAdjust="spacingAndGlyphs">AA+(1/3,2/3)</text>
<text x="365.05" y="245.60" font-size="10.4" textLength="13.8" lengthAdjust="spacingAndGlyphs">(c)</text>
<rect x="530.00" y="346.00" width="147.00" height="62.90" fill="#f1f1f1"/>
<line x1="566.75" y1="252.40" x2="566.75" y2="408.90" stroke="#a2a2a2" stroke-width="1"/>
<line x1="603.50" y1="252.40" x2="603.50" y2="408.90" stroke="#a2a2a2" stroke-width="1"/>
<line x1="640.25" y1="252.40" x2="640.25" y2="408.90" stroke="#a2a2a2" stroke-width="1"/>
<clipPath id="c13"><rect x="530.00" y="252.40" width="147.00" height="156.50"/></clipPath>
<g clip-path="url(#c13)" fill="none" stroke-linejoin="round" stroke-linecap="round">
<path d="M567.0 266.4C567.9 266.2 570.5 266.1 572.3 265.3C574.0 264.5 576.0 262.7 577.7 261.7C579.3 260.7 581.0 259.6 582.2 259.1C583.4 258.7 584.6 259.0 585.1 259.0M603.2 266.4C602.4 266.2 599.8 266.1 598.0 265.3C596.2 264.5 594.2 262.7 592.6 261.7C590.9 260.7 589.3 259.6 588.0 259.1C586.8 258.7 585.6 259.0 585.1 259.0M677.3 266.4C678.1 266.2 680.7 266.1 682.5 265.3C684.3 264.5 687.0 262.3 687.9 261.7M569.5 253.7C570.9 253.9 575.1 254.7 577.7 255.1C580.3 255.4 583.9 255.6 585.1 255.7M600.7 253.7C599.4 253.9 595.2 254.7 592.6 255.1C590.0 255.4 586.4 255.6 585.1 255.7M679.8 253.7C681.1 253.9 686.6 254.8 687.9 255.1M572.3 278.2C573.2 277.1 576.0 273.9 577.7 272.0C579.3 270.1 581.0 267.9 582.2 266.9C583.4 266.0 584.6 266.3 585.1 266.2M598.0 278.2C597.1 277.1 594.2 273.9 592.6 272.0C590.9 270.1 589.3 267.9 588.0 266.9C586.8 266.0 585.6 266.3 585.1 266.2M682.5 278.2C683.4 277.1 687.0 273.0 687.9 272.0M566.7 357.7C568.1 357.4 572.2 356.3 575.3 355.8C578.4 355.3 581.9 354.7 585.2 354.7C588.4 354.7 591.8 355.3 594.9 355.8C597.9 356.3 602.1 357.4 603.5 357.7M566.7 362.6C567.5 362.4 568.5 361.9 571.5 361.4C574.6 361.0 580.6 359.9 585.2 359.9C589.7 359.9 595.6 361.0 598.6 361.4C601.7 361.9 602.7 362.4 603.5 362.6M566.7 362.9C568.1 363.0 572.2 363.1 575.3 363.3C578.4 363.5 581.9 364.1 585.2 364.1C588.4 364.1 591.8 363.5 594.9 363.3C597.9 363.1 602.1 363.0 603.5 362.9M571.5 371.6C573.8 371.5 580.6 370.8 585.2 370.8C589.7 370.8 596.4 371.5 598.6 371.6M569.7 371.4C572.2 371.3 579.9 370.9 585.1 370.9C590.3 370.9 598.1 371.3 600.7 371.4M566.7 376.6C568.2 376.8 572.2 377.7 575.3 378.0C578.4 378.3 581.8 378.5 585.1 378.5C588.4 378.5 592.0 378.3 595.1 378.0C598.1 377.7 602.1 376.8 603.5 376.6M566.7 377.1C567.8 377.8 571.0 379.9 573.4 381.3C575.8 382.7 579.0 384.8 581.0 385.5C582.9 386.3 583.7 386.0 585.1 386.0C586.5 386.0 587.4 386.3 589.4 385.5C591.4 384.8 594.6 382.7 597.0 381.3C599.3 379.9 602.4 377.8 603.5 377.1M566.7 391.7C568.2 391.8 572.2 392.4 575.3 392.6C578.4 392.8 581.8 393.1 585.1 393.1C588.4 393.1 592.0 392.8 595.1 392.6C598.1 392.4 602.1 391.8 603.5 391.7M566.7 384.1C567.8 384.9 571.2 387.0 573.4 388.8C575.6 390.7 578.1 393.9 580.0 395.4C582.0 397.0 583.4 398.3 585.1 398.3C586.8 398.3 588.4 397.0 590.4 395.4C592.3 393.9 594.8 390.7 597.0 388.8C599.1 387.0 602.4 384.9 603.5 384.1M566.7 402.0C569.8 402.1 579.0 402.5 585.1 402.5C591.2 402.5 600.4 402.1 603.5 402.0M607.0 356.2C608.5 356.6 612.9 357.9 616.1 358.8C619.2 359.7 622.7 361.4 625.8 361.8C629.0 362.2 632.5 361.7 634.9 361.4C637.3 361.2 639.3 360.5 640.2 360.3M673.5 356.2C672.0 356.6 667.6 357.9 664.4 358.8C661.3 359.7 657.8 361.4 654.7 361.8C651.5 362.2 648.0 361.7 645.6 361.4C643.2 361.2 641.2 360.5 640.3 360.3M603.5 362.2C604.3 362.3 606.4 362.6 608.5 362.9C610.6 363.2 613.5 363.7 616.1 364.1C618.6 364.4 621.1 364.9 623.6 365.2C626.1 365.5 628.3 365.8 631.1 365.9C633.9 366.1 638.7 366.3 640.2 366.3M677.0 362.2C676.2 362.3 674.1 362.6 672.0 362.9C669.9 363.2 667.0 363.7 664.4 364.1C661.9 364.4 659.4 364.9 656.9 365.2C654.4 365.5 652.2 365.8 649.4 365.9C646.6 366.1 641.8 366.3 640.3 366.3M603.5 361.4C604.7 361.7 608.1 362.7 610.8 363.3C613.5 363.9 617.1 364.4 619.8 364.8C622.6 365.2 624.8 365.4 627.3 365.6C629.9 365.7 632.7 365.7 634.9 365.7C637.0 365.7 639.3 365.6 640.2 365.6M677.0 361.4C675.8 361.7 672.4 362.7 669.7 363.3C667.0 363.9 663.4 364.4 660.7 364.8C657.9 365.2 655.7 365.4 653.2 365.6C650.6 365.7 647.8 365.7 645.6 365.7C643.5 365.7 641.2 365.6 640.3 365.6M603.4 374.2C604.6 374.2 607.7 373.7 610.4 374.2C613.1 374.8 616.7 376.7 619.8 377.5C623.0 378.4 625.8 378.8 629.3 379.4C632.7 380.0 638.4 381.0 640.3 381.3M677.1 374.2C675.9 374.2 672.8 373.7 670.1 374.2C667.4 374.8 663.8 376.7 660.7 377.5C657.5 378.4 654.7 378.8 651.2 379.4C647.8 380.0 642.1 381.0 640.2 381.3M604.8 375.7C606.0 376.0 609.8 376.6 612.3 377.5C614.8 378.5 617.3 380.4 619.8 381.3C622.3 382.2 625.0 382.7 627.4 383.2C629.7 383.7 631.8 384.1 634.0 384.1C636.1 384.1 639.2 383.3 640.3 383.2M675.7 375.7C674.5 376.0 670.7 376.6 668.2 377.5C665.7 378.5 663.2 380.4 660.7 381.3C658.2 382.2 655.5 382.7 653.1 383.2C650.8 383.7 648.7 384.1 646.5 384.1C644.4 384.1 641.3 383.3 640.2 383.2M603.4 379.4C604.9 380.0 609.6 382.1 612.3 383.2C615.0 384.3 617.3 385.4 619.8 386.0C622.3 386.6 625.0 387.0 627.4 387.0C629.7 386.9 631.8 386.0 634.0 385.5C636.1 385.1 639.2 384.4 640.3 384.1M677.1 379.4C675.6 380.0 670.9 382.1 668.2 383.2C665.5 384.3 663.2 385.4 660.7 386.0C658.2 386.6 655.5 387.0 653.1 387.0C650.8 386.9 648.7 386.0 646.5 385.5C644.4 385.1 641.3 384.4 640.2 384.1M603.4 391.7C604.9 391.7 609.3 391.8 612.3 392.1C615.3 392.4 618.9 393.2 621.7 393.5C624.5 393.9 626.2 394.4 629.3 394.5C632.3 394.6 638.4 394.1 640.3 394.0M677.1 391.7C675.6 391.7 671.2 391.8 668.2 392.1C665.2 392.4 661.6 393.2 658.8 393.5C656.0 393.9 654.3 394.4 651.2 394.5C648.2 394.6 642.1 394.1 640.2 394.0M621.7 405.8C623.0 404.5 627.2 400.8 629.3 398.3C631.3 395.7 632.5 392.9 634.0 390.7C635.4 388.5 636.7 386.3 637.7 385.1C638.8 383.8 639.8 383.5 640.3 383.2M658.8 405.8C657.5 404.5 653.3 400.8 651.2 398.3C649.2 395.7 648.0 392.9 646.5 390.7C645.1 388.5 643.8 386.3 642.8 385.1C641.7 383.8 640.7 383.5 640.2 383.2M603.4 402.0C604.9 402.1 609.3 402.2 612.3 402.5C615.3 402.8 618.6 403.5 621.7 403.9C624.9 404.3 628.0 404.5 631.1 404.8C634.2 405.2 638.7 405.6 640.3 405.8M677.1 402.0C675.6 402.1 671.2 402.2 668.2 402.5C665.2 402.8 661.9 403.5 658.8 403.9C655.6 404.3 652.5 404.5 649.4 404.8C646.3 405.2 641.8 405.6 640.2 405.8" stroke="#3b7fc4" stroke-width="0.95"/>
<path d="M530.4 263.7C531.4 263.1 534.1 261.0 536.1 260.1C538.0 259.1 540.1 258.2 541.9 258.1C543.7 257.9 545.0 258.1 546.9 259.1C548.8 260.2 551.1 262.5 553.2 264.6C555.4 266.7 557.8 269.9 559.6 271.8C561.4 273.7 562.9 274.9 564.1 275.9C565.3 276.9 565.6 277.6 567.0 277.7C568.4 277.8 570.5 277.5 572.3 276.3C574.0 275.2 576.0 272.5 577.7 270.9C579.3 269.3 581.0 267.4 582.2 266.6C583.4 265.7 584.6 266.0 585.1 265.9M639.8 263.7C638.9 263.1 636.1 261.0 634.2 260.1C632.3 259.1 630.1 258.2 628.3 258.1C626.5 257.9 625.2 258.1 623.3 259.1C621.5 260.2 619.1 262.5 617.0 264.6C614.9 266.7 612.5 269.9 610.7 271.8C608.9 273.7 607.4 274.9 606.1 275.9C604.9 276.9 604.6 277.6 603.2 277.7C601.9 277.8 599.8 277.5 598.0 276.3C596.2 275.2 594.2 272.5 592.6 270.9C590.9 269.3 589.3 267.4 588.0 266.6C586.8 265.7 585.6 266.0 585.1 265.9M640.7 263.7C641.6 263.1 644.4 261.0 646.3 260.1C648.2 259.1 650.4 258.2 652.2 258.1C654.0 257.9 655.3 258.1 657.2 259.1C659.0 260.2 661.4 262.5 663.5 264.6C665.6 266.7 668.0 269.9 669.8 271.8C671.6 273.7 673.1 274.9 674.4 275.9C675.6 276.9 675.9 277.6 677.3 277.7C678.6 277.8 680.7 277.5 682.5 276.3C684.3 275.2 687.0 271.8 687.9 270.9M530.4 267.7C531.4 267.1 534.1 264.8 536.1 263.7C538.0 262.6 540.1 261.4 541.9 261.1C543.7 260.9 545.0 261.0 546.9 262.0C548.8 263.1 551.1 265.2 553.2 267.3C555.4 269.4 557.8 272.6 559.6 274.5C561.4 276.4 562.9 277.6 564.1 278.6C565.3 279.6 565.6 280.3 567.0 280.4C568.4 280.5 570.5 280.3 572.3 279.1C574.0 277.8 576.0 274.7 577.7 272.7C579.3 270.8 581.0 268.3 582.2 267.3C583.4 266.2 584.6 266.5 585.1 266.4M639.8 267.7C638.9 267.1 636.1 264.8 634.2 263.7C632.3 262.6 630.1 261.4 628.3 261.1C626.5 260.9 625.2 261.0 623.3 262.0C621.5 263.1 619.1 265.2 617.0 267.3C614.9 269.4 612.5 272.6 610.7 274.5C608.9 276.4 607.4 277.6 606.1 278.6C604.9 279.6 604.6 280.3 603.2 280.4C601.9 280.5 599.8 280.3 598.0 279.1C596.2 277.8 594.2 274.7 592.6 272.7C590.9 270.8 589.3 268.3 588.0 267.3C586.8 266.2 585.6 266.5 585.1 266.4M640.7 267.7C641.6 267.1 644.4 264.8 646.3 263.7C648.2 262.6 650.4 261.4 652.2 261.1C654.0 260.9 655.3 261.0 657.2 262.0C659.0 263.1 661.4 265.2 663.5 267.3C665.6 269.4 668.0 272.6 669.8 274.5C671.6 276.4 673.1 277.6 674.4 278.6C675.6 279.6 675.9 280.3 677.3 280.4C678.6 280.5 680.7 280.3 682.5 279.1C684.3 277.8 687.0 273.8 687.9 272.7M548.3 252.8C549.1 253.4 551.4 254.8 553.2 256.4C555.1 258.0 557.3 260.8 559.6 262.3C561.9 263.8 564.9 265.1 567.0 265.5C569.1 265.9 570.5 265.3 572.3 264.6C574.0 263.8 576.0 262.0 577.7 261.0C579.3 259.9 581.0 258.8 582.2 258.2C583.4 257.7 584.6 257.9 585.1 257.8M622.0 252.8C621.2 253.4 618.9 254.8 617.0 256.4C615.1 258.0 613.0 260.8 610.7 262.3C608.4 263.8 605.4 265.1 603.2 265.5C601.1 265.9 599.8 265.3 598.0 264.6C596.2 263.8 594.2 262.0 592.6 261.0C590.9 259.9 589.3 258.8 588.0 258.2C586.8 257.7 585.6 257.9 585.1 257.8M658.5 252.8C659.3 253.4 661.6 254.8 663.5 256.4C665.4 258.0 667.5 260.8 669.8 262.3C672.1 263.8 675.1 265.1 677.3 265.5C679.4 265.9 680.7 265.3 682.5 264.6C684.3 263.8 687.0 261.6 687.9 261.0M551.0 252.8C551.7 253.5 553.5 255.1 555.1 256.9C556.6 258.6 558.5 261.5 560.5 263.2C562.5 265.0 565.0 266.8 567.0 267.3C569.0 267.7 570.5 266.8 572.3 265.9C574.0 265.1 576.0 263.3 577.7 262.3C579.3 261.3 581.0 260.5 582.2 260.1C583.4 259.6 584.6 259.7 585.1 259.6M619.3 252.8C618.6 253.5 616.8 255.1 615.2 256.9C613.6 258.6 611.8 261.5 609.8 263.2C607.8 265.0 605.2 266.8 603.2 267.3C601.3 267.7 599.8 266.8 598.0 265.9C596.2 265.1 594.2 263.3 592.6 262.3C590.9 261.3 589.3 260.5 588.0 260.1C586.8 259.6 585.6 259.7 585.1 259.6M661.2 252.8C661.9 253.5 663.7 255.1 665.3 256.9C666.9 258.6 668.7 261.5 670.7 263.2C672.7 265.0 675.3 266.8 677.3 267.3C679.2 267.7 680.7 266.8 682.5 265.9C684.3 265.1 687.0 262.9 687.9 262.3M530.4 253.3C532.9 253.3 540.4 253.3 545.1 253.3C549.8 253.3 555.0 253.2 558.7 253.3C562.3 253.3 564.4 253.3 567.0 253.4C569.6 253.6 571.7 253.9 574.1 254.2C576.4 254.4 579.5 254.9 581.3 255.1C583.1 255.2 584.5 255.1 585.1 255.1M639.8 253.3C637.4 253.3 629.9 253.3 625.1 253.3C620.4 253.3 615.2 253.2 611.6 253.3C607.9 253.3 605.8 253.3 603.2 253.4C600.7 253.6 598.6 253.9 596.2 254.2C593.8 254.4 590.8 254.9 588.9 255.1C587.1 255.2 585.8 255.1 585.1 255.1M640.7 253.3C643.1 253.3 650.6 253.3 655.4 253.3C660.1 253.3 665.3 253.2 668.9 253.3C672.6 253.3 674.7 253.3 677.3 253.4C679.8 253.6 683.1 254.0 684.3 254.2M530.4 360.5C531.7 360.2 535.4 359.4 537.9 358.7C540.3 358.0 542.7 357.0 545.1 356.4C547.5 355.8 550.1 355.1 552.3 354.9C554.6 354.6 556.6 354.9 558.7 355.1C560.8 355.2 563.6 355.4 565.0 355.5C566.4 355.6 566.7 355.7 567.0 355.8M530.4 360.9C532.1 360.9 536.9 361.0 540.6 360.9C544.2 360.9 548.9 360.6 552.3 360.5C555.8 360.4 559.0 360.4 561.4 360.5C563.8 360.6 566.1 360.9 567.0 360.9M530.4 366.4C531.4 366.6 533.6 366.9 536.1 367.7C538.5 368.6 542.8 370.9 545.1 371.3C547.4 371.8 547.7 371.6 549.6 370.4C551.6 369.2 554.6 366.4 556.9 364.1C559.1 361.8 561.5 358.3 563.2 356.9C564.9 355.4 566.4 355.7 567.0 355.5M530.4 366.8C531.5 367.1 534.5 367.7 537.0 368.6C539.4 369.5 542.5 371.7 545.1 372.2C547.7 372.8 550.1 372.5 552.3 371.8C554.6 371.0 556.6 368.9 558.7 367.7C560.8 366.5 563.6 365.2 565.0 364.6C566.4 363.9 566.7 363.8 567.0 363.6M530.8 379.0C532.0 379.1 535.2 379.5 537.9 379.4C540.5 379.4 543.7 378.9 546.9 378.5C550.1 378.1 553.5 377.7 556.9 377.2C560.2 376.6 565.3 375.7 567.0 375.4M530.8 380.8C532.4 380.9 537.3 381.3 540.6 381.2C543.9 381.2 547.4 380.9 550.5 380.3C553.7 379.8 556.8 378.8 559.6 378.1C562.3 377.3 565.8 376.2 567.0 375.8M530.8 384.4C532.4 384.6 537.3 385.4 540.6 385.8C543.9 386.1 547.8 386.8 550.5 386.7C553.2 386.5 554.8 385.5 556.9 384.9C559.0 384.3 561.5 383.4 563.2 383.1C564.9 382.7 566.4 382.7 567.0 382.6M530.8 384.0C531.7 384.3 534.0 385.5 536.1 386.2C538.1 387.0 540.9 387.8 543.3 388.5C545.7 389.2 548.3 389.9 550.5 390.3C552.8 390.7 554.1 390.9 556.9 391.0C559.6 391.1 565.3 390.8 567.0 390.7M530.8 384.9C531.5 385.3 533.8 386.4 535.1 387.6C536.5 388.8 537.6 390.6 538.8 392.1C540.0 393.6 541.3 395.3 542.4 396.6C543.4 398.0 544.0 399.5 545.1 400.2C546.2 401.0 547.2 400.9 548.7 401.2C550.2 401.5 553.2 401.9 554.2 402.1M530.8 390.3C531.7 390.4 534.0 390.2 536.1 390.7C538.1 391.3 541.2 392.5 543.3 393.5C545.4 394.4 547.2 395.7 548.7 396.6C550.2 397.5 550.7 398.1 552.3 398.9C554.0 399.6 556.2 400.5 558.7 401.2C561.1 401.8 565.6 402.7 567.0 403.0M530.8 392.6C531.7 392.6 534.3 392.6 536.1 393.0C537.8 393.4 539.7 394.1 541.5 394.8C543.3 395.6 545.4 396.9 546.9 397.5C548.4 398.2 549.9 398.7 550.5 398.9M543.3 401.2C544.3 400.5 547.4 398.6 549.6 397.5C551.9 396.5 554.6 395.3 556.9 394.8C559.1 394.3 561.5 394.4 563.2 394.4C564.9 394.3 566.4 394.4 567.0 394.4M541.5 400.2C543.0 399.9 548.0 399.0 550.5 398.4C553.1 397.8 554.1 397.1 556.9 396.6C559.6 396.2 565.3 395.9 567.0 395.7M530.8 404.8C531.7 404.5 534.3 403.8 536.1 403.4C537.8 403.0 540.0 402.3 541.5 402.5C543.0 402.7 544.0 403.9 545.1 404.8C546.2 405.7 547.4 407.4 547.8 407.9M530.8 405.7C532.0 405.8 535.5 406.0 537.9 406.1C540.2 406.3 542.4 406.6 545.1 406.6C547.8 406.6 550.5 406.4 554.2 406.1C557.8 405.9 564.9 405.4 567.0 405.2M530.8 407.7C533.2 407.8 539.1 408.3 545.1 408.4C551.1 408.5 563.4 408.2 567.0 408.2M566.7 355.4C569.8 355.4 579.0 355.4 585.2 355.4C591.3 355.4 600.5 355.4 603.5 355.4M566.7 357.3C568.1 357.0 572.2 355.9 575.3 355.4C578.4 354.9 581.9 354.3 585.2 354.3C588.4 354.3 591.8 354.9 594.9 355.4C597.9 355.9 602.1 357.0 603.5 357.3M566.7 357.3C568.1 357.6 572.2 358.5 575.3 359.2C578.4 359.8 581.9 361.1 585.2 361.1C588.4 361.1 591.8 359.8 594.9 359.2C597.9 358.5 602.1 357.6 603.5 357.3M566.7 360.3C568.1 360.0 572.2 358.7 575.3 358.4C578.4 358.1 581.9 358.4 585.2 358.4C588.4 358.4 591.8 358.1 594.9 358.4C597.9 358.7 602.1 360.0 603.5 360.3M566.7 363.7C568.1 364.3 572.2 366.6 575.3 367.5C578.4 368.3 581.9 369.0 585.2 369.0C588.4 369.0 591.8 368.3 594.9 367.5C597.9 366.6 602.1 364.3 603.5 363.7M566.7 371.6C568.1 371.7 572.2 371.4 575.3 372.0C578.4 372.5 581.9 375.0 585.2 375.0C588.4 375.0 591.8 372.5 594.9 372.0C597.9 371.4 602.1 371.7 603.5 371.6M566.7 374.6C568.1 374.1 572.2 372.3 575.3 371.6C578.4 370.9 581.9 370.5 585.2 370.5C588.4 370.5 591.8 370.9 594.9 371.6C597.9 372.3 602.1 374.1 603.5 374.6M566.7 371.9C568.3 371.9 573.2 371.3 576.2 371.9C579.3 372.4 582.1 375.2 585.1 375.2C588.1 375.2 591.1 372.4 594.1 371.9C597.2 371.3 601.9 371.9 603.5 371.9M566.7 375.7C568.0 376.2 571.3 377.8 574.4 378.9C577.4 380.0 581.5 382.2 585.1 382.2C588.7 382.2 593.0 380.0 596.0 378.9C599.1 377.8 602.2 376.2 603.5 375.7M566.7 383.2C568.0 383.5 571.3 384.2 574.4 385.1C577.4 385.9 581.5 388.4 585.1 388.4C588.7 388.4 593.0 385.9 596.0 385.1C599.1 384.2 602.2 383.5 603.5 383.2M566.7 390.2C568.2 390.2 572.2 390.2 575.3 390.2C578.4 390.2 581.8 390.2 585.1 390.2C588.4 390.2 592.0 390.2 595.1 390.2C598.1 390.2 602.1 390.2 603.5 390.2M566.7 394.0C568.2 394.3 572.9 395.3 575.3 395.9C577.7 396.5 579.3 397.4 581.0 397.8C582.6 398.2 583.7 398.3 585.1 398.3C586.5 398.3 587.8 398.2 589.4 397.8C591.1 397.4 592.7 396.5 595.1 395.9C597.4 395.3 602.1 394.3 603.5 394.0M566.7 402.5C568.2 402.3 572.2 401.9 575.3 401.5C578.4 401.2 581.8 400.1 585.1 400.1C588.4 400.1 592.0 401.2 595.1 401.5C598.1 401.9 602.1 402.3 603.5 402.5M566.7 399.2C568.2 399.3 572.2 399.8 575.3 400.1C578.4 400.4 581.8 401.1 585.1 401.1C588.4 401.1 592.0 400.4 595.1 400.1C598.1 399.8 602.1 399.3 603.5 399.2M566.7 404.8C569.8 404.9 579.0 405.3 585.1 405.3C591.2 405.3 600.4 404.9 603.5 404.8M566.7 406.7C569.8 406.9 579.0 407.7 585.1 407.7C591.2 407.7 600.4 406.9 603.5 406.7M603.5 355.4C605.0 355.5 608.9 355.3 612.3 355.8C615.6 356.2 620.2 357.4 623.6 358.0C627.0 358.7 629.8 359.2 632.6 359.5C635.4 359.9 638.9 360.2 640.2 360.3M677.0 355.4C675.5 355.5 671.6 355.3 668.2 355.8C664.9 356.2 660.3 357.4 656.9 358.0C653.5 358.7 650.7 359.2 647.9 359.5C645.1 359.9 641.6 360.2 640.3 360.3M603.5 355.4C604.6 355.6 607.9 355.9 610.0 356.5C612.1 357.2 613.8 358.2 616.1 359.2C618.3 360.1 621.1 361.4 623.6 362.2C626.1 362.9 629.0 363.7 631.1 363.7C633.2 363.7 634.9 362.7 636.4 362.2C637.9 361.7 639.6 360.9 640.2 360.7M677.0 355.4C675.9 355.6 672.6 355.9 670.5 356.5C668.4 357.2 666.7 358.2 664.4 359.2C662.2 360.1 659.4 361.4 656.9 362.2C654.4 362.9 651.5 363.7 649.4 363.7C647.3 363.7 645.6 362.7 644.1 362.2C642.6 361.7 640.9 360.9 640.3 360.7M603.5 360.3C604.7 360.3 608.7 359.9 610.8 360.3C612.9 360.7 614.4 361.2 616.1 362.6C617.7 363.9 618.9 366.8 620.6 368.6C622.2 370.4 624.3 372.7 625.8 373.5C627.3 374.2 628.1 373.9 629.6 373.1C631.1 372.3 633.1 369.7 634.9 368.6C636.6 367.5 639.3 366.7 640.2 366.3M677.0 360.3C675.8 360.3 671.8 359.9 669.7 360.3C667.6 360.7 666.1 361.2 664.4 362.6C662.8 363.9 661.6 366.8 659.9 368.6C658.3 370.4 656.2 372.7 654.7 373.5C653.2 374.2 652.4 373.9 650.9 373.1C649.4 372.3 647.4 369.7 645.6 368.6C643.9 367.5 641.2 366.7 640.3 366.3M603.5 364.1C604.3 364.4 606.4 365.6 608.5 366.3C610.6 367.1 613.5 368.1 616.1 368.6C618.6 369.1 621.1 369.6 623.6 369.3C626.1 369.1 628.3 367.6 631.1 367.1C633.9 366.6 638.7 366.4 640.2 366.3M677.0 364.1C676.2 364.4 674.1 365.6 672.0 366.3C669.9 367.1 667.0 368.1 664.4 368.6C661.9 369.1 659.4 369.6 656.9 369.3C654.4 369.1 652.2 367.6 649.4 367.1C646.6 366.6 641.8 366.4 640.3 366.3M603.5 359.9C604.6 360.1 607.3 360.4 610.0 360.7C612.8 361.0 616.9 361.4 619.8 361.8C622.7 362.2 624.8 362.9 627.3 362.9C629.9 362.9 632.7 362.2 634.9 361.8C637.0 361.4 639.3 360.9 640.2 360.7M677.0 359.9C675.9 360.1 673.2 360.4 670.5 360.7C667.7 361.0 663.6 361.4 660.7 361.8C657.8 362.2 655.7 362.9 653.2 362.9C650.6 362.9 647.8 362.2 645.6 361.8C643.5 361.4 641.2 360.9 640.3 360.7M603.4 371.9C604.6 372.0 607.7 372.0 610.4 372.4C613.1 372.7 616.7 373.5 619.8 374.2C623.0 374.9 625.8 375.9 629.3 376.6C632.7 377.3 638.4 378.2 640.3 378.5M677.1 371.9C675.9 372.0 672.8 372.0 670.1 372.4C667.4 372.7 663.8 373.5 660.7 374.2C657.5 374.9 654.7 375.9 651.2 376.6C647.8 377.3 642.1 378.2 640.2 378.5M603.4 373.8C604.6 373.9 607.7 373.9 610.4 374.7C613.1 375.5 616.7 377.2 619.8 378.5C623.0 379.7 625.8 381.5 629.3 382.2C632.7 383.0 638.4 383.0 640.3 383.2M677.1 373.8C675.9 373.9 672.8 373.9 670.1 374.7C667.4 375.5 663.8 377.2 660.7 378.5C657.5 379.7 654.7 381.5 651.2 382.2C647.8 383.0 642.1 383.0 640.2 383.2M603.4 375.7C604.6 376.1 608.2 377.2 610.4 378.5C612.7 379.7 615.1 381.8 617.0 383.2C618.9 384.6 619.7 386.2 621.7 387.0C623.8 387.7 626.7 388.2 629.3 387.9C631.8 387.6 634.9 386.0 636.8 385.1C638.6 384.1 639.7 382.7 640.3 382.2M677.1 375.7C675.9 376.1 672.3 377.2 670.1 378.5C667.8 379.7 665.4 381.8 663.5 383.2C661.6 384.6 660.8 386.2 658.8 387.0C656.7 387.7 653.8 388.2 651.2 387.9C648.7 387.6 645.6 386.0 643.7 385.1C641.9 384.1 640.8 382.7 640.2 382.2M603.4 383.2C604.9 383.5 609.3 384.0 612.3 385.1C615.3 386.2 618.9 389.0 621.7 389.8C624.5 390.6 626.2 389.9 629.3 389.8C632.3 389.7 638.4 389.4 640.3 389.3M677.1 383.2C675.6 383.5 671.2 384.0 668.2 385.1C665.2 386.2 661.6 389.0 658.8 389.8C656.0 390.6 654.3 389.9 651.2 389.8C648.2 389.7 642.1 389.4 640.2 389.3M603.4 389.3C604.9 389.4 609.6 389.6 612.3 389.8C615.0 389.9 617.0 389.9 619.8 390.2C622.7 390.6 625.8 391.3 629.3 391.7C632.7 392.0 638.4 392.1 640.3 392.1M677.1 389.3C675.6 389.4 670.9 389.6 668.2 389.8C665.5 389.9 663.5 389.9 660.7 390.2C657.8 390.6 654.7 391.3 651.2 391.7C647.8 392.0 642.1 392.1 640.2 392.1M603.4 394.5C604.6 394.6 607.7 395.0 610.4 395.4C613.1 395.9 616.7 396.8 619.8 397.3C623.0 397.8 625.8 398.3 629.3 398.3C632.7 398.3 638.4 397.5 640.3 397.3M677.1 394.5C675.9 394.6 672.8 395.0 670.1 395.4C667.4 395.9 663.8 396.8 660.7 397.3C657.5 397.8 654.7 398.3 651.2 398.3C647.8 398.3 642.1 397.5 640.2 397.3M619.8 405.8C621.1 404.7 625.2 401.5 627.4 399.2C629.6 396.8 631.4 393.9 633.0 391.7C634.6 389.5 635.6 387.6 636.8 386.0C638.0 384.4 639.7 382.9 640.3 382.2M660.7 405.8C659.4 404.7 655.3 401.5 653.1 399.2C650.9 396.8 649.1 393.9 647.5 391.7C645.9 389.5 644.9 387.6 643.7 386.0C642.5 384.4 640.8 382.9 640.2 382.2M603.4 400.1C604.6 400.3 607.7 400.6 610.4 401.1C613.1 401.5 616.7 402.5 619.8 403.0C623.0 403.4 625.8 403.5 629.3 403.9C632.7 404.3 638.4 405.1 640.3 405.3M677.1 400.1C675.9 400.3 672.8 400.6 670.1 401.1C667.4 401.5 663.8 402.5 660.7 403.0C657.5 403.4 654.7 403.5 651.2 403.9C647.8 404.3 642.1 405.1 640.2 405.3M603.4 405.8C606.2 405.9 613.7 406.5 619.8 406.7C626.0 407.0 636.9 407.1 640.3 407.2M677.1 405.8C674.3 405.9 666.8 406.5 660.7 406.7C654.5 407.0 643.6 407.1 640.2 407.2" stroke="#b82431" stroke-width="1.0"/>
</g>
<rect x="530.00" y="252.40" width="147.00" height="156.50" fill="none" stroke="#262626" stroke-width="1.05"/>
<line x1="527.90" x2="530.00" y1="268.05" y2="268.05" stroke="#262626" stroke-width="0.8"/>
<line x1="527.90" x2="530.00" y1="299.35" y2="299.35" stroke="#262626" stroke-width="0.8"/>
<line x1="527.90" x2="530.00" y1="330.65" y2="330.65" stroke="#262626" stroke-width="0.8"/>
<line x1="527.90" x2="530.00" y1="361.95" y2="361.95" stroke="#262626" stroke-width="0.8"/>
<line x1="527.90" x2="530.00" y1="393.25" y2="393.25" stroke="#262626" stroke-width="0.8"/>
<line x1="530.00" x2="530.00" y1="408.90" y2="412.80" stroke="#262626" stroke-width="1.05"/>
<line x1="566.75" x2="566.75" y1="408.90" y2="412.80" stroke="#262626" stroke-width="1.05"/>
<line x1="603.50" x2="603.50" y1="408.90" y2="412.80" stroke="#262626" stroke-width="1.05"/>
<line x1="640.25" x2="640.25" y1="408.90" y2="412.80" stroke="#262626" stroke-width="1.05"/>
<line x1="677.00" x2="677.00" y1="408.90" y2="412.80" stroke="#262626" stroke-width="1.05"/>
<text x="530.30" y="424.30" font-size="10.1" text-anchor="middle">Γ</text>
<text x="566.75" y="424.30" font-size="10.1" text-anchor="middle">K</text>
<text x="603.80" y="424.30" font-size="10.1" text-anchor="middle" font-style="italic">K′</text>
<text x="640.55" y="424.30" font-size="10.1" text-anchor="middle">Γ</text>
<text x="678.50" y="424.30" font-size="10.1" text-anchor="middle" font-style="italic">K″</text>
<text x="676.20" y="245.60" font-size="10.4" text-anchor="end" textLength="58" lengthAdjust="spacingAndGlyphs">AA+(1/2,0)</text>
<text x="530.25" y="245.60" font-size="10.4" textLength="13.8" lengthAdjust="spacingAndGlyphs">(d)</text>
<text transform="translate(8.8 330.50) rotate(-90)" font-size="10.2" text-anchor="middle" textLength="45.8" lengthAdjust="spacingAndGlyphs">E-E<tspan font-size="7.4" dy="1.3" font-style="italic">F</tspan><tspan dy="-1.3"> (eV)</tspan></text>
<ellipse cx="633" cy="91.5" rx="34" ry="31" fill="#fff"/>
<polygon points="658.00,95.10 645.40,116.92 620.20,116.92 607.60,95.10 620.20,73.28 645.40,73.28" fill="none" stroke="#1c2430" stroke-width="1.5" stroke-linejoin="miter"/>
<circle cx="658.00" cy="95.10" r="1.6" fill="#e8281e"/>
<circle cx="607.60" cy="95.10" r="1.6" fill="#e8281e"/>
<circle cx="620.20" cy="73.28" r="1.6" fill="#e8281e"/>
<circle cx="645.40" cy="73.28" r="1.6" fill="#e8281e"/>
<circle cx="632.80" cy="73.28" r="1.6" fill="#3c7fd0"/>
<circle cx="613.90" cy="84.19" r="1.6" fill="#3c7fd0"/>
<circle cx="651.70" cy="84.19" r="1.6" fill="#3c7fd0"/>
<text x="616.0" y="73.3" font-size="8.4" text-anchor="middle" fill="#222">K'</text>
<text x="634.0" y="70.9" font-size="8.4" text-anchor="middle" fill="#222">M'</text>
<text x="653.5" y="73.3" font-size="8.4" text-anchor="middle" fill="#222">K''</text>
<text x="608.0" y="86.5" font-size="8.4" text-anchor="middle" fill="#222">M</text>
<text x="660.4" y="86.5" font-size="8.4" text-anchor="middle" fill="#222">M''</text>
<text x="602.2" y="98.1" font-size="8.4" text-anchor="middle" fill="#222">K</text>
<text x="664.2" y="98.1" font-size="8.4" text-anchor="middle" fill="#222">K</text>
</svg></body></html>
